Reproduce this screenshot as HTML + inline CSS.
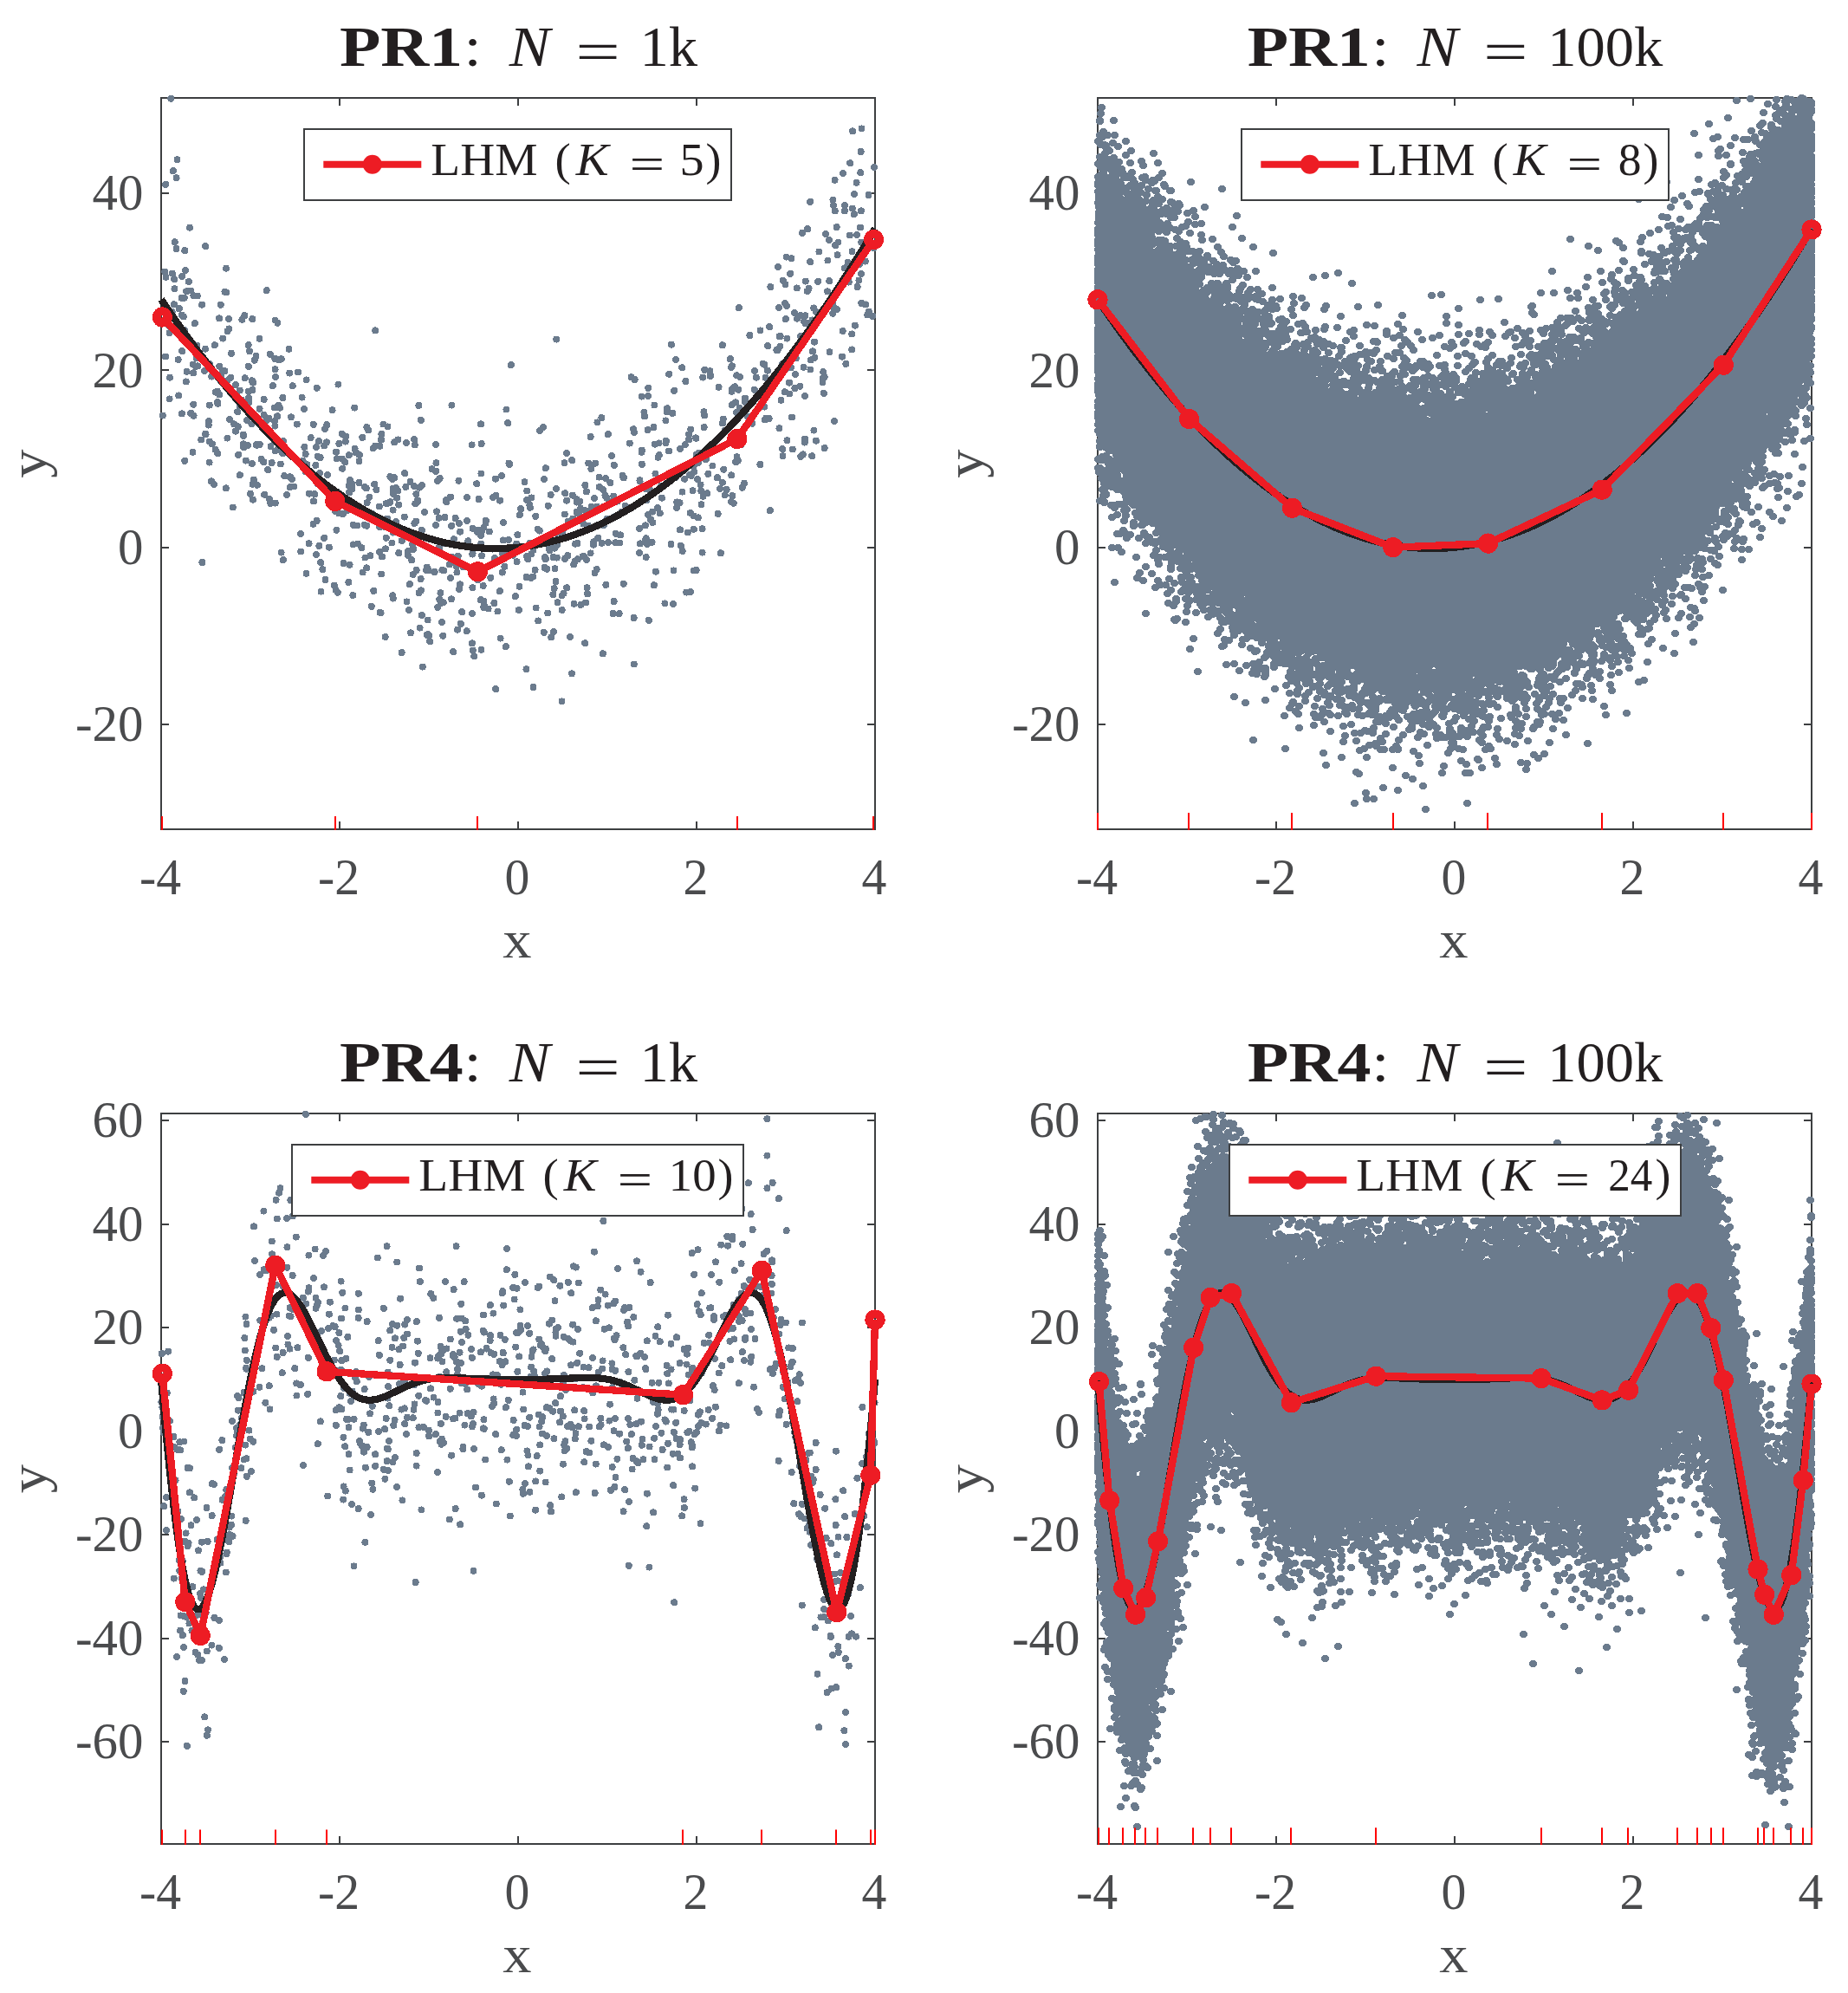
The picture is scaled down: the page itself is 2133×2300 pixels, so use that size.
<!DOCTYPE html>
<html lang="en">
<head>
<meta charset="utf-8">
<title>LHM fits: PR1 and PR4</title>
<style>
html,body{margin:0;padding:0;background:#fff}
svg{display:block}
text{font-family:"Liberation Serif","DejaVu Serif",serif}
</style>
</head>
<body>
<svg width="2133" height="2300" viewBox="0 0 2133 2300">
<rect width="2133" height="2300" fill="#fff"/>
<rect x="186.0" y="113.0" width="824.0" height="844.0" fill="none" stroke="#3d3f41" stroke-width="2"/>
<path d="M392.0 957.0v-9M392.0 113.0v9M598.0 957.0v-9M598.0 113.0v9M804.0 957.0v-9M804.0 113.0v9M186 223h9M1010 223h-9M186 427h9M1010 427h-9M186 632h9M1010 632h-9M186 836h9M1010 836h-9" fill="none" stroke="#3d3f41" stroke-width="2"/>
<path d="M291.9 576.7h0M597.4 617.2h0M681.6 638.4h0M209.6 343.7h0M307.9 484.9h0M950.8 453.9h0M244 555.4h0M292.9 553.6h0M967.4 279.6h0M698.4 571.7h0M490.1 590.9h0M607.4 772.3h0M732.2 499h0M412.9 627.5h0M299.7 512.8h0M835.3 541.7h0M738.4 554.3h0M608.2 642.1h0M859 557.8h0M638.4 686.2h0M994.3 279.5h0M354.5 536.2h0M642.3 628.4h0M584.5 472.5h0M477.1 633.8h0M673.5 604.5h0M379.9 631.7h0M847 512.6h0M900.7 388h0M292.1 441.6h0M570.9 643.9h0M414.4 557h0M254.5 434.5h0M924.3 526.8h0M540.3 624.3h0M307.7 335.2h0M740.9 519.6h0M352.6 544h0M928.8 510.6h0M364.9 640.1h0M213.3 289.1h0M351.4 515.9h0M470.9 636h0M572.4 571.7h0M932.7 372.7h0M760.6 511.4h0M465.6 620.3h0M199.9 197.2h0M317.7 580.6h0M1007.1 364.8h0M564.8 613.5h0M755.4 467.5h0M231 412.7h0M214.1 311.9h0M883 484.4h0M670.4 697.9h0M440.4 500.8h0M447.5 492.4h0M259.5 336.5h0M328.3 549.2h0M206.3 456.4h0M877.4 536h0M570.2 648.8h0M290.8 439.3h0M795.1 501.4h0M347.2 636.5h0M237 402.7h0M679.1 609.7h0M924.1 388.1h0M208.2 379.4h0M849.4 499.2h0M342.7 489.6h0M262.6 439.3h0M200.8 351.3h0M427.4 641.2h0M785.1 517.8h0M592.4 640.7h0M888.8 589.1h0M365 516.1h0M445.7 620.7h0M398.7 509.6h0M992.1 304.8h0M961.4 348h0M466.7 596.6h0M545.3 632.4h0M445 633.3h0M801.1 658.5h0M219 262.7h0M241.6 533.6h0M518.9 651.5h0M388 521.5h0M882.5 420.8h0M797.2 495.5h0M635.7 571h0M731.1 495.3h0M756.4 546.6h0M829.6 446.8h0M950.3 429.2h0M309.4 483.8h0M701.9 626h0M304.3 533.1h0M551.1 611.8h0M833.9 398.3h0M923.2 445.7h0M811.6 572.7h0M215.2 336.3h0M482.2 579h0M320.4 372.7h0M1009 193.1h0M304.7 478.9h0M387.3 590.3h0M480.3 601.5h0M236.2 427.8h0M903.2 518.2h0M710.4 595.6h0M317.6 520.4h0M596.6 648.2h0M250.8 464.2h0M689.4 487.4h0M376.9 510.4h0M217.8 325h0M281 512.4h0M643.5 695.2h0M710.9 615.9h0M453.6 588.6h0M716.2 617.4h0M476.1 628.4h0M293.7 415.7h0M445.7 581h0M511.7 695.3h0M938 405.4h0M281.3 516.3h0M257 428.8h0M648.7 704h0M979.8 325.6h0M933.6 332.7h0M763 560.8h0M241 486h0M850.5 527.3h0M749.1 563.9h0M304.6 460.9h0M569.1 573.9h0M226.6 413.1h0M846.7 580.7h0M778.2 450.8h0M849 464.4h0M812.6 493.1h0M406.2 558.3h0M836.7 571.3h0M391.3 592.4h0M299.6 471.7h0M507.7 552.1h0M596.2 627.6h0M421.5 643.5h0M685.2 625.4h0M682.5 584.7h0M383.6 473.2h0M699 551.9h0M480.4 570.2h0M791.4 440h0M425.3 496.4h0M844.2 424h0M528.1 726.6h0M641.9 563.9h0M740.8 535.9h0M613.1 666.8h0M398.3 533.3h0M993 262.5h0M265.1 484.1h0M453.7 614.6h0M638.5 643.1h0M209.6 363.5h0M313.6 534.1h0M844.6 451.7h0M831.9 638.3h0M710.9 615.8h0M929.1 506.5h0M808.6 559.4h0M432.2 558.7h0M717.4 590.9h0M466.2 619.1h0M803.9 524.8h0M503.1 513.1h0M312.3 580.8h0M908.2 353h0M754.9 675.3h0M799.6 566.3h0M647.1 610.6h0M831.1 563.9h0M555 617.9h0M652.2 569.3h0M237.6 501.3h0M643.4 628.7h0M857.2 503.1h0M767.4 696.4h0M847.8 499.9h0M594.8 688.2h0M912.2 315.9h0M275.2 524.8h0M907.6 296.6h0M491.9 658.1h0M261 309.7h0M696.3 565.3h0M560.8 600.7h0M539 574h0M888.1 377.2h0M299.5 390.8h0M694.4 482.1h0M526.9 653.4h0M621.3 716.4h0M597.5 629.9h0M296.5 513.8h0M607.9 576.9h0M896.4 403.9h0M327.1 509.1h0M195.5 384.2h0M241.7 467.6h0M564.9 652.8h0M988.9 271.1h0M222.5 521.7h0M1002.5 225h0M627.7 729.8h0M285 485.2h0M530.9 674.4h0M356.9 569.6h0M774.5 628.1h0M632.2 707.5h0M423.3 606.7h0M396.5 650.1h0M900.4 399.7h0M817.4 546.9h0M545.4 678.2h0M520.1 666.9h0M793.7 614.5h0M985.9 223.9h0M251.6 453.4h0M317.1 486.1h0M484.6 724.6h0M604.4 631.1h0M244.8 512.3h0M230.1 410.5h0M366.8 526.9h0M504 590.3h0M795.2 507.1h0M688.6 657.1h0M210.1 318.8h0M223.1 430.3h0M558.5 608.5h0M906.9 368.2h0M940 394.6h0M486.8 710h0M917.2 361.1h0M951.6 435.1h0M521 691.3h0M800.8 610.7h0M487 560.2h0M312.5 515.2h0M660 777.3h0M257.2 390.6h0M732.6 438.1h0M852.8 355.1h0M940.3 412.7h0M555.2 627.6h0M282.7 436.3h0M929.7 324.6h0M903.2 420.2h0M983.3 385.4h0M675.4 559.9h0M740.9 535.5h0M493.6 715.5h0M336.9 552.9h0M426.4 573.7h0M779.8 550.9h0M453.8 569.7h0M755.9 512.7h0M599.8 594.1h0M556 641.3h0M983.3 403.4h0M322.9 470.6h0M587.4 534.5h0M317.6 369.6h0M958.5 348.8h0M588.6 635.8h0M459.5 507.4h0M324.7 414.3h0M675.5 589.3h0M514.7 577.2h0M290.8 535h0M212.7 343.7h0M508.4 684.3h0M666.5 627h0M613.5 639.3h0M927.6 423.7h0M937.2 526.3h0M957.5 406.3h0M844.9 467.2h0M579.6 638.1h0M617.6 657.7h0M513.4 597h0M515.2 579.1h0M220.3 335.6h0M844.2 548.4h0M388.7 567.6h0M210.2 405.1h0M570.4 696h0M777.5 658.4h0M545.3 639.6h0M486 681.3h0M728.6 435.2h0M320.2 518.7h0M195.3 376.3h0M674.2 642.2h0M623.1 496.9h0M899.4 494.3h0M528.7 641.8h0M833.8 556.7h0M200.8 377.1h0M208.5 381.8h0M679.2 534.6h0M372.4 657.1h0M241.4 424.8h0M291.3 368.1h0M494.8 658.5h0M463.8 624h0M650.6 684.8h0M917.4 448.1h0M487.3 627.6h0M337.7 445.3h0M662.3 651.5h0M187.8 479.6h0M503.1 606.1h0M447.4 598.5h0M505.2 555h0M227.9 341.5h0M642.7 643.6h0M700.3 574.4h0M803.6 657.9h0M974.9 243.3h0M478.3 604h0M726.8 511.6h0M550.2 558.3h0M363.2 570.2h0M918.8 413.4h0M800.6 595.4h0M962.9 485.9h0M863 480.7h0M942 360h0M291.5 558.9h0M198.9 315.6h0M349.6 531.8h0M525.6 598h0M752.6 625.7h0M547.3 757.3h0M609 576.7h0M813.1 479.4h0M244.2 434.6h0M744.9 606.4h0M226.2 423h0M390.9 580.4h0M781.2 586h0M748.8 715.8h0M520 573.6h0M428.7 699.8h0M868.4 488.7h0M412.4 606.5h0M211.7 365.4h0M389.7 683.7h0M203.5 287.1h0M854 434.9h0M286.8 422.8h0M988.6 210.8h0M361.5 604.7h0M438.2 608.3h0M668.2 592.6h0M440 507.5h0M498.5 541.3h0M271.9 497.6h0M506.6 631.7h0M206.8 356.2h0M370.5 682.6h0M935.4 426.5h0M417.4 632.1h0M409.2 470.6h0M745.7 621.3h0M913.5 298.3h0M429.8 593.2h0M496.1 740.2h0M774.9 397.7h0M838.7 564.9h0M691.8 562h0M333.5 402.9h0M334.9 562.2h0M810.6 610.3h0M768.4 485.4h0M924.5 389.3h0M828.6 592.9h0M533.1 706.2h0M295.8 513.2h0M919.7 332.4h0M759.1 585.9h0M660.9 571.7h0M747.9 457h0M503.4 534.3h0M468.9 511h0M660.2 531.2h0M583.8 746.1h0M770.2 471.3h0M957.3 324.2h0M884.2 454.3h0M505.3 700.8h0M492.9 732.8h0M949.7 436.9h0M511.2 627.3h0M845.4 572.1h0M262.4 505.6h0M557.7 676h0M611.4 583h0M852.5 502.5h0M909.2 424.6h0M311.8 408.8h0M694.5 626.8h0M704.4 557.1h0M310.9 575.9h0M872.9 435.7h0M642.1 615.1h0M978.5 302.8h0M339.5 561.5h0M618.6 701.5h0M452.5 626.5h0M715.4 626.5h0M687.1 534.7h0M608.2 566.5h0M453.7 690.6h0M601.2 587.1h0M492.7 654.6h0M920 367.7h0M566.3 666.8h0M577.6 736.6h0M399.1 503.5h0M395.2 540.7h0M972 411.6h0M444.7 735h0M901.5 461.8h0M676.1 695.5h0M993.9 316.1h0M321.2 467.8h0M961.9 237h0M822.5 537.5h0M654 523h0M770.1 475.5h0M781.3 579.4h0M555.5 749.9h0M708.8 536.9h0M374.3 514.5h0M203.6 205.2h0M743.4 475.6h0M577 577.6h0M932.2 264.2h0M403.6 651.8h0M860 459.6h0M998.7 301.6h0M926 268.8h0M980.7 271.5h0M317.1 470.5h0M322 415.3h0M374.1 620.8h0M483.9 562.6h0M281.1 502.8h0M310.2 482.7h0M201.2 322.3h0M955 336.3h0M483.5 684.2h0M701.8 501.1h0M560.5 603.8h0M798.3 534.8h0M850.3 433.3h0M501.6 660h0M627.1 493.1h0M266.3 435.7h0M421.2 562.1h0M369.6 528.1h0M440.3 662.5h0M453.3 687.3h0M659.8 601.6h0M460.2 582.6h0M455.3 510.4h0M871 427.9h0M196 435.7h0M190.3 313.6h0M233.1 351.7h0M899.2 355h0M708.2 572.5h0M785.8 629.8h0M975.1 237.1h0M365.6 601h0M944.1 324.8h0M385.9 675.6h0M613.5 574.4h0M747.2 628h0M842.9 414.2h0M390.4 443.6h0M579.1 549.1h0M223.6 479.8h0M423.2 655.4h0M994.3 349.9h0M931.8 336h0M665.6 590.5h0M834.1 488.5h0M929.4 364.2h0M459.4 566.4h0M993.9 243.4h0M555.6 512.1h0M316.9 510.2h0M622.8 612.6h0M675.2 742.3h0M756.9 659.6h0M738.9 627.4h0M220.2 476.9h0M712.6 578.6h0M945.4 290.5h0M738.2 609.9h0M989.6 331h0M607.5 666h0M853.6 470.6h0M301.6 529.7h0M923.9 364.2h0M545.6 609.9h0M908.4 390.6h0M450.4 550.1h0M700.4 598.8h0M883.6 435.8h0M772.2 431.7h0M696.8 606.1h0M985.8 247.1h0M258.5 439.4h0M270 489.3h0M640.5 656.2h0M972.7 382h0M751.7 570.2h0M441.1 642.5h0M274.8 492.4h0M555.4 546.5h0M581.8 642.3h0M571.9 552.7h0M696.3 584.7h0M410.8 522.1h0M911.4 454.5h0M423.6 580.1h0M274.2 475.3h0M473.5 556h0M957 277.2h0M317.4 491.6h0M414.8 525h0M949.5 441.1h0M472.8 674.2h0M880.7 419.8h0M223.4 341.2h0M918.1 431.9h0M381.5 576.5h0M334.8 550.3h0M797.6 548.9h0M1001.3 363.5h0M976.4 419.9h0M805.9 534.2h0M939.4 496.6h0M999.3 351.4h0M641.5 671.1h0M305.2 570.7h0M885.9 427.6h0M512.2 658.5h0M443.6 607.9h0M598.8 704h0M214.7 440.4h0M201.4 333.3h0M403.8 554.1h0M677 646.1h0M803.5 505.9h0M974.7 309.4h0M860.1 463.8h0M961.5 230.5h0M710.3 626.3h0M790.7 513.3h0M670 586.8h0M253.1 455.3h0M237 500.7h0M812.4 475.3h0M352.7 523.9h0M836.8 496.9h0M568.4 633.6h0M191.7 355h0M648.7 687.2h0M551.1 614.1h0M246.9 558.8h0M401.1 581.2h0M438.7 706.9h0M470.8 640.9h0M768.4 511.4h0M323.8 535.5h0M551.3 669.1h0M686 575.1h0M965.8 357h0M280.7 501.5h0M251.4 465.8h0M344 429.5h0M367.8 509.2h0M320.1 480.3h0M248.6 518.8h0M358.7 505.2h0M370.1 649.2h0M581.1 602.9h0M719.7 673.7h0M485.8 484.9h0M324.6 637.6h0M264 367.9h0M402.8 525.3h0M326.8 646.2h0M582.4 653.9h0M903.8 323.7h0M776.4 476.9h0M353.5 661.9h0M215.5 428.8h0M241.7 509.6h0M545.1 708.1h0M485.6 668.1h0M748.3 447.8h0M255.1 434.3h0M395.8 593.3h0M751.1 599.4h0M654.1 577.6h0M611.8 585.7h0M929 457.1h0M279.4 368.8h0M347.1 616.1h0M652 644.8h0M651.8 593.5h0M993.6 175h0M991.4 323.5h0M669.9 599h0M811.3 435.6h0M760.7 525.2h0M295.5 410.6h0M682.3 541h0M437.9 584.5h0M481.8 577.3h0M314.8 445.2h0M192.9 362.3h0M889.4 331.1h0M776.9 696.9h0M805.8 597.4h0M423.3 493h0M529.9 604h0M331.1 570.9h0M682.2 587.6h0M877.5 381.4h0M827.8 551.2h0M955.5 300.5h0M400.6 589.4h0M763.9 574.7h0M290.4 489.4h0M627.9 553.1h0M276.8 548.3h0M631.2 656.7h0M632.7 583.7h0M471.9 704h0M474 730.3h0M772 520.5h0M582.4 637.1h0M521.9 642.9h0M278.9 461.6h0M418.6 660.5h0M884 454.5h0M986.9 375.6h0M493.5 656.2h0M903.5 526.2h0M905.9 452.3h0M365.7 447.7h0M411.6 586.4h0M759.5 527.9h0M438.2 636.9h0M973.2 200h0M486.8 611.8h0M787.7 636h0M768.8 508.7h0M362 578.4h0M899.6 388.3h0M456.9 602h0M276.7 450.6h0M227.3 398.6h0M558.3 700.9h0M707.6 708h0M409.6 517.7h0M879.7 464.9h0M406.4 564.3h0M884.3 482.6h0M213.3 531.8h0M402.4 671.9h0M317.4 414h0M554.9 692.2h0M475.1 646.3h0M511.3 733.8h0M887.7 483.1h0M663.6 647.7h0M684.9 628.7h0M507.4 634.7h0M851.8 531.6h0M599.5 676.7h0M800.7 538.1h0M939.3 355.4h0M690.3 620.8h0M544.6 513.4h0M403.2 568.2h0M937.5 369.4h0M816.3 569.3h0M844.8 422.3h0M368.4 629.9h0M545.8 750.5h0M914.1 481.5h0M388.7 529.3h0M856.7 562.7h0M629.8 540.3h0M366.3 557.8h0M495.4 733.4h0M248.8 452.6h0M740.6 457.6h0M785 611.4h0M209.9 477.4h0M434.4 565.2h0M819.5 428.2h0M351.1 472.1h0M628.5 655.1h0M850 476.1h0M655.7 601.7h0M286.7 398.2h0M935.2 232.9h0M801.3 544.5h0M651.5 534.3h0M460.3 638.1h0M665.8 579.6h0M508.6 696h0M283.8 531.6h0M286.6 451.6h0M223.3 466.7h0M326.4 459h0M388.4 611.7h0M709.5 596.3h0M664.1 627.7h0M672.6 642.1h0M863.3 465.6h0M264.4 379.4h0M506.5 597.8h0M251.3 523.3h0M531.1 613.6h0M250.9 451.5h0M240.7 490.6h0M271.9 444.1h0M507.3 691.8h0M814.8 530.2h0M418.3 504.9h0M797.2 683h0M378.2 548h0M422.7 563.4h0M574.5 705.5h0M247.8 398.3h0M555.9 612.7h0M666.9 645.3h0M865.4 387h0M232.3 507.5h0M845.1 449.2h0M655.4 641.1h0M662.5 696.8h0M228.1 422.4h0M911 441.6h0M414.5 532.4h0M636.3 735.5h0M629.8 645.3h0M935.9 415.4h0M681.6 504.1h0M1002.9 359.7h0M377.3 490.2h0M731.6 713h0M661.3 598.6h0M609.2 645.1h0M703.2 578.6h0M639.7 679.1h0M463.6 753.1h0M714.7 708.2h0M254.7 351.7h0M580.7 623.4h0M559.1 699.2h0M361.7 489.8h0M654.1 678.3h0M738 637.9h0M289 569.8h0M430.7 517.3h0M237.1 284.2h0M678.1 685.3h0M253.3 422.7h0M375 495.2h0M555 489.4h0M558.2 693.9h0M213.2 381h0M966.6 294.3h0M375.5 669.1h0M688.6 584.5h0M369.1 546h0M676.9 567.4h0M476.7 663h0M448.5 580.6h0M576.9 682.2h0M669.1 578.8h0M678.9 606.5h0M753.3 603h0M407.3 687h0M261.5 337.5h0M394.8 500.8h0M455.2 551.2h0M686.5 661.4h0M527.5 660.5h0M442.5 489.5h0M267 407.8h0M677.6 678.3h0M276.6 468h0M611.9 626.6h0M753.2 590.6h0M699.4 674.9h0M317.6 426.2h0M479.3 581.3h0M961.3 361.7h0M260.8 563.4h0M745.3 622.8h0M545.6 638.2h0M691.5 550.6h0M510.4 657.8h0M288 405.3h0M649.4 617.6h0M191 411.5h0M898 308.1h0M844.2 579.2h0M494 732.1h0M628.8 643.2h0M620.7 610.7h0M993.3 199.2h0M222 403.2h0M431.3 681.9h0M521.4 467.6h0M834.8 483.6h0M787.5 567.6h0M534.8 654.1h0M195.6 460.4h0M719.9 551.4h0M521.2 606.8h0M282.3 364.1h0M705.9 525.9h0M552.6 576h0M438.5 514.7h0M407.8 605.8h0M615.2 665.5h0M390.1 577.3h0M510.1 718.1h0M962.2 354.8h0M579.7 660.6h0M394.9 529.7h0M615.5 634.8h0M941.9 508.7h0M899.8 428.5h0M744.1 480.5h0M926.8 524.4h0M809.5 582.2h0M746.4 577.4h0M538.7 728.3h0M309.1 542.2h0M789.2 542.2h0M708.6 694h0M983.5 290.2h0M450.5 579.2h0M908.4 508.3h0M366.1 552.8h0M965.7 262.1h0M1006.5 285.5h0M224.9 373.2h0M453.5 563.7h0M1008.6 286.1h0M983.9 240.5h0M738.6 555.6h0M296.8 559.7h0M191.5 319.8h0M391.4 511.9h0M964.2 283.1h0M849.2 533.3h0M539.1 601.1h0M813.3 426.9h0M929.5 373.4h0M433.1 514.6h0M906.5 328.4h0M408.1 585.9h0M456.9 563h0M222.8 420.5h0M318 435.2h0M639.9 632.6h0M205.7 415h0M635.7 628.9h0M326.1 523.2h0M803 505.3h0M291.5 450.1h0M356.6 627.2h0M407.6 628.4h0M666.2 592.3h0M852.2 449.7h0M806.6 522.6h0M796.8 592h0M747.7 496.1h0M633.7 632.3h0M468.3 562h0M334.2 430.6h0M897.7 404.1h0M523.2 752.2h0M721.8 583.8h0M242.3 420.3h0M483.4 467.9h0M268.7 585.5h0M478.1 507.2h0M790.2 552.7h0M467.1 546.2h0M748.1 594h0M287.5 464.4h0M503.2 543.9h0M523.9 622.3h0M605.5 556.2h0M374.2 562.8h0M761.7 592.3h0M913 424.3h0M855.6 513.3h0M211.4 390.1h0M588.2 535.8h0M469.5 694.4h0M658 735.1h0M254.6 439.2h0M787.2 424.3h0M529.4 554.7h0M963.8 243.5h0M201.7 279.3h0M530.2 679.9h0M587 623h0M870.8 449.9h0M809.3 566.5h0M336 481.3h0M439.6 707.4h0M792.3 683.6h0M531.8 719.9h0M402.8 560.6h0M952.9 270h0M880.7 464.1h0M478.8 513.4h0M638.8 729.2h0M951.7 517.1h0M364.4 536.9h0M935.1 302.2h0M914.8 518.5h0M784.6 580.2h0M751.3 600.1h0M750.5 566.4h0M634.4 635h0M665.8 576.4h0M348.6 458.6h0M649.6 612.8h0M740.5 521.8h0M586.1 488.2h0M745.7 643h0M563.6 702.5h0M848.1 446.3h0M780 414.9h0M259.4 428.1h0M819.9 433.2h0M420.7 605.7h0M253.1 367.4h0M285.9 514.2h0M453 552.9h0M618.3 595.8h0M458.1 574.7h0M353.6 438.4h0M819.8 434h0M494 657.6h0M906.1 349.9h0M387.5 680.8h0M754.5 493h0M480.6 657.9h0M886.2 399.1h0M718.6 549h0M745.2 563.9h0M262.5 382.3h0M805.1 552.9h0M478 561h0M795.9 548h0M882.4 469.6h0M286.9 459.2h0M198.6 360.1h0M810.6 637.6h0M984.1 151.4h0M927.9 370.9h0M544.9 742.4h0M197.3 113.7h0M994.5 148.4h0M204.5 184.2h0M981.2 188.3h0M433.2 381.4h0M642.3 391.6h0M589.8 421.2h0M648.5 809.4h0M615.5 793.1h0M233.4 649h0M963.6 207.7h0M191.1 212.8h0M487.8 769.6h0M572.2 795.1h0M731.9 766.5h0M695.9 754.3h0" fill="none" stroke="#6b7b8d" stroke-width="8.0" stroke-linecap="round" shape-rendering="crispEdges"/>
<polyline points="186,345.6 188.1,348.7 190.1,351.7 192.2,354.7 194.2,357.7 196.3,360.7 198.4,363.7 200.4,366.7 202.5,369.6 204.5,372.5 206.6,375.4 208.7,378.3 210.7,381.2 212.8,384.1 214.8,386.9 216.9,389.7 219,392.6 221,395.3 223.1,398.1 225.1,400.9 227.2,403.6 229.3,406.4 231.3,409.1 233.4,411.8 235.4,414.5 237.5,417.1 239.6,419.8 241.6,422.4 243.7,425 245.7,427.6 247.8,430.2 249.9,432.8 251.9,435.3 254,437.8 256,440.4 258.1,442.9 260.2,445.4 262.2,447.8 264.3,450.3 266.3,452.7 268.4,455.1 270.5,457.5 272.5,459.9 274.6,462.3 276.6,464.6 278.7,467 280.8,469.3 282.8,471.6 284.9,473.9 286.9,476.2 289,478.4 291.1,480.7 293.1,482.9 295.2,485.1 297.2,487.3 299.3,489.5 301.4,491.6 303.4,493.8 305.5,495.9 307.5,498 309.6,500.1 311.7,502.2 313.7,504.2 315.8,506.3 317.8,508.3 319.9,510.3 322,512.3 324,514.3 326.1,516.2 328.1,518.2 330.2,520.1 332.3,522 334.3,523.9 336.4,525.8 338.4,527.7 340.5,529.5 342.6,531.3 344.6,533.1 346.7,534.9 348.7,536.7 350.8,538.5 352.9,540.2 354.9,542 357,543.7 359,545.4 361.1,547.1 363.2,548.7 365.2,550.4 367.3,552 369.3,553.6 371.4,555.2 373.5,556.8 375.5,558.4 377.6,560 379.6,561.5 381.7,563 383.8,564.5 385.8,566 387.9,567.5 389.9,568.9 392,570.4 394.1,571.8 396.1,573.2 398.2,574.6 400.2,576 402.3,577.3 404.4,578.7 406.4,580 408.5,581.3 410.5,582.6 412.6,583.9 414.7,585.1 416.7,586.4 418.8,587.6 420.8,588.8 422.9,590 425,591.2 427,592.3 429.1,593.5 431.1,594.6 433.2,595.7 435.3,596.8 437.3,597.9 439.4,598.9 441.4,600 443.5,601 445.6,602 447.6,603 449.7,604 451.7,605 453.8,605.9 455.9,606.9 457.9,607.8 460,608.7 462,609.6 464.1,610.4 466.2,611.3 468.2,612.1 470.3,612.9 472.3,613.7 474.4,614.5 476.5,615.3 478.5,616 480.6,616.8 482.6,617.5 484.7,618.2 486.8,618.9 488.8,619.5 490.9,620.2 492.9,620.8 495,621.5 497.1,622.1 499.1,622.6 501.2,623.2 503.2,623.8 505.3,624.3 507.4,624.8 509.4,625.3 511.5,625.8 513.5,626.3 515.6,626.8 517.7,627.2 519.7,627.6 521.8,628 523.8,628.4 525.9,628.8 528,629.2 530,629.5 532.1,629.8 534.1,630.1 536.2,630.4 538.3,630.7 540.3,631 542.4,631.2 544.4,631.5 546.5,631.7 548.6,631.9 550.6,632 552.7,632.2 554.7,632.4 556.8,632.5 558.9,632.6 560.9,632.7 563,632.8 565,632.8 567.1,632.9 569.2,632.9 571.2,632.9 573.3,632.9 575.3,632.9 577.4,632.9 579.5,632.8 581.5,632.8 583.6,632.7 585.6,632.6 587.7,632.5 589.8,632.4 591.8,632.2 593.9,632 595.9,631.9 598,631.7 600.1,631.5 602.1,631.2 604.2,631 606.2,630.7 608.3,630.4 610.4,630.1 612.4,629.8 614.5,629.5 616.5,629.2 618.6,628.8 620.7,628.4 622.7,628 624.8,627.6 626.8,627.2 628.9,626.8 631,626.3 633,625.8 635.1,625.3 637.1,624.8 639.2,624.3 641.3,623.8 643.3,623.2 645.4,622.6 647.4,622.1 649.5,621.5 651.6,620.8 653.6,620.2 655.7,619.5 657.7,618.9 659.8,618.2 661.9,617.5 663.9,616.8 666,616 668,615.3 670.1,614.5 672.2,613.7 674.2,612.9 676.3,612.1 678.3,611.3 680.4,610.4 682.5,609.6 684.5,608.7 686.6,607.8 688.6,606.9 690.7,605.9 692.8,605 694.8,604 696.9,603 698.9,602 701,601 703.1,600 705.1,598.9 707.2,597.9 709.2,596.8 711.3,595.7 713.4,594.6 715.4,593.5 717.5,592.3 719.5,591.2 721.6,590 723.7,588.8 725.7,587.6 727.8,586.4 729.8,585.1 731.9,583.9 734,582.6 736,581.3 738.1,580 740.1,578.7 742.2,577.3 744.3,576 746.3,574.6 748.4,573.2 750.4,571.8 752.5,570.4 754.6,568.9 756.6,567.5 758.7,566 760.7,564.5 762.8,563 764.9,561.5 766.9,560 769,558.4 771,556.8 773.1,555.2 775.2,553.6 777.2,552 779.3,550.4 781.3,548.7 783.4,547.1 785.5,545.4 787.5,543.7 789.6,542 791.6,540.2 793.7,538.5 795.8,536.7 797.8,534.9 799.9,533.1 801.9,531.3 804,529.5 806.1,527.7 808.1,525.8 810.2,523.9 812.2,522 814.3,520.1 816.4,518.2 818.4,516.2 820.5,514.3 822.5,512.3 824.6,510.3 826.7,508.3 828.7,506.3 830.8,504.2 832.8,502.2 834.9,500.1 837,498 839,495.9 841.1,493.8 843.1,491.6 845.2,489.5 847.3,487.3 849.3,485.1 851.4,482.9 853.4,480.7 855.5,478.4 857.6,476.2 859.6,473.9 861.7,471.6 863.7,469.3 865.8,467 867.9,464.6 869.9,462.3 872,459.9 874,457.5 876.1,455.1 878.2,452.7 880.2,450.3 882.3,447.8 884.3,445.4 886.4,442.9 888.5,440.4 890.5,437.8 892.6,435.3 894.6,432.8 896.7,430.2 898.8,427.6 900.8,425 902.9,422.4 904.9,419.8 907,417.1 909.1,414.5 911.1,411.8 913.2,409.1 915.2,406.4 917.3,403.6 919.4,400.9 921.4,398.1 923.5,395.3 925.5,392.6 927.6,389.7 929.7,386.9 931.7,384.1 933.8,381.2 935.8,378.3 937.9,375.4 940,372.5 942,369.6 944.1,366.7 946.1,363.7 948.2,360.7 950.3,357.7 952.3,354.7 954.4,351.7 956.4,348.7 958.5,345.6 960.6,342.5 962.6,339.4 964.7,336.3 966.7,333.2 968.8,330.1 970.9,326.9 972.9,323.7 975,320.6 977,317.4 979.1,314.1 981.2,310.9 983.2,307.6 985.3,304.4 987.3,301.1 989.4,297.8 991.5,294.5 993.5,291.1 995.6,287.8 997.6,284.4 999.7,281 1001.8,277.6 1003.8,274.2 1005.9,270.8 1007.9,267.3 1010,263.9" fill="none" stroke="#231f20" stroke-width="8.2" stroke-linejoin="round" shape-rendering="crispEdges"/>
<polyline points="187.3,366 386.9,578.5 551.4,659.8 850.9,506.5 1008.5,276.5" fill="none" stroke="#ed1c24" stroke-width="8.3" stroke-linejoin="round" shape-rendering="crispEdges"/>
<g fill="none" stroke="#ed1c24" stroke-width="9.8" shape-rendering="crispEdges"><circle cx="187.3" cy="366" r="6.7"/><circle cx="386.9" cy="578.5" r="6.7"/><circle cx="551.4" cy="659.8" r="6.7"/><circle cx="850.9" cy="506.5" r="6.7"/><circle cx="1008.5" cy="276.5" r="6.7"/></g>
<path d="M187 958.0v-16.0M387 958.0v-16.0M551 958.0v-16.0M851 958.0v-16.0M1008 958.0v-16.0" fill="none" stroke="#ff0000" stroke-width="2"/>
<text transform="translate(185.00,1032.20) scale(0.965,1)" font-size="59.8" text-anchor="middle" fill="#4a4b4d">-4</text>
<text transform="translate(391.00,1032.20) scale(0.965,1)" font-size="59.8" text-anchor="middle" fill="#4a4b4d">-2</text>
<text transform="translate(597.00,1032.20) scale(0.965,1)" font-size="59.8" text-anchor="middle" fill="#4a4b4d">0</text>
<text transform="translate(803.00,1032.20) scale(0.965,1)" font-size="59.8" text-anchor="middle" fill="#4a4b4d">2</text>
<text transform="translate(1009.00,1032.20) scale(0.965,1)" font-size="59.8" text-anchor="middle" fill="#4a4b4d">4</text>
<text transform="translate(165.50,242.40) scale(0.985,1)" font-size="59.8" text-anchor="end" fill="#4a4b4d">40</text>
<text transform="translate(165.50,446.74) scale(0.985,1)" font-size="59.8" text-anchor="end" fill="#4a4b4d">20</text>
<text transform="translate(165.50,651.07) scale(0.985,1)" font-size="59.8" text-anchor="end" fill="#4a4b4d">0</text>
<text transform="translate(165.50,855.40) scale(0.985,1)" font-size="59.8" text-anchor="end" fill="#4a4b4d">-20</text>
<text transform="translate(597.00,1105.00) scale(1.1,1)" font-size="60.5" text-anchor="middle" fill="#4a4b4d">x</text>
<text transform="translate(52.7,535.0) rotate(-90) scale(1.10,1)" font-size="60.5" text-anchor="middle" fill="#4a4b4d">y</text>
<text transform="translate(391.94,76.30) scale(1.1934,1)" font-size="65" font-weight="bold" fill="#231f20">PR1</text>
<text transform="translate(535.46,76.30) scale(1.1237,1)" font-size="65" fill="#231f20">:</text>
<text transform="translate(587.75,76.30) scale(1.0897,1)" font-size="65" font-style="italic" fill="#231f20">N</text>
<text transform="translate(664.32,82.30) scale(1.4094,1)" font-size="65" fill="#231f20">=</text>
<text transform="translate(738.43,76.30) scale(1.0256,1)" font-size="65" fill="#231f20">1k</text>
<rect x="351.0" y="149.0" width="493.0" height="82" fill="#fff" stroke="#3d3f41" stroke-width="2"/>
<path d="M373.3 189.7h113" fill="none" stroke="#ed1c24" stroke-width="8"/>
<circle cx="429.8" cy="189.7" r="11" fill="#ed1c24"/>
<text transform="translate(497.34,202.20) scale(1.0659,1)" font-size="52" fill="#231f20">LHM</text>
<text transform="translate(640.53,202.20) scale(1.0558,1)" font-size="52" fill="#231f20">(</text>
<text transform="translate(664.77,202.20) scale(1.0897,1)" font-size="52" font-style="italic" fill="#231f20">K</text>
<text transform="translate(726.39,207.20) scale(1.3896,1)" font-size="52" fill="#231f20">=</text>
<text transform="translate(784.62,202.20) scale(1.0817,1)" font-size="52" fill="#231f20">5</text>
<text transform="translate(814.48,202.20) scale(1.0355,1)" font-size="52" fill="#231f20">)</text>
<rect x="1267.0" y="113.0" width="824.0" height="844.0" fill="none" stroke="#3d3f41" stroke-width="2"/>
<path d="M1473.0 957.0v-9M1473.0 113.0v9M1679.0 957.0v-9M1679.0 113.0v9M1885.0 957.0v-9M1885.0 113.0v9M1267 223h9M2091 223h-9M1267 427h9M2091 427h-9M1267 632h9M2091 632h-9M1267 836h9M2091 836h-9" fill="none" stroke="#3d3f41" stroke-width="2"/>
<path d="M2077 109.5h5M2018 110.5h5m37 0h5m11 0h8M2017 111.5h7m24 0h5m6 0h11m5 0h10M2002 112.5h5m9 0h9m22 0h7m4 0h13m3 0h12M2001 113.5h7m8 0h9m21 0h9m3 0h33M2000 114.5h9m7 0h9m21 0h9m2 0h36M2000 115.5h9m7 0h9m21 0h9m1 0h38M2000 116.5h9m8 0h7m14 0h5m3 0h9m1 0h39M2000 117.5h9m9 0h5m14 0h7m3 0h7m2 0h39M2001 118.5h7m28 0h9m3 0h5m3 0h39M2002 119.5h5m29 0h9m2 0h5m5 0h9m1 0h28M1269 120.5h5m762 0h9m1 0h7m4 0h9m2 0h27M1268 121.5h7m761 0h18m3 0h9m2 0h27M1267 122.5h9m761 0h7m1 0h9m2 0h39M1267 123.5h9m762 0h5m2 0h49M1267 124.5h9m769 0h50M1267 125.5h9m770 0h49M1268 126.5h7m758 0h5m9 0h48M1268 127.5h6m758 0h7m11 0h45M1267 128.5h7m757 0h9m9 0h13m2 0h31M1266 129.5h9m756 0h9m7 0h16m1 0h31M1266 130.5h9m756 0h9m6 0h49M1266 131.5h9m756 0h9m5 0h27m2 0h20M1266 132.5h9m717 0h5m35 0h7m6 0h27m2 0h19M1267 133.5h7m717 0h7m35 0h5m7 0h48M1268 134.5h5m717 0h9m46 0h10m1 0h36M1267 135.5h5m11 0h5m702 0h9m47 0h9m2 0h35M1266 136.5h7m9 0h7m701 0h9m47 0h46M1265 137.5h9m7 0h9m700 0h9m47 0h46M1265 138.5h9m7 0h9m701 0h7m34 0h5m9 0h47M1265 139.5h9m7 0h9m680 0h5m17 0h5m34 0h7m9 0h47M1265 140.5h9m7 0h9m679 0h7m54 0h9m3 0h5m1 0h47M1265 141.5h9m8 0h7m679 0h9m52 0h10m2 0h7m3 0h44M1266 142.5h7m10 0h5m680 0h9m51 0h11m1 0h9m3 0h43M1267 143.5h5m696 0h9m50 0h12m1 0h9m4 0h42M1968 144.5h9m50 0h11m2 0h9m7 0h39M1969 145.5h7m51 0h10m3 0h10m6 0h39M1970 146.5h5m52 0h9m4 0h15m1 0h39M2019 147.5h5m4 0h7m5 0h55M1271 148.5h5m742 0h7m4 0h5m6 0h55M1270 149.5h7m740 0h9m5 0h5m5 0h54M1269 150.5h9m675 0h5m59 0h9m4 0h10m1 0h54M1269 151.5h9m674 0h7m58 0h9m3 0h12m1 0h52M1267 152.5h14m3 0h5m662 0h9m57 0h9m3 0h64M1266 153.5h16m1 0h7m661 0h9m58 0h7m4 0h65M1265 154.5h26m660 0h9m20 0h5m34 0h9m1 0h66M1265 155.5h26m660 0h9m19 0h7m14 0h5m17 0h7m1 0h65M1265 156.5h26m661 0h7m16 0h12m12 0h7m15 0h9m1 0h64M1265 157.5h26m662 0h5m16 0h13m11 0h9m3 0h10m1 0h9m5 0h60M1266 158.5h16m1 0h7m683 0h14m11 0h9m2 0h21m5 0h60M1265 159.5h16m3 0h5m8 0h5m671 0h14m11 0h9m1 0h22m5 0h60M1264 160.5h12m20 0h7m670 0h13m12 0h9m1 0h22m4 0h61M1263 161.5h12m7 0h5m8 0h9m669 0h12m14 0h7m2 0h23m2 0h62M1263 162.5h10m8 0h7m7 0h9m670 0h7m19 0h5m3 0h23m1 0h63M1263 163.5h14m3 0h9m6 0h9m671 0h5m29 0h12m1 0h73M1263 164.5h16m1 0h9m6 0h9m691 0h5m10 0h10m2 0h73M1264 165.5h29m3 0h7m691 0h7m22 0h72M1265 166.5h29m3 0h5m691 0h9m22 0h71M1266 167.5h29m698 0h9m25 0h68M1266 168.5h15m1 0h13m688 0h5m5 0h9m25 0h68M1267 169.5h15m4 0h9m687 0h7m4 0h9m26 0h67M1268 170.5h15m3 0h9m8 0h5m673 0h9m4 0h7m28 0h66M1272 171.5h12m3 0h7m8 0h7m671 0h10m5 0h5m31 0h64M1273 172.5h12m3 0h5m8 0h9m669 0h11m19 0h5m13 0h68M1273 173.5h12m16 0h9m19 0h5m645 0h11m18 0h7m9 0h71M1272 174.5h13m16 0h9m18 0h7m644 0h10m18 0h9m2 0h77M1271 175.5h14m12 0h13m17 0h9m622 0h5m16 0h9m2 0h5m12 0h9m1 0h77M1271 176.5h13m12 0h13m18 0h9m621 0h7m16 0h7m2 0h7m11 0h86M1267 177.5h16m12 0h13m19 0h9m620 0h9m15 0h7m1 0h9m10 0h87M1266 178.5h14m3 0h5m7 0h9m23 0h9m620 0h9m14 0h18m11 0h7m1 0h79M1265 179.5h14m3 0h7m6 0h9m24 0h7m621 0h9m14 0h18m12 0h5m1 0h80M1265 180.5h25m5 0h9m25 0h5m622 0h9m14 0h18m18 0h80M1265 181.5h25m6 0h7m654 0h7m15 0h9m1 0h7m19 0h12m1 0h67M1265 182.5h25m7 0h5m13 0h5m638 0h5m17 0h7m3 0h5m15 0h18m2 0h65M1266 183.5h28m20 0h7m660 0h5m23 0h20m1 0h65M1267 184.5h28m7 0h5m6 0h9m12 0h5m669 0h87M1265 185.5h31m5 0h7m5 0h9m11 0h7m655 0h5m8 0h87M1264 186.5h32m4 0h9m4 0h9m10 0h9m544 0h5m104 0h7m7 0h22m1 0h64M1263 187.5h33m4 0h9m4 0h9m10 0h9m543 0h7m102 0h9m6 0h23m1 0h63M1263 188.5h33m4 0h9m5 0h9m9 0h9m542 0h9m101 0h9m7 0h86M1263 189.5h32m5 0h9m6 0h9m8 0h9m542 0h9m101 0h9m8 0h85M1263 190.5h31m7 0h7m7 0h9m9 0h7m543 0h9m101 0h9m8 0h85M1264 191.5h33m5 0h5m8 0h9m10 0h5m544 0h9m101 0h9m8 0h85M1265 192.5h33m17 0h9m560 0h7m103 0h7m10 0h84M1266 193.5h33m17 0h7m562 0h5m105 0h5m12 0h83M1266 194.5h33m18 0h5m665 0h5m19 0h84M1267 195.5h32m5 0h5m677 0h7m17 0h85M1268 196.5h31m4 0h7m29 0h5m641 0h9m16 0h85M1269 197.5h31m2 0h9m27 0h7m640 0h9m14 0h87M1268 198.5h10m1 0h21m2 0h9m26 0h9m639 0h10m12 0h88M1267 199.5h11m2 0h31m26 0h9m639 0h11m7 0h92M1265 200.5h13m2 0h31m8 0h5m13 0h9m640 0h11m5 0h93M1264 201.5h46m6 0h9m10 0h11m641 0h10m4 0h94M1263 202.5h46m6 0h11m8 0h11m641 0h11m4 0h94M1263 203.5h47m4 0h12m7 0h11m614 0h5m22 0h12m4 0h94M1263 204.5h29m1 0h18m3 0h12m2 0h14m615 0h7m21 0h11m5 0h19m3 0h72M1263 205.5h29m1 0h19m2 0h12m1 0h15m614 0h9m20 0h10m7 0h18m2 0h73M1264 206.5h48m2 0h28m30 0h5m544 0h5m30 0h9m20 0h9m9 0h16m3 0h73M1264 207.5h48m3 0h26m30 0h7m542 0h7m29 0h9m12 0h5m4 0h7m8 0h17m4 0h73M1264 208.5h49m3 0h24m30 0h9m540 0h9m28 0h9m11 0h7m4 0h5m8 0h15m6 0h74M1263 209.5h34m7 0h10m4 0h19m4 0h5m24 0h9m540 0h9m29 0h7m9 0h11m15 0h16m5 0h74M1263 210.5h35m4 0h12m1 0h22m3 0h7m23 0h9m540 0h9m30 0h5m9 0h12m1 0h5m9 0h16m5 0h74M1263 211.5h35m3 0h35m3 0h9m22 0h9m540 0h9m43 0h20m8 0h96M1263 212.5h35m2 0h22m3 0h10m4 0h9m23 0h7m542 0h7m44 0h21m7 0h96M1263 213.5h59m4 0h7m6 0h10m23 0h5m544 0h5m45 0h21m8 0h7m1 0h87M1263 214.5h59m1 0h9m7 0h10m59 0h5m558 0h24m4 0h7m5 0h84M1263 215.5h66m11 0h9m58 0h7m558 0h35m4 0h83M1264 216.5h66m1 0h6m3 0h14m52 0h9m558 0h5m1 0h29m3 0h84M1265 217.5h55m1 0h17m3 0h14m51 0h9m544 0h5m11 0h34m3 0h83M1264 218.5h55m2 0h18m3 0h14m50 0h9m539 0h11m9 0h13m1 0h21m2 0h84M1263 219.5h41m1 0h15m1 0h18m7 0h10m50 0h9m538 0h13m3 0h18m1 0h21m1 0h85M1263 220.5h58m1 0h17m7 0h10m51 0h7m538 0h14m2 0h19m2 0h106M1263 221.5h65m1 0h10m7 0h10m52 0h5m539 0h14m1 0h41m1 0h86M1263 222.5h64m3 0h8m9 0h8m584 0h5m8 0h14m1 0h25m4 0h11m2 0h86M1264 223.5h64m3 0h8m9 0h6m564 0h5m15 0h7m7 0h13m2 0h26m3 0h9m2 0h88M1264 224.5h64m5 0h7m577 0h7m13 0h9m7 0h11m3 0h26m3 0h9m1 0h89M1264 225.5h32m1 0h31m4 0h9m575 0h9m12 0h9m8 0h5m8 0h9m1 0h16m2 0h99M1264 226.5h33m1 0h19m2 0h9m4 0h12m545 0h5m22 0h9m12 0h9m22 0h9m1 0h117M1264 227.5h54m2 0h7m2 0h16m543 0h7m21 0h9m5 0h5m2 0h9m23 0h126M1264 228.5h55m1 0h6m2 0h18m541 0h9m20 0h9m4 0h7m2 0h7m25 0h125M1264 229.5h62m1 0h19m3 0h5m533 0h9m21 0h7m4 0h9m2 0h5m26 0h125M1264 230.5h82m2 0h8m531 0h9m22 0h5m5 0h9m33 0h124M1264 231.5h82m1 0h10m1 0h5m524 0h9m32 0h9m8 0h5m20 0h125M1263 232.5h82m2 0h17m524 0h7m33 0h9m7 0h7m20 0h124M1263 233.5h81m3 0h18m524 0h5m35 0h7m7 0h9m20 0h123M1263 234.5h79m5 0h18m565 0h5m8 0h9m15 0h128M1263 235.5h62m1 0h16m6 0h18m22 0h5m533 0h5m12 0h10m13 0h129M1264 236.5h59m3 0h16m2 0h22m21 0h7m531 0h7m11 0h11m11 0h130M1264 237.5h59m2 0h16m2 0h7m1 0h15m20 0h9m529 0h9m11 0h10m11 0h129M1264 238.5h87m1 0h14m20 0h9m529 0h9m12 0h9m10 0h130M1264 239.5h72m3 0h26m10 0h5m6 0h9m529 0h9m12 0h9m9 0h47m2 0h83M1264 240.5h72m2 0h26m10 0h7m5 0h9m529 0h9m13 0h7m9 0h48m2 0h83M1265 241.5h98m10 0h9m5 0h7m531 0h7m15 0h5m10 0h133M1265 242.5h99m4 0h14m6 0h5m533 0h5m31 0h15m1 0h117M1264 243.5h100m3 0h15m580 0h15m2 0h116M1264 244.5h100m2 0h16m581 0h14m2 0h116M1264 245.5h100m2 0h15m44 0h5m532 0h14m3 0h116M1264 246.5h99m3 0h16m42 0h7m485 0h5m41 0h133M1264 247.5h98m4 0h9m1 0h7m40 0h9m483 0h12m34 0h134M1264 248.5h95m8 0h7m1 0h9m39 0h9m482 0h14m32 0h135M1264 249.5h96m8 0h5m2 0h9m39 0h9m482 0h15m8 0h5m17 0h136M1264 250.5h79m1 0h16m15 0h9m39 0h9m482 0h15m7 0h7m15 0h137M1264 251.5h75m8 0h13m15 0h9m40 0h7m483 0h15m6 0h9m14 0h137M1264 252.5h75m8 0h13m9 0h5m2 0h7m42 0h5m485 0h14m6 0h9m14 0h136M1264 253.5h77m7 0h11m9 0h7m2 0h5m534 0h12m7 0h9m14 0h137M1264 254.5h78m3 0h13m9 0h9m8 0h5m533 0h5m8 0h9m11 0h11m2 0h5m4 0h118M1263 255.5h80m1 0h7m16 0h9m1 0h5m1 0h7m546 0h7m11 0h11m19 0h111M1263 256.5h89m15 0h24m536 0h5m5 0h5m11 0h12m3 0h10m6 0h111M1263 257.5h89m14 0h25m532 0h10m19 0h13m2 0h12m6 0h110M1263 258.5h89m10 0h29m29 0h5m497 0h12m12 0h19m1 0h18m1 0h109M1264 259.5h89m8 0h13m1 0h16m28 0h7m495 0h13m11 0h20m1 0h128M1265 260.5h89m6 0h13m2 0h15m28 0h9m494 0h13m1 0h5m4 0h151M1264 261.5h95m1 0h13m3 0h7m1 0h5m29 0h9m485 0h5m4 0h20m2 0h152M1263 262.5h110m4 0h5m36 0h9m484 0h7m3 0h174M1263 263.5h109m46 0h9m483 0h9m3 0h10m1 0h162M1263 264.5h108m48 0h7m484 0h9m4 0h5m1 0h166M1263 265.5h104m4 0h5m44 0h5m477 0h5m3 0h9m9 0h167M1263 266.5h102m5 0h7m524 0h7m2 0h9m8 0h168M1263 267.5h88m2 0h12m4 0h9m6 0h5m511 0h9m2 0h7m9 0h13m2 0h153M1263 268.5h88m3 0h11m4 0h9m5 0h7m510 0h9m3 0h5m10 0h9m7 0h5m1 0h9m3 0h134M1263 269.5h70m1 0h7m1 0h9m6 0h7m5 0h9m4 0h9m509 0h9m18 0h9m13 0h9m3 0h134M1263 270.5h70m2 0h5m3 0h7m8 0h5m6 0h9m4 0h9m502 0h5m2 0h9m19 0h11m5 0h13m4 0h134M1263 271.5h70m11 0h5m7 0h5m9 0h7m5 0h9m40 0h5m456 0h7m2 0h7m21 0h11m1 0h15m6 0h133M1263 272.5h71m21 0h7m9 0h5m6 0h9m6 0h5m28 0h7m373 0h5m76 0h9m2 0h5m21 0h28m7 0h131M1264 273.5h70m1 0h9m10 0h9m20 0h7m6 0h7m26 0h9m371 0h7m75 0h9m28 0h28m8 0h130M1264 274.5h83m7 0h9m21 0h7m4 0h9m25 0h9m370 0h9m46 0h5m23 0h9m28 0h28m8 0h130M1263 275.5h85m6 0h11m18 0h9m3 0h9m25 0h9m370 0h9m45 0h7m22 0h9m28 0h29m8 0h130M1263 276.5h86m5 0h12m17 0h9m3 0h9m25 0h9m370 0h9m44 0h10m19 0h9m30 0h29m8 0h129M1263 277.5h86m6 0h16m12 0h9m3 0h9m26 0h7m371 0h9m44 0h11m17 0h9m32 0h28m11 0h126M1263 278.5h86m7 0h16m11 0h9m4 0h7m28 0h5m373 0h7m45 0h12m16 0h9m33 0h27m12 0h125M1263 279.5h86m9 0h15m11 0h7m6 0h5m408 0h5m46 0h12m16 0h9m33 0h27m12 0h125M1263 280.5h90m2 0h18m12 0h5m441 0h5m26 0h11m16 0h9m30 0h17m2 0h12m4 0h5m2 0h125M1263 281.5h110m30 0h5m36 0h5m381 0h7m26 0h10m17 0h7m30 0h17m3 0h13m2 0h7m1 0h125M1263 282.5h110m29 0h7m34 0h7m379 0h9m27 0h11m15 0h5m19 0h5m6 0h18m4 0h147M1263 283.5h111m27 0h9m32 0h9m378 0h9m28 0h11m37 0h7m5 0h18m5 0h146M1263 284.5h71m1 0h39m27 0h9m32 0h9m378 0h9m31 0h9m35 0h9m4 0h9m1 0h7m7 0h145M1264 285.5h69m1 0h40m27 0h9m32 0h9m378 0h9m4 0h5m22 0h9m35 0h9m4 0h16m6 0h147M1263 286.5h68m2 0h46m3 0h5m14 0h9m32 0h9m379 0h7m4 0h7m21 0h9m14 0h5m16 0h9m1 0h20m4 0h148M1263 287.5h91m1 0h33m14 0h10m31 0h7m381 0h5m4 0h9m20 0h9m13 0h7m15 0h31m2 0h149M1263 288.5h91m4 0h31m14 0h10m31 0h5m18 0h5m368 0h9m21 0h7m13 0h9m15 0h30m2 0h149M1263 289.5h91m3 0h32m16 0h9m52 0h7m367 0h9m22 0h5m14 0h9m2 0h5m9 0h29m2 0h149M1264 290.5h125m16 0h9m51 0h9m366 0h9m41 0h9m1 0h11m5 0h28m2 0h10m1 0h138M1264 291.5h125m2 0h5m9 0h9m51 0h9m367 0h7m42 0h22m4 0h27m4 0h8m3 0h137M1264 292.5h124m2 0h7m8 0h10m50 0h9m368 0h5m43 0h52m6 0h5m7 0h134M1264 293.5h123m2 0h9m8 0h10m49 0h9m416 0h38m2 0h10m6 0h5m8 0h136M1263 294.5h106m7 0h11m2 0h9m9 0h10m49 0h7m418 0h7m1 0h26m6 0h9m5 0h7m6 0h137M1263 295.5h106m6 0h13m1 0h9m10 0h9m50 0h5m420 0h5m3 0h24m8 0h7m5 0h9m5 0h137M1263 296.5h108m2 0h25m10 0h9m1 0h5m478 0h19m10 0h8m6 0h9m4 0h138M1263 297.5h140m5 0h21m442 0h5m28 0h16m9 0h9m6 0h9m3 0h139M1263 298.5h141m5 0h21m440 0h7m26 0h16m2 0h5m2 0h11m3 0h11m2 0h140M1263 299.5h142m5 0h5m1 0h15m438 0h9m24 0h25m1 0h11m2 0h12m2 0h140M1263 300.5h142m11 0h15m438 0h10m23 0h37m1 0h155M1263 301.5h131m2 0h11m9 0h15m438 0h10m17 0h5m1 0h193M1263 302.5h131m2 0h12m1 0h5m3 0h14m438 0h10m16 0h33m1 0h166M1263 303.5h108m2 0h21m3 0h18m3 0h12m440 0h9m15 0h34m2 0h165M1263 304.5h153m3 0h10m442 0h7m16 0h33m3 0h165M1263 305.5h136m1 0h16m4 0h7m445 0h5m17 0h9m1 0h22m1 0h168M1263 306.5h153m5 0h10m463 0h9m5 0h15m3 0h12m1 0h156M1264 307.5h116m2 0h34m9 0h7m451 0h5m7 0h7m6 0h15m2 0h13m1 0h156M1264 308.5h114m3 0h36m1 0h5m1 0h9m433 0h5m11 0h7m7 0h5m7 0h15m2 0h13m1 0h156M1263 309.5h115m2 0h58m9 0h5m337 0h5m51 0h5m15 0h7m9 0h9m17 0h17m1 0h13m2 0h155M1263 310.5h176m7 0h7m335 0h7m49 0h7m13 0h9m8 0h9m16 0h31m2 0h156M1263 311.5h177m5 0h9m88 0h5m240 0h9m47 0h9m12 0h9m8 0h9m16 0h31m1 0h157M1263 312.5h177m5 0h9m87 0h7m239 0h9m47 0h9m12 0h9m8 0h9m16 0h20m1 0h168M1263 313.5h177m5 0h9m86 0h9m238 0h9m47 0h9m6 0h5m1 0h9m9 0h7m16 0h21m1 0h168M1263 314.5h177m5 0h9m73 0h5m8 0h9m238 0h9m47 0h9m5 0h7m1 0h7m11 0h6m16 0h21m1 0h168M1263 315.5h176m7 0h7m73 0h7m7 0h9m239 0h7m49 0h7m5 0h9m1 0h5m12 0h7m15 0h20m3 0h167M1263 316.5h149m2 0h28m5 0h5m61 0h5m7 0h9m6 0h9m240 0h5m36 0h5m10 0h5m6 0h9m17 0h14m9 0h19m4 0h167M1263 317.5h128m1 0h20m2 0h20m2 0h7m69 0h7m6 0h9m7 0h7m281 0h7m20 0h9m12 0h20m9 0h9m13 0h167M1263 318.5h128m7 0h13m4 0h19m1 0h9m67 0h9m5 0h9m8 0h5m281 0h9m19 0h9m11 0h22m9 0h5m1 0h5m11 0h166M1263 319.5h128m8 0h5m1 0h5m6 0h18m1 0h9m67 0h9m5 0h9m294 0h9m19 0h8m11 0h23m14 0h7m9 0h166M1263 320.5h128m28 0h14m2 0h9m67 0h9m6 0h7m295 0h9m18 0h9m11 0h23m13 0h9m7 0h168M1263 321.5h128m27 0h14m3 0h9m67 0h9m7 0h5m296 0h9m18 0h9m11 0h24m12 0h9m7 0h168M1263 322.5h127m28 0h9m9 0h7m69 0h7m310 0h7m11 0h5m3 0h11m9 0h9m5 0h10m8 0h14m6 0h168M1263 323.5h126m7 0h5m1 0h6m5 0h14m10 0h5m71 0h5m40 0h5m267 0h5m11 0h7m2 0h12m8 0h9m4 0h11m7 0h20m1 0h168M1263 324.5h125m7 0h14m3 0h15m130 0h7m281 0h9m2 0h13m6 0h9m4 0h11m6 0h22m1 0h167M1263 325.5h125m6 0h16m1 0h15m6 0h5m119 0h9m280 0h9m3 0h13m5 0h9m2 0h12m7 0h23m1 0h166M1263 326.5h126m5 0h16m1 0h14m6 0h7m118 0h9m280 0h9m5 0h12m5 0h7m2 0h16m4 0h190M1263 327.5h126m5 0h26m10 0h9m117 0h9m263 0h5m12 0h9m5 0h12m6 0h5m2 0h18m3 0h190M1264 328.5h125m2 0h30m9 0h9m27 0h5m85 0h9m262 0h7m12 0h7m7 0h11m13 0h19m3 0h7m1 0h181M1263 329.5h126m1 0h31m8 0h10m26 0h7m85 0h7m262 0h9m12 0h5m9 0h10m13 0h19m3 0h7m1 0h181M1263 330.5h125m1 0h32m7 0h11m2 0h5m3 0h5m10 0h9m85 0h5m263 0h9m26 0h9m14 0h19m2 0h190M1263 331.5h158m6 0h11m2 0h7m1 0h7m9 0h9m334 0h5m14 0h9m25 0h9m1 0h5m10 0h210M1263 332.5h121m2 0h35m6 0h10m2 0h17m8 0h9m333 0h7m13 0h9m25 0h16m9 0h210M1263 333.5h121m1 0h36m6 0h9m3 0h17m8 0h9m332 0h9m13 0h7m17 0h5m4 0h17m4 0h214M1263 334.5h158m5 0h10m2 0h18m9 0h7m304 0h5m10 0h5m9 0h9m4 0h5m5 0h5m17 0h7m3 0h18m2 0h214M1263 335.5h157m6 0h9m2 0h22m7 0h5m304 0h7m8 0h7m8 0h9m3 0h7m25 0h9m1 0h236M1263 336.5h158m5 0h9m1 0h11m1 0h12m201 0h5m108 0h9m6 0h9m7 0h9m2 0h9m23 0h10m1 0h236M1263 337.5h159m4 0h9m1 0h10m3 0h12m189 0h5m5 0h7m107 0h9m6 0h9m8 0h7m3 0h9m22 0h11m1 0h9m1 0h226M1263 338.5h160m1 0h10m2 0h9m2 0h14m29 0h5m154 0h7m3 0h9m106 0h9m6 0h9m9 0h5m4 0h9m22 0h11m1 0h236M1263 339.5h134m1 0h63m28 0h7m152 0h9m2 0h9m106 0h9m6 0h9m18 0h9m22 0h10m3 0h234M1263 340.5h133m2 0h63m27 0h9m3 0h5m143 0h9m2 0h9m107 0h7m8 0h7m13 0h5m2 0h7m23 0h9m4 0h20m1 0h26m1 0h15m1 0h170M1263 341.5h132m3 0h62m15 0h5m8 0h9m2 0h7m142 0h9m2 0h9m59 0h5m44 0h5m10 0h5m13 0h7m2 0h7m23 0h7m5 0h63m1 0h171M1264 342.5h131m2 0h62m7 0h5m3 0h7m7 0h9m1 0h9m141 0h9m3 0h7m39 0h5m15 0h7m75 0h18m10 0h5m8 0h7m4 0h235M1264 343.5h132m1 0h59m9 0h7m1 0h9m6 0h9m1 0h9m142 0h7m5 0h5m39 0h7m13 0h9m74 0h18m9 0h7m8 0h7m4 0h234M1264 344.5h196m4 0h18m7 0h7m2 0h9m143 0h5m49 0h9m12 0h9m74 0h18m8 0h9m6 0h9m4 0h233M1264 345.5h197m3 0h18m8 0h5m3 0h9m197 0h9m12 0h9m74 0h18m8 0h9m6 0h9m4 0h233M1264 346.5h198m2 0h18m9 0h5m3 0h7m198 0h9m12 0h9m75 0h7m2 0h7m9 0h9m6 0h9m4 0h233M1263 347.5h181m2 0h16m2 0h9m1 0h7m9 0h7m3 0h5m199 0h9m13 0h7m77 0h5m4 0h5m10 0h9m6 0h9m4 0h25m1 0h207M1263 348.5h159m3 0h18m4 0h25m3 0h5m9 0h9m7 0h5m78 0h5m112 0h7m15 0h5m103 0h7m8 0h7m1 0h29m1 0h207M1263 349.5h157m8 0h13m9 0h25m14 0h9m6 0h7m17 0h5m54 0h7m112 0h5m55 0h5m65 0h11m4 0h5m1 0h237M1263 350.5h150m1 0h7m2 0h5m1 0h12m13 0h22m13 0h9m5 0h9m15 0h7m31 0h5m16 0h9m170 0h7m66 0h10m8 0h12m1 0h226M1263 351.5h149m3 0h14m1 0h11m14 0h22m12 0h9m5 0h9m14 0h9m29 0h7m15 0h9m169 0h9m58 0h5m1 0h12m6 0h13m1 0h226M1263 352.5h149m2 0h16m2 0h9m18 0h18m13 0h7m5 0h10m14 0h9m28 0h9m14 0h9m86 0h5m77 0h10m57 0h19m5 0h14m2 0h225M1263 353.5h167m1 0h10m2 0h5m11 0h18m11 0h8m5 0h11m14 0h9m28 0h9m14 0h9m85 0h7m76 0h10m56 0h20m5 0h14m3 0h224M1263 354.5h177m2 0h7m9 0h20m9 0h7m7 0h10m14 0h10m28 0h9m15 0h7m85 0h9m75 0h10m56 0h20m5 0h13m8 0h220M1263 355.5h187m7 0h21m8 0h9m6 0h9m14 0h10m29 0h9m16 0h5m86 0h9m75 0h9m44 0h5m8 0h19m6 0h12m7 0h222M1263 356.5h192m1 0h22m8 0h9m6 0h9m14 0h9m31 0h7m108 0h9m76 0h7m44 0h7m7 0h18m8 0h10m7 0h18m1 0h204M1263 357.5h215m8 0h9m7 0h7m15 0h9m32 0h5m109 0h9m77 0h6m43 0h9m7 0h15m11 0h9m6 0h18m2 0h204M1263 358.5h214m9 0h9m8 0h5m16 0h9m147 0h7m78 0h7m42 0h9m7 0h17m10 0h7m7 0h18m1 0h205M1263 359.5h213m11 0h7m31 0h7m149 0h5m78 0h9m41 0h9m7 0h18m10 0h5m5 0h227M1263 360.5h201m2 0h5m17 0h7m31 0h5m85 0h5m143 0h10m40 0h9m7 0h19m7 0h5m6 0h228M1263 361.5h204m22 0h7m49 0h5m65 0h7m45 0h5m92 0h11m40 0h7m8 0h19m6 0h7m4 0h228M1263 362.5h205m20 0h9m47 0h7m63 0h9m43 0h7m91 0h11m41 0h5m9 0h19m5 0h240M1263 363.5h172m1 0h19m1 0h13m19 0h9m46 0h9m62 0h9m42 0h9m91 0h10m24 0h5m2 0h10m3 0h5m7 0h18m5 0h240M1263 364.5h206m8 0h5m6 0h9m46 0h9m62 0h9m42 0h9m92 0h9m23 0h19m1 0h7m7 0h19m3 0h240M1263 365.5h206m5 0h9m5 0h9m46 0h9m62 0h9m42 0h9m93 0h7m23 0h29m5 0h21m2 0h241M1263 366.5h206m4 0h11m5 0h7m47 0h9m63 0h7m43 0h9m94 0h5m24 0h31m2 0h23m2 0h240M1263 367.5h206m3 0h15m3 0h5m49 0h7m65 0h5m45 0h7m124 0h32m1 0h25m1 0h239M1263 368.5h206m3 0h16m57 0h5m117 0h5m62 0h5m56 0h64m2 0h234M1263 369.5h207m2 0h17m12 0h5m161 0h5m61 0h7m54 0h301M1263 370.5h208m1 0h17m7 0h11m104 0h5m50 0h7m59 0h9m52 0h11m2 0h289M1263 371.5h209m1 0h16m6 0h13m67 0h5m30 0h7m48 0h9m7 0h5m46 0h9m52 0h9m3 0h15m1 0h273M1263 372.5h170m1 0h19m1 0h18m2 0h15m5 0h14m66 0h7m3 0h5m20 0h9m47 0h9m6 0h7m45 0h9m52 0h9m2 0h16m2 0h7m2 0h262M1263 373.5h170m1 0h19m1 0h18m4 0h12m6 0h15m18 0h5m41 0h9m1 0h7m19 0h9m47 0h9m5 0h9m44 0h9m52 0h9m1 0h16m4 0h5m4 0h5m1 0h255M1264 374.5h169m1 0h19m1 0h18m3 0h12m7 0h16m16 0h7m8 0h5m27 0h18m18 0h9m47 0h9m5 0h9m45 0h7m49 0h29m10 0h5m4 0h257M1264 375.5h189m1 0h17m3 0h12m8 0h17m14 0h9m6 0h7m26 0h18m18 0h9m48 0h7m6 0h9m46 0h5m10 0h5m28 0h5m1 0h25m7 0h5m2 0h7m2 0h259M1264 376.5h188m3 0h15m4 0h12m1 0h5m3 0h16m14 0h9m5 0h9m25 0h18m19 0h12m45 0h5m7 0h9m60 0h7m26 0h31m7 0h38m1 0h237M1263 377.5h188m4 0h14m5 0h19m3 0h5m1 0h9m5 0h5m4 0h9m5 0h9m12 0h5m9 0h7m1 0h9m20 0h12m57 0h7m18 0h5m37 0h9m20 0h35m7 0h38m3 0h236M1263 378.5h201m9 0h21m8 0h9m4 0h7m2 0h10m5 0h9m11 0h7m9 0h5m3 0h7m8 0h5m12 0h9m57 0h5m18 0h7m36 0h9m7 0h5m7 0h35m8 0h36m5 0h236M1263 379.5h202m7 0h22m9 0h8m3 0h9m1 0h9m6 0h9m8 0h11m17 0h5m8 0h7m11 0h9m10 0h5m64 0h9m5 0h5m19 0h5m1 0h9m6 0h7m5 0h35m9 0h37m3 0h237M1263 380.5h202m7 0h22m5 0h13m2 0h9m1 0h9m7 0h7m8 0h12m29 0h9m10 0h9m9 0h7m63 0h9m4 0h7m16 0h21m1 0h9m4 0h32m12 0h38m1 0h238M1263 381.5h231m4 0h15m1 0h9m1 0h9m8 0h5m8 0h13m29 0h9m10 0h9m8 0h9m52 0h5m5 0h9m3 0h9m14 0h32m4 0h14m1 0h17m13 0h275M1263 382.5h230m4 0h16m1 0h9m2 0h7m22 0h13m29 0h9m11 0h7m9 0h9m40 0h5m6 0h7m4 0h9m3 0h9m13 0h11m1 0h21m4 0h13m2 0h17m14 0h274M1263 383.5h229m5 0h16m2 0h7m4 0h5m23 0h12m30 0h9m8 0h9m10 0h9m18 0h5m16 0h7m4 0h9m4 0h7m4 0h10m12 0h11m5 0h17m5 0h11m2 0h18m16 0h271M1263 384.5h225m9 0h16m3 0h5m33 0h11m31 0h9m7 0h7m13 0h9m17 0h7m14 0h9m3 0h9m3 0h9m3 0h11m9 0h13m5 0h16m7 0h10m1 0h20m16 0h270M1263 385.5h225m9 0h15m3 0h5m35 0h11m30 0h9m6 0h9m13 0h7m17 0h9m13 0h9m3 0h9m3 0h9m4 0h11m7 0h13m6 0h15m9 0h9m1 0h20m2 0h10m5 0h269M1263 386.5h225m10 0h23m35 0h11m29 0h9m1 0h14m14 0h5m12 0h5m1 0h9m13 0h9m3 0h9m3 0h9m5 0h10m6 0h18m3 0h11m12 0h9m1 0h20m1 0h12m2 0h10m2 0h258M1263 387.5h226m10 0h6m5 0h12m36 0h9m29 0h24m30 0h16m13 0h9m4 0h7m4 0h9m6 0h9m6 0h11m1 0h7m3 0h10m13 0h7m2 0h44m4 0h258M1263 388.5h226m20 0h16m33 0h9m30 0h27m15 0h5m5 0h17m14 0h7m6 0h5m6 0h7m7 0h9m6 0h9m2 0h9m3 0h9m14 0h5m4 0h18m1 0h22m7 0h258M1263 389.5h171m1 0h23m2 0h29m20 0h17m25 0h5m2 0h9m31 0h5m1 0h21m13 0h7m4 0h16m16 0h5m19 0h5m9 0h7m7 0h9m2 0h9m3 0h13m19 0h11m1 0h5m2 0h22m9 0h257M1263 390.5h171m2 0h22m3 0h29m19 0h21m20 0h7m2 0h7m17 0h8m13 0h22m11 0h9m3 0h9m1 0h5m25 0h5m26 0h5m9 0h7m3 0h9m4 0h13m17 0h16m2 0h24m9 0h257M1263 391.5h195m4 0h28m17 0h24m18 0h9m2 0h5m17 0h10m12 0h9m4 0h10m10 0h9m3 0h9m15 0h5m10 0h7m20 0h5m15 0h5m4 0h9m3 0h15m15 0h43m2 0h5m3 0h256M1263 392.5h227m3 0h5m8 0h26m17 0h9m23 0h12m12 0h7m5 0h11m9 0h9m4 0h7m15 0h7m8 0h9m18 0h7m24 0h7m3 0h16m9 0h49m1 0h265M1263 393.5h227m2 0h7m3 0h34m13 0h9m23 0h13m12 0h5m6 0h12m8 0h9m5 0h5m15 0h9m6 0h10m6 0h5m6 0h9m24 0h5m4 0h16m8 0h315M1263 394.5h226m2 0h9m1 0h36m12 0h9m23 0h13m24 0h11m9 0h7m26 0h9m5 0h11m5 0h7m3 0h11m32 0h17m7 0h316M1263 395.5h225m3 0h23m1 0h26m9 0h7m10 0h5m9 0h13m21 0h16m8 0h5m27 0h9m5 0h11m4 0h9m1 0h12m31 0h17m8 0h317M1263 396.5h221m6 0h24m2 0h26m9 0h5m10 0h7m9 0h12m20 0h18m33 0h5m1 0h10m4 0h10m5 0h22m25 0h22m4 0h23m1 0h298M1263 397.5h220m7 0h23m3 0h27m2 0h6m14 0h9m9 0h10m20 0h20m31 0h7m1 0h10m3 0h9m6 0h21m25 0h23m3 0h23m2 0h20m5 0h273M1263 398.5h216m11 0h24m2 0h27m1 0h8m13 0h9m13 0h5m21 0h20m30 0h19m4 0h7m7 0h20m25 0h25m1 0h45m7 0h272M1263 399.5h202m2 0h12m9 0h26m3 0h36m12 0h9m39 0h9m2 0h9m30 0h19m5 0h5m9 0h18m26 0h25m1 0h50m2 0h271M1263 400.5h202m2 0h12m8 0h27m1 0h38m12 0h9m12 0h5m22 0h9m2 0h10m29 0h19m20 0h17m26 0h15m1 0h9m1 0h51m1 0h12m1 0h257M1263 401.5h202m1 0h13m7 0h15m1 0h19m2 0h9m3 0h7m1 0h10m13 0h7m12 0h7m22 0h7m4 0h10m28 0h18m24 0h14m26 0h14m2 0h9m1 0h323M1263 402.5h201m1 0h13m5 0h39m1 0h9m4 0h5m2 0h10m14 0h5m2 0h5m5 0h9m22 0h5m6 0h10m28 0h16m26 0h13m27 0h7m9 0h7m3 0h323M1263 403.5h214m5 0h18m1 0h22m1 0h12m8 0h8m21 0h20m15 0h10m9 0h9m29 0h13m29 0h11m29 0h5m11 0h5m5 0h51m1 0h270M1263 404.5h200m1 0h11m1 0h23m2 0h9m1 0h13m1 0h12m7 0h9m19 0h21m14 0h12m8 0h9m34 0h7m12 0h5m18 0h5m59 0h319M1263 405.5h199m1 0h37m1 0h9m1 0h14m4 0h9m6 0h9m14 0h26m13 0h14m7 0h9m35 0h5m12 0h7m58 0h5m7 0h5m5 0h320M1263 406.5h246m2 0h14m4 0h9m6 0h9m13 0h26m14 0h14m8 0h7m21 0h5m26 0h9m24 0h5m27 0h7m5 0h30m1 0h299M1263 407.5h247m1 0h14m4 0h9m5 0h10m8 0h30m8 0h5m2 0h14m9 0h5m21 0h7m18 0h5m2 0h14m18 0h7m25 0h9m3 0h32m1 0h297M1264 408.5h261m4 0h9m4 0h10m6 0h32m8 0h7m1 0h14m34 0h9m16 0h7m1 0h15m16 0h9m24 0h9m2 0h34m1 0h297M1263 409.5h261m6 0h7m4 0h10m5 0h34m7 0h9m1 0h16m31 0h9m15 0h25m15 0h9m15 0h5m4 0h9m1 0h35m1 0h298M1263 410.5h260m4 0h9m5 0h9m5 0h34m8 0h27m30 0h9m15 0h9m1 0h15m12 0h12m14 0h7m3 0h9m1 0h35m1 0h298M1263 411.5h270m8 0h9m4 0h27m2 0h5m9 0h15m4 0h9m29 0h9m15 0h9m2 0h14m11 0h13m13 0h9m3 0h7m2 0h35m1 0h298M1263 412.5h276m2 0h9m4 0h28m15 0h16m3 0h10m29 0h7m16 0h9m7 0h9m10 0h13m14 0h9m4 0h5m3 0h60m1 0h273M1263 413.5h286m1 0h19m5 0h11m6 0h5m2 0h15m3 0h11m10 0h8m11 0h5m18 0h7m9 0h7m11 0h12m3 0h8m4 0h9m13 0h43m1 0h15m1 0h272M1263 414.5h285m1 0h19m6 0h12m4 0h7m2 0h14m3 0h12m8 0h10m34 0h5m11 0h9m8 0h9m5 0h10m3 0h9m14 0h42m1 0h15m1 0h271M1263 415.5h282m3 0h20m6 0h13m2 0h9m6 0h9m4 0h11m7 0h12m51 0h8m6 0h10m4 0h12m3 0h7m10 0h5m1 0h20m5 0h303M1263 416.5h282m3 0h19m7 0h13m2 0h9m7 0h7m6 0h10m7 0h16m46 0h10m4 0h10m5 0h12m2 0h7m10 0h7m1 0h21m3 0h301M1263 417.5h284m1 0h19m8 0h12m2 0h9m8 0h5m6 0h11m7 0h17m13 0h5m27 0h10m4 0h9m5 0h13m1 0h9m5 0h12m1 0h21m3 0h299M1263 418.5h307m6 0h11m2 0h9m19 0h10m5 0h21m6 0h12m9 0h5m11 0h11m4 0h9m4 0h24m4 0h13m1 0h22m3 0h301M1263 419.5h308m4 0h11m4 0h7m19 0h13m2 0h22m5 0h14m7 0h7m9 0h12m4 0h9m3 0h25m3 0h14m1 0h22m5 0h300M1263 420.5h309m2 0h11m4 0h7m19 0h39m3 0h15m6 0h9m8 0h11m6 0h8m3 0h25m3 0h14m1 0h22m4 0h302M1263 421.5h309m1 0h9m6 0h9m17 0h41m2 0h15m6 0h9m6 0h12m8 0h8m2 0h24m3 0h14m2 0h23m2 0h303M1263 422.5h262m1 0h46m1 0h9m6 0h9m17 0h41m2 0h15m6 0h9m5 0h12m9 0h9m1 0h23m4 0h13m4 0h23m1 0h303M1263 423.5h309m1 0h9m2 0h13m17 0h41m2 0h14m7 0h9m4 0h12m10 0h31m6 0h13m2 0h25m1 0h303M1263 424.5h308m2 0h9m1 0h15m16 0h41m3 0h14m7 0h7m5 0h11m11 0h31m6 0h13m1 0h11m1 0h14m1 0h302M1263 425.5h280m1 0h26m2 0h27m8 0h5m3 0h39m5 0h13m8 0h5m4 0h11m13 0h14m3 0h14m7 0h21m4 0h316M1263 426.5h280m1 0h5m1 0h20m2 0h9m1 0h18m6 0h7m3 0h22m1 0h14m10 0h9m16 0h12m1 0h5m7 0h14m1 0h5m2 0h9m8 0h10m1 0h9m5 0h316M1263 427.5h279m1 0h7m1 0h19m2 0h9m1 0h18m5 0h9m1 0h22m3 0h12m11 0h9m15 0h12m1 0h7m2 0h34m1 0h5m6 0h6m2 0h9m4 0h317M1263 428.5h278m1 0h9m1 0h29m1 0h18m4 0h10m1 0h9m2 0h10m8 0h7m13 0h9m2 0h5m7 0h11m1 0h43m1 0h7m4 0h7m1 0h13m1 0h318M1263 429.5h277m2 0h9m2 0h28m2 0h17m3 0h11m1 0h10m1 0h9m10 0h5m13 0h10m1 0h7m6 0h9m3 0h39m4 0h9m2 0h341M1263 430.5h288m3 0h26m4 0h5m2 0h35m1 0h7m12 0h5m11 0h20m5 0h9m3 0h39m3 0h10m2 0h341M1264 431.5h287m4 0h24m13 0h34m2 0h5m12 0h7m9 0h21m6 0h7m4 0h39m3 0h10m2 0h341M1264 432.5h286m6 0h26m15 0h29m15 0h15m4 0h23m6 0h5m2 0h43m2 0h10m2 0h340M1264 433.5h285m10 0h24m14 0h14m1 0h14m14 0h17m2 0h25m11 0h11m2 0h32m1 0h9m3 0h339M1264 434.5h255m2 0h24m14 0h25m9 0h18m1 0h13m4 0h9m1 0h19m1 0h26m9 0h12m2 0h59m1 0h322M1263 435.5h282m13 0h31m3 0h19m1 0h12m4 0h57m9 0h12m2 0h59m1 0h323M1263 436.5h282m3 0h6m4 0h32m1 0h19m3 0h7m7 0h58m8 0h51m3 0h20m1 0h324M1263 437.5h292m3 0h61m8 0h58m8 0h51m3 0h19m3 0h323M1263 438.5h357m7 0h22m1 0h35m8 0h52m2 0h345M1264 439.5h356m7 0h34m2 0h22m8 0h52m2 0h346M1264 440.5h356m8 0h57m7 0h53m3 0h346M1263 441.5h271m1 0h85m5 0h60m6 0h54m4 0h345M1263 442.5h270m1 0h87m3 0h60m1 0h5m1 0h53m6 0h331m1 0h12M1263 443.5h309m4 0h9m1 0h36m1 0h60m1 0h59m6 0h331m2 0h12M1263 444.5h308m5 0h9m2 0h26m1 0h24m1 0h100m4 0h350M1263 445.5h308m5 0h8m5 0h21m2 0h26m1 0h101m2 0h350M1263 446.5h271m1 0h37m3 0h9m4 0h50m1 0h450M1263 447.5h270m1 0h39m2 0h9m4 0h49m2 0h34m2 0h20m1 0h393M1263 448.5h287m6 0h17m2 0h9m4 0h48m1 0h12m1 0h12m3 0h424M1263 449.5h288m6 0h27m1 0h64m1 0h12m4 0h423M1263 450.5h289m4 0h27m1 0h65m1 0h15m4 0h419M1263 451.5h385m3 0h15m3 0h9m1 0h92m1 0h315M1263 452.5h361m2 0h25m1 0h15m2 0h9m1 0h92m2 0h313M1263 453.5h361m3 0h40m2 0h9m1 0h92m2 0h314M1264 454.5h359m6 0h142m1 0h316M1264 455.5h360m1 0h463M1264 456.5h303m1 0h521M1264 457.5h303m1 0h113m6 0h403M1265 458.5h416m7 0h387m1 0h14M1265 459.5h416m9 0h385m1 0h14M1264 460.5h416m4 0h406M1263 461.5h416m4 0h406M1263 462.5h825M1263 463.5h824M1263 464.5h377m2 0h445M1264 465.5h375m5 0h443M1263 466.5h375m6 0h443M1263 467.5h376m2 0h445m1 0h5M1263 468.5h810m2 0h10m1 0h7M1263 469.5h811m1 0h9m1 0h9M1263 470.5h812m1 0h7m2 0h9M1263 471.5h813m1 0h5m3 0h9M1264 472.5h813m8 0h9M1264 473.5h813m9 0h7M1263 474.5h814m10 0h5M1263 475.5h452m2 0h360M1263 476.5h813M1263 477.5h776m1 0h36M1263 478.5h776m1 0h37M1263 479.5h814m5 0h5M1263 480.5h384m2 0h428m4 0h7M1263 481.5h386m2 0h426m3 0h9M1263 482.5h804m2 0h7m4 0h9M1263 483.5h803m4 0h5m5 0h9M1264 484.5h801m15 0h9M1264 485.5h802m15 0h7M1264 486.5h803m15 0h6M1264 487.5h804m14 0h7M1263 488.5h805m13 0h9M1263 489.5h805m13 0h9M1263 490.5h805m13 0h9M1263 491.5h804m14 0h9M1264 492.5h802m3 0h5m8 0h7M1265 493.5h794m3 0h5m1 0h7m8 0h5M1264 494.5h796m1 0h15M1263 495.5h813M1263 496.5h813M1263 497.5h813M1263 498.5h813M1264 499.5h812M1265 500.5h811M1265 501.5h810M1265 502.5h809m13 0h5M1266 503.5h805m15 0h7M1267 504.5h791m5 0h8m14 0h9M1267 505.5h791m7 0h7m8 0h14M1266 506.5h797m1 0h9m6 0h15M1265 507.5h808m5 0h16M1265 508.5h808m5 0h15M1265 509.5h808m5 0h14M1265 510.5h807m6 0h9M1266 511.5h788m2 0h9m1 0h5m8 0h7M1266 512.5h789m2 0h7m16 0h5M1265 513.5h791m2 0h5M1265 514.5h791M1265 515.5h791M1265 516.5h791M1265 517.5h775m1 0h14M1266 518.5h773m2 0h13M1267 519.5h5m1 0h766m2 0h14M1275 520.5h764m3 0h14m13 0h5M1276 521.5h763m4 0h14m11 0h7M1274 522.5h764m7 0h12m10 0h9M1270 523.5h767m8 0h12m10 0h9M1269 524.5h12m3 0h754m7 0h12m10 0h9M1267 525.5h14m3 0h755m7 0h10m11 0h9M1265 526.5h18m1 0h755m8 0h8m13 0h7M1264 527.5h20m1 0h754m30 0h5M1263 528.5h776M1263 529.5h775M1263 530.5h774M1263 531.5h775M1264 532.5h774M1265 533.5h757m1 0h15M1267 534.5h755m1 0h15M1275 535.5h747m2 0h13m41 0h5M1265 536.5h7m3 0h746m4 0h11m41 0h7M1264 537.5h9m3 0h745m5 0h9m41 0h9M1263 538.5h11m2 0h745m5 0h13m37 0h9M1263 539.5h759m3 0h15m36 0h9M1263 540.5h760m2 0h16m35 0h9M1263 541.5h760m2 0h16m36 0h7M1264 542.5h747m1 0h29m37 0h5M1264 543.5h777m4 0h5M1264 544.5h776m4 0h7M1264 545.5h29m1 0h745m1 0h12m10 0h5M1264 546.5h30m1 0h723m3 0h36m4 0h7M1265 547.5h29m2 0h723m2 0h37m2 0h9M1266 548.5h28m2 0h724m2 0h15m1 0h21m1 0h9M1268 549.5h26m2 0h725m2 0h14m1 0h21m1 0h9M1267 550.5h27m2 0h763m1 0h9M1267 551.5h771m1 0h7m4 0h9m2 0h7M1267 552.5h771m2 0h5m6 0h7m4 0h5M1267 553.5h771m8 0h5m1 0h5M1268 554.5h769m3 0h14m23 0h5M1269 555.5h730m1 0h30m1 0h5m3 0h16m21 0h7M1270 556.5h729m2 0h29m8 0h18m19 0h9M1270 557.5h760m4 0h22m19 0h9M1270 558.5h760m3 0h23m19 0h9M1270 559.5h759m3 0h24m19 0h9M1271 560.5h757m3 0h26m19 0h7M1270 561.5h754m6 0h15m3 0h10m19 0h5M1269 562.5h744m2 0h9m6 0h11m6 0h11M1268 563.5h745m3 0h7m7 0h10m7 0h11m3 0h5M1268 564.5h746m3 0h5m8 0h9m8 0h11m2 0h7M1268 565.5h11m2 0h733m17 0h7m9 0h10m2 0h9M1268 566.5h11m6 0h729m18 0h5m11 0h8m3 0h9M1269 567.5h11m6 0h728m35 0h5m5 0h9m6 0h5M1270 568.5h11m6 0h727m45 0h9m5 0h7M1270 569.5h11m12 0h726m41 0h7m4 0h10M1269 570.5h12m13 0h726m30 0h5m6 0h5m4 0h11M1269 571.5h12m14 0h726m28 0h7m13 0h12M1269 572.5h12m14 0h726m27 0h9m12 0h12M1269 573.5h11m15 0h726m27 0h9m12 0h11M1267 574.5h12m16 0h726m27 0h9m12 0h10M1266 575.5h11m19 0h724m28 0h9m13 0h7M1265 576.5h13m18 0h723m30 0h7m15 0h5M1265 577.5h14m17 0h723m31 0h5M1265 578.5h14m9 0h732M1265 579.5h14m1 0h725m1 0h15M1266 580.5h736m5 0h14M1267 581.5h735m5 0h14m6 0h5M1271 582.5h730m6 0h14m5 0h7m27 0h5M1272 583.5h5m1 0h24m1 0h701m3 0h13m5 0h9m25 0h7M1278 584.5h25m1 0h701m2 0h13m5 0h9m24 0h9M1279 585.5h25m1 0h680m6 0h15m1 0h13m5 0h9m24 0h9M1280 586.5h11m3 0h11m1 0h679m3 0h18m2 0h12m5 0h9m24 0h9M1282 587.5h9m2 0h12m6 0h673m3 0h19m3 0h15m2 0h7m7 0h5m13 0h9M1283 588.5h7m3 0h12m3 0h676m2 0h20m4 0h15m2 0h5m7 0h7m13 0h7M1284 589.5h5m4 0h12m2 0h677m2 0h20m7 0h13m12 0h9m13 0h5M1287 590.5h5m1 0h11m2 0h678m2 0h21m10 0h9m12 0h9M1286 591.5h7m1 0h9m3 0h678m2 0h22m9 0h9m12 0h9M1285 592.5h9m1 0h8m3 0h678m2 0h10m1 0h11m9 0h9m12 0h11M1281 593.5h13m1 0h9m2 0h678m2 0h11m1 0h10m10 0h7m14 0h11M1280 594.5h14m1 0h9m3 0h677m2 0h12m1 0h9m11 0h5m16 0h11M1279 595.5h15m1 0h9m4 0h691m1 0h7m35 0h9M1279 596.5h14m2 0h9m4 0h691m2 0h5m36 0h9M1279 597.5h13m3 0h8m5 0h691m6 0h5m32 0h9m3 0h5M1279 598.5h9m6 0h8m7 0h690m5 0h7m32 0h7m3 0h7M1280 599.5h7m6 0h9m4 0h692m5 0h9m13 0h5m14 0h5m3 0h9M1281 600.5h5m7 0h9m3 0h7m1 0h684m6 0h10m11 0h7m21 0h9M1293 601.5h9m2 0h9m2 0h682m6 0h10m8 0h11m20 0h9M1293 602.5h9m2 0h9m2 0h683m5 0h10m7 0h12m20 0h9M1294 603.5h7m3 0h9m1 0h665m2 0h18m3 0h11m6 0h13m21 0h7M1295 604.5h5m4 0h695m3 0h10m7 0h13m22 0h5M1304 605.5h671m2 0h22m3 0h9m8 0h12M1304 606.5h21m2 0h658m4 0h10m3 0h9m8 0h11m1 0h5M1304 607.5h19m5 0h657m6 0h7m4 0h9m9 0h7m3 0h7M1294 608.5h5m5 0h9m1 0h8m11 0h652m7 0h5m3 0h10m11 0h5m3 0h9M1293 609.5h7m5 0h7m3 0h6m12 0h652m14 0h10m20 0h9M1292 610.5h9m5 0h5m22 0h651m14 0h9m22 0h9M1292 611.5h9m17 0h5m9 0h651m6 0h5m4 0h9m22 0h9M1287 612.5h15m15 0h7m7 0h647m10 0h19m23 0h7M1286 613.5h21m9 0h9m5 0h648m9 0h20m24 0h5M1285 614.5h23m8 0h9m5 0h648m9 0h19M1285 615.5h24m7 0h10m4 0h648m8 0h19M1285 616.5h24m7 0h13m1 0h648m7 0h19m25 0h5M1285 617.5h24m3 0h18m1 0h637m2 0h12m2 0h23m21 0h7M1286 618.5h23m2 0h20m1 0h5m1 0h630m3 0h12m1 0h24m2 0h5m12 0h9M1287 619.5h8m1 0h12m2 0h21m6 0h632m6 0h41m11 0h9M1296 620.5h11m3 0h21m5 0h638m1 0h23m2 0h17m10 0h9M1296 621.5h9m5 0h9m1 0h664m1 0h12m3 0h17m10 0h9M1296 622.5h9m5 0h9m2 0h663m1 0h11m3 0h18m11 0h7M1297 623.5h7m7 0h7m2 0h674m4 0h19m12 0h5M1298 624.5h5m9 0h5m2 0h675m4 0h18M1318 625.5h667m1 0h7m5 0h18M1318 626.5h657m1 0h9m2 0h5m6 0h18M1318 627.5h656m3 0h9m13 0h7m2 0h7M1281 628.5h5m2 0h5m25 0h654m6 0h9m13 0h5m4 0h5M1280 629.5h14m25 0h7m1 0h10m1 0h634m7 0h9m11 0h5M1279 630.5h16m25 0h5m5 0h6m2 0h633m8 0h9m10 0h7m3 0h5m3 0h5M1279 631.5h16m37 0h5m1 0h650m9 0h9m1 0h7m1 0h7M1279 632.5h16m36 0h657m9 0h26M1279 633.5h18m33 0h25m2 0h630m10 0h26M1280 634.5h18m32 0h9m1 0h15m1 0h630m11 0h26M1281 635.5h5m2 0h11m31 0h9m5 0h639m15 0h7m1 0h17M1290 636.5h9m31 0h9m6 0h616m4 0h18m16 0h5m3 0h7m1 0h7M1290 637.5h9m30 0h9m9 0h614m10 0h12m25 0h5m3 0h5M1290 638.5h9m29 0h9m9 0h19m1 0h594m12 0h15M1291 639.5h7m11 0h5m13 0h14m1 0h23m1 0h593m17 0h12M1292 640.5h5m11 0h7m12 0h616m2 0h9m3 0h5m18 0h9M1307 641.5h9m11 0h628m1 0h11m5 0h5m3 0h9M1307 642.5h9m11 0h641m3 0h7m2 0h9m19 0h5M1307 643.5h9m12 0h641m1 0h9m1 0h9m18 0h7M1307 644.5h9m13 0h588m1 0h51m1 0h9m2 0h7m18 0h9M1308 645.5h7m17 0h585m1 0h51m1 0h9m3 0h5m19 0h9M1309 646.5h5m18 0h9m1 0h627m1 0h12m24 0h9M1332 647.5h9m7 0h622m1 0h12m23 0h9M1333 648.5h8m7 0h27m1 0h578m2 0h14m2 0h13m22 0h7M1333 649.5h9m6 0h605m2 0h15m5 0h11m22 0h5M1320 650.5h5m8 0h9m6 0h604m2 0h16m5 0h12M1319 651.5h7m7 0h9m6 0h8m1 0h582m1 0h10m4 0h15m6 0h12M1318 652.5h9m6 0h9m5 0h9m4 0h591m3 0h14m8 0h11M1318 653.5h9m7 0h7m6 0h9m3 0h593m2 0h13m10 0h10M1318 654.5h9m8 0h5m7 0h9m2 0h562m2 0h30m2 0h14m11 0h7M1318 655.5h9m20 0h9m2 0h594m1 0h16m11 0h5M1319 656.5h7m21 0h9m2 0h594m1 0h16M1313 657.5h5m2 0h5m22 0h9m2 0h593m2 0h16M1312 658.5h7m8 0h5m15 0h9m3 0h591m3 0h16M1311 659.5h9m6 0h7m15 0h7m5 0h590m4 0h14M1311 660.5h9m5 0h9m15 0h5m10 0h13m2 0h571m4 0h6m2 0h5m3 0h5M1311 661.5h9m5 0h9m31 0h9m6 0h569m4 0h7m9 0h7M1311 662.5h9m5 0h9m27 0h16m2 0h563m1 0h5m4 0h9m2 0h14M1310 663.5h9m6 0h9m26 0h18m1 0h563m10 0h9m1 0h15M1309 664.5h9m8 0h7m14 0h5m7 0h583m10 0h25M1308 665.5h9m10 0h5m14 0h7m6 0h550m1 0h31m11 0h25M1308 666.5h14m12 0h5m6 0h9m5 0h20m1 0h560m13 0h7m1 0h15M1308 667.5h15m10 0h7m5 0h9m5 0h20m2 0h554m19 0h5m2 0h14M1284 668.5h5m19 0h16m8 0h9m4 0h9m5 0h19m5 0h552m27 0h7M1283 669.5h7m19 0h15m8 0h9m4 0h13m2 0h8m1 0h10m4 0h552m28 0h5M1282 670.5h9m19 0h14m8 0h9m5 0h13m1 0h20m3 0h553m22 0h5M1282 671.5h9m24 0h9m8 0h10m1 0h37m3 0h525m1 0h28m20 0h7M1282 672.5h9m25 0h7m10 0h16m2 0h29m4 0h523m2 0h29m18 0h9M1282 673.5h9m26 0h5m12 0h16m1 0h557m2 0h28m18 0h14M1283 674.5h7m41 0h19m1 0h9m1 0h548m2 0h27m4 0h10m4 0h15M1284 675.5h5m41 0h20m2 0h7m3 0h547m2 0h27m3 0h14m1 0h16M1329 676.5h21m3 0h5m6 0h545m2 0h26m3 0h16m1 0h15M1329 677.5h25m9 0h546m3 0h24m4 0h17m1 0h14m14 0h5M1329 678.5h13m1 0h12m7 0h546m2 0h25m5 0h17m1 0h14m13 0h7M1329 679.5h9m9 0h9m5 0h574m5 0h17m1 0h13m13 0h9M1330 680.5h7m10 0h9m4 0h565m1 0h9m6 0h16m2 0h11m14 0h9M1331 681.5h5m9 0h11m3 0h39m1 0h525m3 0h7m8 0h14m4 0h9m15 0h9M1344 682.5h12m3 0h565m4 0h5m5 0h5m7 0h5m5 0h9m15 0h9M1343 683.5h12m4 0h565m13 0h7m16 0h9m16 0h7M1343 684.5h11m5 0h565m4 0h5m3 0h9m15 0h9m17 0h5M1343 685.5h9m8 0h16m1 0h15m4 0h491m1 0h37m2 0h7m1 0h10m16 0h7M1343 686.5h9m9 0h5m2 0h7m2 0h548m1 0h19m17 0h5M1344 687.5h7m4 0h5m6 0h8m4 0h547m1 0h22M1345 688.5h5m4 0h7m4 0h9m4 0h58m1 0h488m1 0h23M1353 689.5h9m2 0h12m1 0h518m1 0h20m1 0h7m2 0h9m1 0h14m14 0h5M1353 690.5h9m2 0h553m1 0h7m2 0h7m3 0h13m13 0h7M1353 691.5h9m2 0h535m1 0h26m2 0h5m8 0h9m12 0h9M1346 692.5h5m2 0h9m2 0h562m15 0h9m12 0h9M1345 693.5h7m1 0h9m3 0h561m1 0h5m10 0h7m13 0h9M1344 694.5h18m4 0h542m1 0h24m10 0h5m14 0h9M1344 695.5h18m6 0h9m1 0h531m1 0h24m29 0h7M1344 696.5h17m6 0h9m5 0h529m4 0h10m1 0h9m30 0h5M1344 697.5h16m6 0h9m6 0h529m4 0h9m2 0h9m15 0h5M1345 698.5h14m7 0h9m6 0h529m4 0h9m2 0h9m14 0h10M1346 699.5h13m7 0h9m7 0h11m3 0h7m1 0h509m1 0h9m3 0h7m14 0h12M1350 700.5h9m7 0h9m8 0h9m2 0h10m4 0h506m1 0h10m2 0h5m15 0h13M1351 701.5h7m9 0h7m9 0h532m1 0h10m21 0h13M1352 702.5h5m10 0h6m11 0h39m2 0h490m3 0h9m20 0h13M1366 703.5h7m5 0h5m2 0h38m3 0h489m3 0h9m21 0h13M1320 704.5h5m40 0h9m3 0h7m1 0h38m3 0h489m2 0h10m11 0h5m6 0h12M1319 705.5h7m39 0h9m2 0h48m2 0h488m2 0h11m10 0h7m8 0h9M1318 706.5h9m38 0h9m2 0h9m1 0h528m2 0h10m10 0h9m7 0h9M1318 707.5h9m38 0h9m2 0h9m2 0h5m2 0h521m1 0h9m11 0h9m8 0h7M1318 708.5h9m39 0h7m3 0h9m7 0h18m1 0h461m1 0h52m11 0h9m3 0h5m1 0h5M1318 709.5h9m40 0h5m5 0h7m7 0h20m1 0h457m5 0h31m2 0h9m1 0h7m11 0h10m2 0h7m5 0h5M1319 710.5h7m30 0h5m17 0h5m7 0h22m1 0h454m6 0h31m3 0h9m2 0h8m8 0h10m2 0h9m3 0h7M1320 711.5h5m28 0h9m28 0h23m1 0h453m5 0h31m4 0h9m4 0h7m6 0h10m3 0h9m2 0h9M1352 712.5h11m27 0h12m2 0h463m4 0h30m5 0h9m4 0h9m5 0h9m4 0h9m2 0h9M1351 713.5h12m27 0h9m5 0h463m4 0h30m4 0h9m5 0h9m5 0h9m4 0h9m2 0h9M1351 714.5h12m3 0h5m20 0h7m6 0h462m5 0h30m4 0h9m5 0h9m5 0h9m5 0h7m3 0h9M1351 715.5h12m2 0h7m20 0h5m8 0h460m6 0h30m1 0h12m5 0h9m6 0h7m7 0h5m5 0h7M1351 716.5h11m2 0h9m33 0h464m2 0h8m2 0h32m6 0h7m8 0h5m13 0h5m1 0h5M1352 717.5h9m3 0h9m33 0h42m1 0h422m2 0h6m3 0h31m8 0h5m26 0h7M1353 718.5h7m4 0h9m33 0h43m1 0h422m11 0h16m1 0h12m39 0h9M1354 719.5h5m5 0h9m33 0h466m12 0h10m6 0h9m42 0h9M1365 720.5h7m35 0h465m13 0h9m6 0h9m40 0h11M1366 721.5h5m37 0h8m3 0h453m14 0h10m5 0h7m40 0h12M1406 722.5h5m7 0h454m15 0h10m2 0h8m40 0h12M1405 723.5h7m6 0h428m1 0h26m16 0h19m39 0h11M1404 724.5h9m5 0h423m6 0h27m15 0h19m39 0h9M1404 725.5h9m5 0h423m6 0h27m15 0h19m39 0h9M1404 726.5h9m6 0h422m1 0h5m1 0h26m15 0h19m40 0h7M1403 727.5h10m6 0h455m16 0h17m24 0h5m13 0h5M1402 728.5h10m7 0h454m16 0h17m24 0h7M1401 729.5h10m8 0h453m16 0h16m25 0h9M1401 730.5h9m10 0h13m1 0h442m11 0h13m29 0h9M1401 731.5h9m10 0h12m3 0h414m1 0h27m10 0h13m29 0h9M1401 732.5h9m10 0h9m7 0h414m1 0h27m9 0h13m29 0h9M1375 733.5h5m22 0h7m11 0h9m7 0h442m9 0h13m30 0h7M1374 734.5h7m22 0h5m3 0h5m4 0h9m3 0h446m10 0h11m5 0h5m22 0h5M1373 735.5h9m28 0h18m3 0h409m1 0h37m11 0h9m5 0h7M1373 736.5h9m27 0h18m3 0h409m3 0h35m25 0h9M1373 737.5h9m27 0h14m7 0h409m3 0h36m24 0h9m41 0h5M1373 738.5h9m27 0h14m7 0h13m4 0h28m2 0h362m3 0h37m23 0h9m40 0h7M1374 739.5h7m28 0h14m7 0h12m6 0h27m2 0h361m4 0h21m1 0h15m21 0h11m39 0h9M1375 740.5h5m30 0h13m8 0h10m11 0h9m1 0h378m2 0h22m1 0h15m19 0h11m40 0h9M1410 741.5h12m8 0h7m15 0h9m1 0h347m1 0h31m2 0h21m3 0h14m17 0h11m41 0h9M1408 742.5h13m8 0h9m14 0h357m2 0h31m2 0h9m1 0h28m16 0h9m43 0h9M1407 743.5h10m12 0h9m14 0h357m2 0h32m2 0h37m16 0h9m44 0h7M1406 744.5h11m12 0h9m3 0h5m7 0h356m2 0h33m1 0h39m14 0h9m10 0h5m30 0h5M1371 745.5h5m30 0h11m12 0h9m2 0h7m7 0h5m1 0h348m4 0h73m14 0h7m10 0h7M1370 746.5h7m29 0h11m13 0h7m2 0h9m12 0h426m14 0h5m10 0h9M1369 747.5h9m28 0h10m15 0h5m3 0h14m7 0h355m1 0h29m1 0h40m29 0h9M1369 748.5h9m29 0h8m24 0h15m7 0h355m1 0h28m2 0h39m29 0h9M1369 749.5h9m30 0h5m26 0h16m5 0h356m1 0h27m6 0h36m29 0h9M1369 750.5h9m62 0h15m4 0h19m1 0h364m8 0h35m30 0h7m7 0h5M1370 751.5h7m64 0h14m3 0h385m6 0h5m2 0h31m30 0h5m7 0h7M1371 752.5h5m68 0h11m3 0h371m1 0h14m4 0h7m2 0h12m2 0h17m40 0h9M1444 753.5h10m4 0h370m3 0h13m3 0h9m2 0h10m4 0h16m40 0h9M1445 754.5h8m5 0h47m1 0h320m6 0h12m3 0h9m4 0h9m2 0h7m1 0h9m40 0h9M1446 755.5h5m6 0h46m2 0h12m3 0h307m6 0h11m3 0h41m40 0h9M1456 756.5h46m2 0h10m2 0h311m6 0h11m3 0h32m1 0h7m42 0h7M1455 757.5h40m1 0h17m2 0h312m6 0h11m3 0h32m2 0h5m44 0h5M1455 758.5h57m2 0h313m7 0h9m4 0h35M1455 759.5h10m1 0h46m2 0h286m2 0h24m7 0h10m3 0h37M1451 760.5h13m3 0h332m3 0h23m8 0h11m1 0h25m2 0h12m15 0h5M1450 761.5h13m5 0h330m4 0h18m2 0h5m5 0h31m1 0h7m4 0h9m14 0h7M1422 762.5h5m17 0h18m6 0h329m3 0h20m1 0h9m1 0h41m3 0h9m13 0h9M1413 763.5h5m3 0h7m15 0h15m9 0h56m6 0h268m2 0h54m1 0h18m3 0h9m13 0h9M1412 764.5h7m1 0h9m7 0h5m1 0h16m8 0h58m1 0h272m1 0h55m2 0h7m1 0h9m4 0h7m14 0h9M1411 765.5h18m6 0h23m8 0h331m1 0h46m1 0h7m4 0h16m5 0h5m15 0h9M1411 766.5h18m5 0h23m9 0h331m1 0h45m3 0h5m6 0h14m27 0h7M1411 767.5h18m5 0h29m3 0h331m1 0h45m13 0h14m8 0h5m16 0h5M1411 768.5h9m1 0h7m6 0h30m2 0h331m1 0h15m1 0h28m14 0h9m12 0h7M1412 769.5h7m3 0h5m7 0h9m1 0h21m1 0h9m5 0h36m1 0h279m2 0h15m2 0h16m3 0h8m14 0h9m11 0h9M1413 770.5h5m10 0h5m2 0h7m2 0h21m1 0h9m12 0h29m2 0h136m2 0h140m1 0h16m2 0h15m4 0h9m13 0h9m11 0h9M1380 771.5h5m42 0h7m2 0h5m2 0h22m1 0h9m12 0h29m2 0h135m4 0h125m1 0h12m1 0h17m2 0h9m10 0h9m1 0h5m8 0h7m12 0h9M1379 772.5h7m40 0h9m8 0h22m2 0h7m12 0h30m2 0h41m4 0h194m2 0h23m1 0h11m1 0h17m3 0h9m10 0h16m8 0h5m3 0h5m5 0h9M1378 773.5h9m39 0h9m8 0h22m3 0h5m12 0h9m1 0h21m2 0h41m5 0h187m11 0h20m2 0h7m3 0h17m3 0h10m8 0h19m14 0h7m5 0h7M1378 774.5h9m39 0h9m7 0h23m20 0h56m1 0h17m4 0h189m11 0h9m1 0h11m1 0h5m3 0h14m6 0h10m8 0h20m13 0h9m5 0h5M1378 775.5h9m39 0h9m6 0h24m20 0h56m1 0h18m2 0h190m2 0h5m5 0h7m3 0h11m8 0h13m7 0h9m8 0h21m6 0h5m2 0h9M1378 776.5h9m40 0h7m7 0h14m1 0h9m20 0h56m1 0h210m1 0h8m14 0h11m6 0h11m10 0h9m8 0h21m5 0h7m1 0h9M1379 777.5h7m42 0h5m8 0h14m1 0h9m20 0h150m1 0h126m13 0h11m1 0h15m11 0h9m7 0h21m5 0h18M1380 778.5h5m56 0h14m1 0h9m19 0h279m11 0h27m12 0h9m6 0h21m6 0h9m1 0h7M1442 779.5h23m18 0h280m10 0h27m5 0h5m4 0h7m7 0h21m6 0h9m2 0h5M1443 780.5h11m1 0h10m18 0h280m10 0h26m5 0h7m4 0h5m8 0h22m5 0h9M1448 781.5h5m2 0h9m19 0h217m2 0h61m9 0h27m4 0h9m15 0h10m1 0h13m5 0h7m32 0h5M1455 782.5h9m19 0h217m1 0h63m8 0h26m5 0h9m15 0h9m3 0h12m6 0h5m32 0h7M1456 783.5h7m21 0h31m3 0h11m1 0h235m7 0h40m15 0h9m6 0h9m38 0h13M1457 784.5h5m23 0h31m2 0h10m3 0h21m1 0h213m6 0h40m15 0h9m6 0h9m37 0h14M1486 785.5h30m3 0h8m6 0h20m4 0h210m5 0h39m6 0h8m3 0h7m8 0h7m37 0h15M1486 786.5h15m1 0h14m4 0h7m5 0h21m4 0h210m4 0h17m2 0h20m6 0h12m1 0h5m10 0h5m7 0h5m26 0h15M1482 787.5h19m2 0h13m3 0h9m3 0h22m4 0h210m4 0h16m4 0h14m10 0h14m5 0h5m16 0h7m25 0h14M1481 788.5h20m2 0h25m2 0h23m5 0h13m3 0h193m4 0h15m1 0h5m4 0h9m10 0h15m3 0h7m14 0h9m24 0h13M1480 789.5h21m2 0h25m1 0h23m7 0h11m4 0h151m2 0h40m3 0h23m4 0h7m11 0h15m2 0h9m13 0h9m25 0h7M1480 790.5h9m4 0h9m1 0h48m7 0h9m6 0h160m1 0h34m2 0h24m4 0h5m12 0h15m2 0h9m13 0h9m26 0h5M1469 791.5h5m6 0h9m5 0h9m1 0h23m1 0h23m2 0h14m6 0h156m6 0h34m1 0h24m22 0h15m1 0h9m13 0h9M1468 792.5h7m5 0h9m6 0h9m1 0h5m1 0h15m2 0h39m5 0h142m1 0h17m2 0h35m1 0h24m23 0h14m1 0h9m14 0h7M1467 793.5h9m5 0h7m7 0h9m7 0h16m1 0h9m2 0h28m4 0h142m3 0h53m2 0h23m22 0h5m1 0h9m2 0h7m16 0h7M1467 794.5h9m6 0h5m7 0h10m7 0h17m1 0h7m2 0h29m4 0h198m3 0h21m22 0h16m3 0h7m16 0h7M1467 795.5h9m17 0h11m4 0h27m2 0h30m4 0h188m2 0h7m7 0h17m22 0h16m3 0h9m14 0h9M1467 796.5h9m10 0h5m2 0h10m4 0h11m1 0h13m5 0h30m3 0h188m4 0h5m9 0h13m25 0h9m1 0h5m4 0h9m14 0h9M1468 797.5h7m10 0h7m1 0h9m4 0h9m4 0h14m4 0h30m2 0h69m1 0h123m7 0h5m2 0h13m1 0h5m19 0h9m10 0h9m14 0h9M1469 798.5h5m10 0h18m4 0h9m4 0h14m4 0h29m2 0h21m2 0h46m2 0h52m1 0h71m5 0h7m2 0h19m16 0h11m10 0h9m14 0h9M1484 799.5h18m2 0h11m4 0h48m1 0h20m3 0h46m2 0h14m1 0h110m3 0h9m2 0h19m14 0h11m12 0h7m16 0h7M1422 800.5h5m57 0h18m1 0h12m5 0h67m5 0h62m1 0h21m3 0h85m3 0h9m2 0h19m13 0h11m14 0h5m18 0h5M1421 801.5h7m56 0h30m7 0h19m1 0h11m1 0h35m5 0h83m4 0h85m2 0h20m1 0h9m13 0h9M1420 802.5h9m56 0h7m1 0h20m5 0h5m1 0h16m2 0h8m3 0h36m1 0h5m4 0h77m3 0h43m1 0h10m2 0h31m1 0h30m1 0h9m3 0h9m5 0h5M1420 803.5h9m57 0h5m3 0h7m1 0h9m6 0h31m5 0h26m1 0h16m1 0h45m3 0h66m3 0h19m2 0h32m1 0h28m1 0h11m2 0h9m4 0h7m6 0h5M1420 804.5h9m29 0h5m32 0h5m2 0h9m5 0h35m2 0h23m4 0h63m3 0h65m3 0h19m2 0h32m2 0h26m1 0h13m2 0h7m4 0h9m4 0h7M1420 805.5h9m28 0h7m39 0h7m6 0h9m1 0h26m2 0h21m5 0h64m3 0h54m2 0h7m4 0h9m1 0h9m2 0h32m5 0h21m3 0h13m3 0h5m5 0h9m3 0h9M1421 806.5h7m28 0h9m25 0h5m8 0h7m6 0h9m5 0h23m2 0h20m6 0h64m1 0h63m5 0h9m2 0h7m3 0h32m5 0h21m3 0h13m13 0h9m3 0h9M1422 807.5h5m8 0h5m16 0h9m24 0h7m6 0h9m5 0h9m5 0h23m7 0h147m8 0h7m4 0h5m4 0h31m6 0h9m3 0h9m3 0h13m13 0h9m3 0h9M1434 808.5h7m15 0h9m23 0h9m5 0h9m6 0h7m5 0h8m1 0h15m8 0h152m1 0h12m10 0h16m1 0h13m5 0h10m3 0h8m5 0h11m15 0h7m4 0h9M1433 809.5h9m14 0h9m23 0h9m5 0h9m7 0h5m5 0h9m2 0h14m11 0h108m2 0h53m10 0h14m4 0h10m5 0h11m2 0h9m5 0h10m17 0h5m6 0h7M1433 810.5h9m15 0h7m23 0h10m5 0h9m17 0h9m3 0h12m6 0h5m2 0h106m2 0h55m13 0h9m5 0h9m5 0h11m3 0h9m5 0h9m30 0h5M1433 811.5h9m16 0h5m24 0h15m1 0h7m5 0h5m8 0h10m5 0h10m4 0h7m2 0h30m2 0h72m2 0h56m14 0h7m6 0h9m5 0h10m4 0h9m5 0h9m43 0h5M1433 812.5h9m45 0h16m1 0h5m5 0h7m7 0h11m3 0h23m1 0h29m11 0h46m1 0h17m1 0h60m12 0h9m3 0h9m5 0h9m4 0h10m5 0h9m42 0h7M1434 813.5h7m45 0h18m9 0h9m7 0h10m3 0h23m2 0h26m13 0h21m1 0h23m1 0h17m2 0h61m14 0h7m3 0h7m6 0h9m3 0h10m7 0h7m2 0h5m35 0h9M1435 814.5h5m45 0h19m9 0h9m2 0h5m1 0h9m3 0h23m1 0h7m2 0h17m15 0h19m2 0h22m2 0h81m12 0h9m3 0h7m6 0h7m3 0h10m9 0h5m2 0h7m34 0h9M1484 815.5h10m1 0h9m9 0h9m1 0h16m3 0h30m4 0h16m12 0h22m3 0h21m2 0h55m1 0h25m12 0h9m4 0h7m6 0h7m2 0h9m16 0h9m33 0h9M1484 816.5h9m2 0h9m9 0h25m5 0h30m4 0h15m11 0h23m3 0h9m3 0h9m2 0h55m2 0h7m1 0h5m2 0h9m12 0h9m3 0h9m4 0h9m1 0h9m16 0h9m33 0h9M1484 817.5h19m11 0h7m1 0h9m1 0h5m7 0h29m5 0h14m10 0h24m4 0h7m5 0h8m3 0h63m8 0h9m12 0h9m3 0h9m4 0h19m16 0h9m34 0h7M1484 818.5h18m13 0h5m2 0h9m17 0h25m6 0h13m10 0h23m6 0h5m2 0h13m2 0h64m8 0h7m13 0h9m3 0h9m4 0h18m17 0h9m35 0h5M1485 819.5h15m22 0h14m13 0h24m5 0h14m9 0h23m10 0h17m1 0h65m9 0h5m14 0h9m3 0h9m4 0h17m10 0h5m4 0h7m62 0h5M1486 820.5h15m13 0h5m4 0h14m11 0h24m5 0h15m8 0h24m5 0h45m1 0h42m28 0h10m3 0h7m6 0h14m4 0h5m2 0h7m4 0h5m62 0h7M1491 821.5h11m11 0h7m3 0h15m10 0h10m1 0h5m1 0h6m5 0h16m8 0h24m4 0h33m1 0h11m3 0h41m24 0h15m3 0h5m8 0h14m2 0h16m47 0h5m17 0h9M1480 822.5h5m6 0h12m9 0h9m1 0h17m3 0h5m1 0h11m5 0h27m6 0h17m1 0h8m4 0h34m1 0h9m10 0h35m24 0h17m17 0h30m46 0h7m16 0h9M1479 823.5h7m6 0h11m9 0h28m1 0h18m4 0h32m1 0h18m3 0h43m1 0h10m11 0h33m2 0h5m17 0h18m2 0h5m11 0h29m45 0h9m15 0h9M1478 824.5h9m6 0h10m9 0h47m4 0h52m6 0h38m1 0h11m7 0h5m2 0h10m1 0h27m16 0h18m1 0h7m10 0h29m45 0h9m15 0h9M1478 825.5h9m7 0h9m9 0h37m1 0h9m4 0h53m4 0h38m2 0h10m7 0h7m1 0h9m2 0h28m6 0h5m4 0h27m9 0h28m46 0h9m16 0h7M1478 826.5h9m8 0h7m11 0h17m1 0h18m2 0h7m5 0h53m4 0h37m3 0h10m6 0h48m5 0h7m3 0h17m1 0h9m9 0h11m2 0h14m47 0h9m17 0h5M1478 827.5h9m9 0h5m13 0h15m3 0h7m1 0h9m3 0h5m7 0h53m3 0h36m4 0h10m6 0h48m4 0h9m3 0h9m1 0h5m2 0h9m10 0h9m4 0h10m3 0h5m43 0h7M1479 828.5h7m28 0h14m5 0h5m3 0h7m17 0h11m5 0h37m2 0h35m6 0h9m6 0h9m1 0h18m3 0h17m4 0h9m3 0h12m5 0h9m11 0h5m9 0h9m1 0h7m43 0h5M1480 829.5h5m29 0h17m11 0h5m23 0h5m11 0h33m2 0h33m8 0h7m6 0h10m2 0h18m3 0h15m5 0h9m3 0h13m5 0h7m7 0h8m11 0h18M1515 830.5h17m53 0h22m2 0h10m3 0h32m9 0h5m6 0h10m7 0h15m4 0h13m5 0h9m4 0h13m5 0h5m7 0h10m10 0h18M1516 831.5h17m51 0h22m4 0h9m5 0h31m15 0h13m8 0h15m7 0h10m6 0h7m6 0h17m11 0h12m9 0h18M1524 832.5h9m24 0h5m22 0h19m7 0h9m5 0h21m1 0h11m12 0h14m9 0h14m8 0h9m7 0h5m10 0h15m10 0h12m10 0h7m1 0h9M1514 833.5h5m5 0h9m23 0h7m21 0h20m7 0h7m7 0h33m10 0h15m10 0h13m8 0h9m22 0h16m9 0h12m11 0h5m3 0h7M1513 834.5h7m4 0h9m15 0h5m2 0h9m20 0h20m8 0h5m9 0h33m9 0h14m14 0h9m10 0h7m24 0h15m9 0h12m20 0h5M1512 835.5h9m4 0h7m15 0h7m1 0h9m21 0h19m2 0h5m15 0h33m9 0h13m14 0h9m6 0h11m26 0h14m7 0h13M1497 836.5h5m10 0h9m5 0h5m15 0h18m19 0h11m1 0h9m1 0h7m13 0h9m4 0h23m7 0h9m7 0h5m5 0h9m6 0h12m26 0h14m6 0h14M1496 837.5h7m9 0h9m25 0h18m18 0h7m7 0h7m1 0h9m12 0h9m4 0h24m7 0h7m7 0h7m4 0h9m5 0h14m4 0h5m15 0h14m6 0h15m9 0h5M1495 838.5h9m8 0h9m25 0h9m1 0h7m18 0h9m7 0h5m2 0h9m11 0h10m5 0h24m7 0h7m5 0h9m3 0h9m5 0h14m3 0h7m13 0h14m7 0h14m9 0h7M1495 839.5h9m9 0h7m26 0h9m2 0h5m11 0h5m3 0h9m14 0h9m10 0h11m6 0h23m6 0h9m4 0h21m4 0h15m2 0h9m12 0h15m5 0h14m9 0h9M1495 840.5h9m10 0h5m14 0h5m9 0h7m18 0h18m14 0h9m9 0h12m11 0h18m6 0h9m4 0h20m5 0h15m2 0h9m12 0h15m5 0h10m13 0h9M1495 841.5h9m28 0h7m9 0h5m18 0h19m15 0h7m10 0h12m3 0h5m4 0h7m1 0h9m6 0h9m4 0h21m3 0h15m3 0h9m12 0h15m5 0h9m14 0h9M1496 842.5h7m28 0h9m21 0h5m2 0h21m17 0h5m11 0h12m2 0h7m4 0h5m3 0h7m7 0h10m3 0h22m1 0h15m4 0h9m13 0h14m5 0h9m14 0h9M1497 843.5h5m29 0h9m20 0h29m8 0h5m20 0h11m2 0h11m9 0h6m8 0h11m2 0h33m10 0h7m14 0h13m7 0h7m16 0h7M1531 844.5h9m19 0h30m7 0h7m14 0h5m1 0h9m3 0h12m7 0h11m4 0h12m1 0h32m11 0h6m14 0h7m1 0h5m9 0h5m18 0h5m10 0h5M1531 845.5h9m10 0h5m4 0h30m6 0h9m12 0h7m1 0h5m6 0h13m5 0h13m3 0h12m1 0h32m10 0h7m13 0h12m48 0h7M1532 846.5h7m10 0h7m3 0h30m6 0h9m11 0h9m11 0h13m5 0h14m2 0h46m8 0h9m12 0h13m46 0h9M1533 847.5h5m10 0h9m2 0h16m1 0h13m6 0h9m11 0h9m10 0h14m5 0h51m1 0h11m7 0h9m12 0h14m45 0h9M1548 848.5h9m3 0h14m7 0h7m3 0h13m11 0h9m9 0h15m5 0h50m3 0h10m7 0h9m12 0h14m45 0h9M1548 849.5h9m4 0h5m2 0h5m9 0h5m3 0h13m12 0h9m8 0h15m7 0h44m9 0h9m7 0h10m12 0h13m45 0h9M1444 850.5h5m99 0h9m32 0h13m10 0h11m9 0h14m8 0h44m7 0h11m8 0h10m12 0h12m46 0h7M1443 851.5h7m99 0h7m7 0h5m21 0h9m13 0h11m10 0h9m13 0h44m6 0h11m10 0h10m2 0h5m8 0h7m4 0h5m39 0h5M1442 852.5h9m97 0h7m7 0h7m20 0h9m12 0h9m13 0h9m13 0h34m2 0h7m6 0h11m12 0h9m1 0h7m8 0h5m4 0h7M1442 853.5h9m96 0h7m7 0h9m19 0h10m11 0h9m14 0h7m14 0h33m4 0h5m7 0h10m13 0h18m15 0h9m18 0h5M1442 854.5h9m95 0h9m6 0h9m15 0h15m10 0h9m15 0h5m16 0h16m1 0h9m22 0h11m12 0h18m15 0h9m17 0h7m38 0h5M1442 855.5h9m95 0h9m6 0h9m14 0h16m10 0h9m37 0h5m10 0h11m21 0h12m12 0h7m1 0h9m2 0h5m8 0h9m16 0h9m36 0h7M1443 856.5h7m96 0h9m6 0h9m8 0h22m11 0h7m27 0h5m21 0h11m22 0h11m13 0h5m2 0h9m1 0h7m7 0h9m16 0h9m35 0h9M1444 857.5h5m97 0h9m7 0h7m8 0h23m9 0h8m27 0h7m20 0h11m23 0h10m1 0h5m15 0h7m1 0h9m7 0h7m17 0h9m35 0h9M1547 858.5h7m9 0h5m8 0h23m9 0h7m28 0h9m19 0h11m24 0h16m15 0h5m2 0h9m8 0h5m18 0h9m35 0h9M1548 859.5h5m23 0h22m9 0h9m27 0h9m20 0h10m25 0h16m21 0h9m32 0h7m36 0h9M1481 860.5h5m86 0h21m14 0h9m27 0h9m20 0h14m22 0h5m1 0h9m21 0h9m33 0h5m38 0h7M1480 861.5h7m84 0h29m5 0h12m26 0h9m19 0h20m21 0h12m21 0h7m78 0h5M1479 862.5h9m79 0h34m3 0h14m26 0h7m19 0h22m19 0h14m21 0h5M1479 863.5h9m78 0h17m2 0h17m1 0h15m11 0h5m11 0h5m20 0h23m17 0h15M1479 864.5h9m77 0h14m7 0h16m1 0h15m10 0h7m35 0h23m17 0h15M1479 865.5h9m37 0h5m35 0h14m10 0h13m1 0h15m9 0h9m33 0h24m17 0h15M1480 866.5h7m37 0h7m34 0h13m11 0h13m1 0h15m9 0h9m32 0h10m2 0h13m17 0h14m56 0h5M1481 867.5h5m37 0h9m33 0h12m13 0h11m3 0h13m10 0h9m31 0h10m4 0h11m19 0h12m45 0h5m6 0h7M1523 868.5h9m34 0h7m18 0h9m5 0h5m1 0h5m11 0h13m27 0h9m10 0h5m21 0h5m50 0h7m4 0h9M1523 869.5h9m35 0h5m56 0h13m26 0h9m90 0h9m3 0h9M1523 870.5h9m14 0h5m24 0h5m49 0h13m25 0h9m90 0h9m3 0h9M1524 871.5h7m14 0h7m22 0h7m52 0h9m26 0h7m48 0h5m38 0h21M1525 872.5h5m14 0h9m20 0h9m51 0h9m27 0h5m29 0h5m14 0h7m37 0h20M1544 873.5h9m20 0h9m51 0h9m60 0h7m12 0h9m37 0h18M1544 874.5h9m20 0h9m52 0h7m43 0h5m12 0h9m11 0h9m38 0h12M1544 875.5h9m20 0h9m53 0h5m43 0h7m11 0h10m10 0h9m41 0h9M1545 876.5h7m22 0h7m101 0h9m10 0h10m10 0h9m23 0h5m13 0h9M1546 877.5h5m24 0h5m56 0h5m41 0h9m10 0h10m11 0h7m23 0h7m1 0h5m7 0h7M1635 878.5h7m40 0h13m7 0h9m12 0h7m21 0h15m7 0h5M1528 879.5h5m101 0h9m39 0h14m7 0h7m14 0h7m20 0h16M1527 880.5h7m100 0h9m21 0h5m14 0h14m7 0h5m14 0h9m19 0h16M1526 881.5h9m99 0h9m20 0h7m14 0h13m26 0h9m19 0h16M1526 882.5h9m70 0h5m24 0h9m19 0h9m17 0h9m11 0h5m10 0h9m20 0h15M1526 883.5h9m69 0h7m24 0h7m20 0h9m17 0h9m10 0h7m9 0h9m21 0h5m1 0h7M1526 884.5h9m68 0h9m24 0h5m21 0h9m18 0h7m10 0h9m9 0h7m28 0h6M1527 885.5h7m69 0h9m50 0h9m19 0h5m11 0h9m10 0h5m28 0h7M1528 886.5h5m70 0h9m51 0h7m36 0h9m42 0h9M1563 887.5h5m35 0h9m52 0h5m37 0h9m42 0h9M1562 888.5h7m35 0h7m51 0h5m22 0h10m8 0h7m43 0h9M1561 889.5h10m34 0h5m51 0h7m20 0h12m8 0h5m44 0h9M1561 890.5h11m88 0h9m18 0h14m57 0h7M1561 891.5h12m47 0h5m35 0h9m18 0h14m58 0h5M1561 892.5h12m46 0h7m34 0h9m18 0h14M1562 893.5h11m45 0h9m33 0h9m18 0h14M1563 894.5h10m45 0h9m34 0h7m20 0h12M1565 895.5h7m46 0h9m1 0h5m29 0h5m22 0h10M1566 896.5h5m47 0h16M1619 897.5h16M1620 898.5h5m1 0h9M1626 899.5h9M1626 900.5h9M1627 901.5h7M1628 902.5h5M1640 903.5h5M1639 904.5h7M1594 905.5h5m39 0h9M1593 906.5h7m38 0h9M1592 907.5h9m37 0h9M1592 908.5h9m10 0h5m22 0h9M1592 909.5h9m9 0h7m22 0h7M1592 910.5h9m8 0h9m22 0h5M1574 911.5h5m14 0h7m9 0h9M1573 912.5h7m14 0h5m10 0h9M1572 913.5h9m28 0h9M1572 914.5h9m29 0h7M1572 915.5h9m30 0h5M1572 916.5h9M1573 917.5h7M1574 918.5h6m3 0h5M1574 919.5h7m1 0h7M1573 920.5h17M1573 921.5h17M1573 922.5h17M1561 923.5h5m7 0h17m101 0h5M1560 924.5h7m7 0h7m1 0h7m101 0h7M1559 925.5h9m7 0h5m3 0h5m101 0h9M1559 926.5h9m121 0h9M1559 927.5h9m121 0h9M1559 928.5h9m121 0h9M1560 929.5h7m123 0h7M1561 930.5h5m77 0h5m43 0h5M1642 931.5h7M1641 932.5h9M1641 933.5h9M1641 934.5h9M1641 935.5h9M1642 936.5h7M1643 937.5h5" fill="none" stroke="#6b7b8d" stroke-width="1" shape-rendering="crispEdges"/>
<polyline points="1267,345.6 1269.1,348.7 1271.1,351.7 1273.2,354.7 1275.2,357.7 1277.3,360.7 1279.4,363.7 1281.4,366.7 1283.5,369.6 1285.5,372.5 1287.6,375.4 1289.7,378.3 1291.7,381.2 1293.8,384.1 1295.8,386.9 1297.9,389.7 1300,392.6 1302,395.3 1304.1,398.1 1306.1,400.9 1308.2,403.6 1310.3,406.4 1312.3,409.1 1314.4,411.8 1316.4,414.5 1318.5,417.1 1320.6,419.8 1322.6,422.4 1324.7,425 1326.7,427.6 1328.8,430.2 1330.9,432.8 1332.9,435.3 1335,437.8 1337,440.4 1339.1,442.9 1341.2,445.4 1343.2,447.8 1345.3,450.3 1347.3,452.7 1349.4,455.1 1351.5,457.5 1353.5,459.9 1355.6,462.3 1357.6,464.6 1359.7,467 1361.8,469.3 1363.8,471.6 1365.9,473.9 1367.9,476.2 1370,478.4 1372.1,480.7 1374.1,482.9 1376.2,485.1 1378.2,487.3 1380.3,489.5 1382.4,491.6 1384.4,493.8 1386.5,495.9 1388.5,498 1390.6,500.1 1392.7,502.2 1394.7,504.2 1396.8,506.3 1398.8,508.3 1400.9,510.3 1403,512.3 1405,514.3 1407.1,516.2 1409.1,518.2 1411.2,520.1 1413.3,522 1415.3,523.9 1417.4,525.8 1419.4,527.7 1421.5,529.5 1423.6,531.3 1425.6,533.1 1427.7,534.9 1429.7,536.7 1431.8,538.5 1433.9,540.2 1435.9,542 1438,543.7 1440,545.4 1442.1,547.1 1444.2,548.7 1446.2,550.4 1448.3,552 1450.3,553.6 1452.4,555.2 1454.5,556.8 1456.5,558.4 1458.6,560 1460.6,561.5 1462.7,563 1464.8,564.5 1466.8,566 1468.9,567.5 1470.9,568.9 1473,570.4 1475.1,571.8 1477.1,573.2 1479.2,574.6 1481.2,576 1483.3,577.3 1485.4,578.7 1487.4,580 1489.5,581.3 1491.5,582.6 1493.6,583.9 1495.7,585.1 1497.7,586.4 1499.8,587.6 1501.8,588.8 1503.9,590 1506,591.2 1508,592.3 1510.1,593.5 1512.1,594.6 1514.2,595.7 1516.3,596.8 1518.3,597.9 1520.4,598.9 1522.4,600 1524.5,601 1526.6,602 1528.6,603 1530.7,604 1532.7,605 1534.8,605.9 1536.9,606.9 1538.9,607.8 1541,608.7 1543,609.6 1545.1,610.4 1547.2,611.3 1549.2,612.1 1551.3,612.9 1553.3,613.7 1555.4,614.5 1557.5,615.3 1559.5,616 1561.6,616.8 1563.6,617.5 1565.7,618.2 1567.8,618.9 1569.8,619.5 1571.9,620.2 1573.9,620.8 1576,621.5 1578.1,622.1 1580.1,622.6 1582.2,623.2 1584.2,623.8 1586.3,624.3 1588.4,624.8 1590.4,625.3 1592.5,625.8 1594.5,626.3 1596.6,626.8 1598.7,627.2 1600.7,627.6 1602.8,628 1604.8,628.4 1606.9,628.8 1609,629.2 1611,629.5 1613.1,629.8 1615.1,630.1 1617.2,630.4 1619.3,630.7 1621.3,631 1623.4,631.2 1625.4,631.5 1627.5,631.7 1629.6,631.9 1631.6,632 1633.7,632.2 1635.7,632.4 1637.8,632.5 1639.9,632.6 1641.9,632.7 1644,632.8 1646,632.8 1648.1,632.9 1650.2,632.9 1652.2,632.9 1654.3,632.9 1656.3,632.9 1658.4,632.9 1660.5,632.8 1662.5,632.8 1664.6,632.7 1666.6,632.6 1668.7,632.5 1670.8,632.4 1672.8,632.2 1674.9,632 1676.9,631.9 1679,631.7 1681.1,631.5 1683.1,631.2 1685.2,631 1687.2,630.7 1689.3,630.4 1691.4,630.1 1693.4,629.8 1695.5,629.5 1697.5,629.2 1699.6,628.8 1701.7,628.4 1703.7,628 1705.8,627.6 1707.8,627.2 1709.9,626.8 1712,626.3 1714,625.8 1716.1,625.3 1718.1,624.8 1720.2,624.3 1722.3,623.8 1724.3,623.2 1726.4,622.6 1728.4,622.1 1730.5,621.5 1732.6,620.8 1734.6,620.2 1736.7,619.5 1738.7,618.9 1740.8,618.2 1742.9,617.5 1744.9,616.8 1747,616 1749,615.3 1751.1,614.5 1753.2,613.7 1755.2,612.9 1757.3,612.1 1759.3,611.3 1761.4,610.4 1763.5,609.6 1765.5,608.7 1767.6,607.8 1769.6,606.9 1771.7,605.9 1773.8,605 1775.8,604 1777.9,603 1779.9,602 1782,601 1784.1,600 1786.1,598.9 1788.2,597.9 1790.2,596.8 1792.3,595.7 1794.4,594.6 1796.4,593.5 1798.5,592.3 1800.5,591.2 1802.6,590 1804.7,588.8 1806.7,587.6 1808.8,586.4 1810.8,585.1 1812.9,583.9 1815,582.6 1817,581.3 1819.1,580 1821.1,578.7 1823.2,577.3 1825.3,576 1827.3,574.6 1829.4,573.2 1831.4,571.8 1833.5,570.4 1835.6,568.9 1837.6,567.5 1839.7,566 1841.7,564.5 1843.8,563 1845.9,561.5 1847.9,560 1850,558.4 1852,556.8 1854.1,555.2 1856.2,553.6 1858.2,552 1860.3,550.4 1862.3,548.7 1864.4,547.1 1866.5,545.4 1868.5,543.7 1870.6,542 1872.6,540.2 1874.7,538.5 1876.8,536.7 1878.8,534.9 1880.9,533.1 1882.9,531.3 1885,529.5 1887.1,527.7 1889.1,525.8 1891.2,523.9 1893.2,522 1895.3,520.1 1897.4,518.2 1899.4,516.2 1901.5,514.3 1903.5,512.3 1905.6,510.3 1907.7,508.3 1909.7,506.3 1911.8,504.2 1913.8,502.2 1915.9,500.1 1918,498 1920,495.9 1922.1,493.8 1924.1,491.6 1926.2,489.5 1928.3,487.3 1930.3,485.1 1932.4,482.9 1934.4,480.7 1936.5,478.4 1938.6,476.2 1940.6,473.9 1942.7,471.6 1944.7,469.3 1946.8,467 1948.9,464.6 1950.9,462.3 1953,459.9 1955,457.5 1957.1,455.1 1959.2,452.7 1961.2,450.3 1963.3,447.8 1965.3,445.4 1967.4,442.9 1969.5,440.4 1971.5,437.8 1973.6,435.3 1975.6,432.8 1977.7,430.2 1979.8,427.6 1981.8,425 1983.9,422.4 1985.9,419.8 1988,417.1 1990.1,414.5 1992.1,411.8 1994.2,409.1 1996.2,406.4 1998.3,403.6 2000.4,400.9 2002.4,398.1 2004.5,395.3 2006.5,392.6 2008.6,389.7 2010.7,386.9 2012.7,384.1 2014.8,381.2 2016.8,378.3 2018.9,375.4 2021,372.5 2023,369.6 2025.1,366.7 2027.1,363.7 2029.2,360.7 2031.3,357.7 2033.3,354.7 2035.4,351.7 2037.4,348.7 2039.5,345.6 2041.6,342.5 2043.6,339.4 2045.7,336.3 2047.7,333.2 2049.8,330.1 2051.9,326.9 2053.9,323.7 2056,320.6 2058,317.4 2060.1,314.1 2062.2,310.9 2064.2,307.6 2066.3,304.4 2068.3,301.1 2070.4,297.8 2072.5,294.5 2074.5,291.1 2076.6,287.8 2078.6,284.4 2080.7,281 2082.8,277.6 2084.8,274.2 2086.9,270.8 2088.9,267.3 2091,263.9" fill="none" stroke="#231f20" stroke-width="8.2" stroke-linejoin="round" shape-rendering="crispEdges"/>
<polyline points="1267,345.8 1372.6,483.5 1491.5,586.2 1607.9,631.7 1717.6,627.1 1849.2,565.1 1989.3,421.2 2091,264.9" fill="none" stroke="#ed1c24" stroke-width="8.3" stroke-linejoin="round" shape-rendering="crispEdges"/>
<g fill="none" stroke="#ed1c24" stroke-width="9.8" shape-rendering="crispEdges"><circle cx="1267" cy="345.8" r="6.7"/><circle cx="1372.6" cy="483.5" r="6.7"/><circle cx="1491.5" cy="586.2" r="6.7"/><circle cx="1607.9" cy="631.7" r="6.7"/><circle cx="1717.6" cy="627.1" r="6.7"/><circle cx="1849.2" cy="565.1" r="6.7"/><circle cx="1989.3" cy="421.2" r="6.7"/><circle cx="2091" cy="264.9" r="6.7"/></g>
<path d="M1267 958.0v-20.0M1372 958.0v-20.0M1491 958.0v-20.0M1608 958.0v-20.0M1717 958.0v-20.0M1849 958.0v-20.0M1989 958.0v-20.0M2091 958.0v-20.0" fill="none" stroke="#ff0000" stroke-width="2"/>
<text transform="translate(1266.00,1032.20) scale(0.965,1)" font-size="59.8" text-anchor="middle" fill="#4a4b4d">-4</text>
<text transform="translate(1472.00,1032.20) scale(0.965,1)" font-size="59.8" text-anchor="middle" fill="#4a4b4d">-2</text>
<text transform="translate(1678.00,1032.20) scale(0.965,1)" font-size="59.8" text-anchor="middle" fill="#4a4b4d">0</text>
<text transform="translate(1884.00,1032.20) scale(0.965,1)" font-size="59.8" text-anchor="middle" fill="#4a4b4d">2</text>
<text transform="translate(2090.00,1032.20) scale(0.965,1)" font-size="59.8" text-anchor="middle" fill="#4a4b4d">4</text>
<text transform="translate(1246.50,242.40) scale(0.985,1)" font-size="59.8" text-anchor="end" fill="#4a4b4d">40</text>
<text transform="translate(1246.50,446.74) scale(0.985,1)" font-size="59.8" text-anchor="end" fill="#4a4b4d">20</text>
<text transform="translate(1246.50,651.07) scale(0.985,1)" font-size="59.8" text-anchor="end" fill="#4a4b4d">0</text>
<text transform="translate(1246.50,855.40) scale(0.985,1)" font-size="59.8" text-anchor="end" fill="#4a4b4d">-20</text>
<text transform="translate(1678.00,1105.00) scale(1.1,1)" font-size="60.5" text-anchor="middle" fill="#4a4b4d">x</text>
<text transform="translate(1133.7,535.0) rotate(-90) scale(1.10,1)" font-size="60.5" text-anchor="middle" fill="#4a4b4d">y</text>
<text transform="translate(1439.74,76.30) scale(1.1934,1)" font-size="65" font-weight="bold" fill="#231f20">PR1</text>
<text transform="translate(1583.26,76.30) scale(1.1237,1)" font-size="65" fill="#231f20">:</text>
<text transform="translate(1635.55,76.30) scale(1.0897,1)" font-size="65" font-style="italic" fill="#231f20">N</text>
<text transform="translate(1712.12,82.30) scale(1.4094,1)" font-size="65" fill="#231f20">=</text>
<text transform="translate(1786.25,76.30) scale(1.0235,1)" font-size="65" fill="#231f20">100k</text>
<rect x="1433.0" y="149.0" width="493.0" height="82" fill="#fff" stroke="#3d3f41" stroke-width="2"/>
<path d="M1455.3 189.7h113" fill="none" stroke="#ed1c24" stroke-width="8"/>
<circle cx="1511.8" cy="189.7" r="11" fill="#ed1c24"/>
<text transform="translate(1579.34,202.20) scale(1.0659,1)" font-size="52" fill="#231f20">LHM</text>
<text transform="translate(1722.53,202.20) scale(1.0558,1)" font-size="52" fill="#231f20">(</text>
<text transform="translate(1746.77,202.20) scale(1.0897,1)" font-size="52" font-style="italic" fill="#231f20">K</text>
<text transform="translate(1808.39,207.20) scale(1.3896,1)" font-size="52" fill="#231f20">=</text>
<text transform="translate(1867.86,202.20) scale(1.0302,1)" font-size="52" fill="#231f20">8</text>
<text transform="translate(1896.48,202.20) scale(1.0355,1)" font-size="52" fill="#231f20">)</text>
<rect x="186.0" y="1285.0" width="824.0" height="843.0" fill="none" stroke="#3d3f41" stroke-width="2"/>
<path d="M392.0 2128.0v-9M392.0 1285.0v9M598.0 2128.0v-9M598.0 1285.0v9M804.0 2128.0v-9M804.0 1285.0v9M186 1293h9M1010 1293h-9M186 1413h9M1010 1413h-9M186 1532h9M1010 1532h-9M186 1652h9M1010 1652h-9M186 1771h9M1010 1771h-9M186 1891h9M1010 1891h-9M186 2010h9M1010 2010h-9" fill="none" stroke="#3d3f41" stroke-width="2"/>
<path d="M898.6 1685.9h0M890.8 1481.8h0M854.3 1396.6h0M401.4 1542.9h0M249.6 1802.1h0M965.9 1794.4h0M691.8 1646.4h0M188.2 1636h0M936.2 1783.1h0M997.5 1716.4h0M421.9 1693.6h0M856.5 1394.9h0M253.9 1796.9h0M547.1 1672h0M859.8 1511.1h0M522.8 1563.1h0M612.6 1588.7h0M282.4 1544.1h0M856.7 1524.1h0M596.2 1649.7h0M390.6 1552.6h0M826 1456.3h0M992.9 1832.2h0M629.6 1710.5h0M793.4 1653.2h0M1004 1664.1h0M210.8 1887.1h0M679.6 1578.3h0M983.1 1885.4h0M282.7 1558.5h0M369.8 1640.4h0M639.4 1660.3h0M781.2 1608.7h0M641.5 1541.7h0M637.3 1523.5h0M228.5 1909.6h0M795.1 1602.5h0M450.3 1569.7h0M246.9 1713.1h0M975.8 1914.2h0M729.6 1695.5h0M561.6 1556.6h0M789.7 1628h0M579.8 1492.3h0M288.8 1592.2h0M684.2 1567h0M801.5 1655.2h0M799.2 1578.7h0M640.5 1501.2h0M951.1 1846.1h0M965.3 1947.2h0M906.9 1526.5h0M492.2 1616.7h0M406.6 1605.5h0M622.6 1646.4h0M725.2 1530.4h0M318.3 1555.5h0M647 1628.6h0M547.7 1592h0M187.4 1624.1h0M531.1 1759.3h0M515.5 1556.4h0M979.8 1922.6h0M230.9 1839.1h0M951.1 1857.2h0M934.5 1757.3h0M680.2 1646.5h0M340.3 1579.1h0M838 1517.5h0M319.1 1483.1h0M450.2 1535.4h0M735.1 1565.4h0M536.4 1644.6h0M565.8 1506.1h0M435.8 1451.5h0M216.7 1784.1h0M483.3 1610.7h0M867.1 1565.8h0M870.1 1487.6h0M252.8 1901.8h0M641.7 1533.9h0M477.5 1626.9h0M514.7 1634.9h0M1000 1681h0M852.8 1596.3h0M603.8 1723.7h0M604.2 1626.5h0M941.6 1696h0M495.1 1657.3h0M830.3 1479.7h0M787.2 1749.4h0M793.6 1611.6h0M561.5 1555.6h0M750.7 1480.1h0M875.9 1630.1h0M429.7 1622.7h0M814.8 1643.6h0M583.2 1571.3h0M626.3 1635.2h0M569 1586.4h0M494.9 1650.6h0M805.9 1632.7h0M508.9 1562.7h0M335.4 1385.1h0M835.1 1519.4h0M515.3 1583.3h0M663.2 1627.4h0M995.4 1623.9h0M719.6 1744.2h0M618.1 1742.7h0M419.9 1675.6h0M770.2 1585.3h0M977.4 1774h0M769.6 1575.8h0M820.4 1509.3h0M448.2 1600.2h0M444.2 1649.1h0M480.7 1677h0M580.5 1560.8h0M922.1 1747.3h0M570.3 1562.8h0M331.4 1439.3h0M625.3 1640.1h0M400 1637.8h0M710 1637.2h0M465.1 1553.5h0M970.1 1846.9h0M546 1643.2h0M666.1 1572.8h0M667.7 1480.5h0M527 1571.6h0M991.8 1760.6h0M221.4 1881.6h0M798.8 1670.4h0M403.8 1608h0M236.1 1848.1h0M333.9 1518.5h0M804.7 1505.2h0M934.8 1768h0M824.9 1567.9h0M420.7 1603.2h0M595.2 1554.6h0M283.6 1754.9h0M531.8 1573.1h0M398.5 1509.5h0M212.1 1901h0M425.9 1589h0M951 1865.9h0M623.3 1667.4h0M411.7 1594.3h0M279.9 1649.6h0M925.8 1852.6h0M261.4 1793.1h0M217.6 1780.6h0M278.4 1694.2h0M806.2 1645.8h0M955.7 1870.5h0M264.8 1762.6h0M711.6 1541.2h0M723.3 1663.5h0M619.7 1680.2h0M189.2 1597.9h0M756.5 1541.7h0M540.4 1540.7h0M953.7 1774.9h0M1007.6 1668.8h0M710.5 1704.8h0M281.6 1684.4h0M447.5 1613.6h0M704.9 1719.8h0M903.9 1600.8h0M533.1 1548.9h0M483.4 1647.3h0M685.9 1444.7h0M890.6 1472h0M346.8 1598.1h0M676.6 1675.1h0M693.6 1644.4h0M577.5 1540.8h0M482.7 1561.8h0M967.4 1900.1h0M858.7 1484.1h0M314.1 1447.4h0M186.7 1562.3h0M398.7 1720.6h0M534.4 1672.1h0M319.6 1565.9h0M464.4 1731.4h0M746.8 1547.4h0M795.2 1651.8h0M860.3 1543.9h0M856.9 1560.2h0M452 1587.3h0M625 1551.2h0M794 1555.6h0M690.5 1500.3h0M663.8 1660.5h0M855.3 1379.8h0M964.9 1674.7h0M925.7 1735.8h0M408.6 1637.7h0M284.8 1569.9h0M423.7 1525.1h0M846 1532.8h0M446.6 1671.5h0M798.6 1446.1h0M674.1 1628.2h0M1004.3 1657.9h0M284 1578.8h0M868.6 1419h0M224.2 1728.4h0M713 1464.2h0M629.3 1559.2h0M387.7 1627.2h0M402.5 1678.2h0M504.9 1699h0M584.8 1465.3h0M316 1534.8h0M549 1716.5h0M258.9 1915h0M597.4 1582.9h0M630.8 1624.2h0M505.3 1567.6h0M592.3 1656.1h0M654.9 1646.1h0M615.6 1557.4h0M334.7 1509.1h0M367.1 1503.1h0M405 1617h0M1009.6 1618.6h0M599.3 1565.4h0M768.8 1640.6h0M353.1 1504.7h0M614.7 1559.1h0M546.6 1629.7h0M352.8 1526.2h0M366.8 1537.8h0M384.3 1530h0M794.6 1586.6h0M799.1 1580.7h0M900.7 1528.9h0M463.4 1626.6h0M613.5 1565.9h0M784.6 1667h0M648.3 1727.4h0M895 1510.9h0M203.9 1911.9h0M759.7 1626.6h0M294 1455h0M611.2 1538.9h0M509.4 1666.7h0M558.7 1537.6h0M818.6 1549.6h0M260.7 1814.5h0M226.4 1864.6h0M958.8 1889h0M586.7 1615.8h0M524.7 1566.2h0M311.5 1626.4h0M600.5 1529.8h0M735 1455.3h0M923 1692.1h0M507.9 1663.2h0M292.5 1605.9h0M809.7 1492.3h0M437.1 1652h0M774.6 1580.4h0M846.1 1342.7h0M979.6 1888.7h0M326.8 1484.8h0M402.5 1647.2h0M505.6 1618h0M860.3 1485.4h0M545 1646.3h0M544.1 1557.1h0M877.1 1484.6h0M284.5 1528h0M275.6 1613.2h0M261.3 1719.2h0M606.2 1480h0M359.6 1543.9h0M481.9 1547.7h0M592.6 1638.9h0M622.2 1484.6h0M508.8 1643h0M299.9 1471h0M859.9 1546.1h0M899.5 1539.5h0M651.3 1667.5h0M423.6 1669.9h0M1009.5 1664.6h0M284.4 1579.8h0M912.4 1577.1h0M702.9 1532.4h0M399.4 1567.8h0M673 1601.1h0M641.4 1537.3h0M194.1 1559.7h0M569.6 1614.4h0M824.7 1604h0M709.6 1546.1h0M293 1415.4h0M360.3 1531.2h0M758.8 1631.7h0M208.5 1864.4h0M755.2 1659.7h0M626 1654.5h0M502.8 1655.2h0M532.3 1504.8h0M580.3 1490.2h0M268.1 1693.8h0M950.1 1807.1h0M532.9 1521.5h0M732.4 1592.8h0M271.7 1670.5h0M910.3 1555.4h0M759.9 1608.5h0M395.3 1491.8h0M930.5 1685.1h0M909.5 1595.2h0M566.7 1561.3h0M415.6 1665.6h0M866.3 1515.5h0M189.7 1617.5h0M970.1 1815.1h0M979.5 1839.5h0M253.1 1870h0M963 1816.5h0M419.8 1644.5h0M855.6 1458.2h0M898.4 1559.9h0M332.8 1492.2h0M467.9 1596.5h0M974.4 1997.2h0M832.2 1436.6h0M764.6 1672.9h0M379.1 1533.1h0M789.5 1557.1h0M218.4 1873.5h0M403.6 1696.5h0M391.4 1538.1h0M233.1 1916h0M572.3 1587.9h0M213.5 1779.1h0M997.3 1749.4h0M587.8 1709.7h0M822.8 1599.1h0M622.3 1545.5h0M287.5 1650.6h0M558.1 1517.5h0M192.2 1766h0M433.1 1678.3h0M709.4 1716h0M334.5 1556.6h0M941.6 1665h0M709 1544.4h0M207 1800.4h0M539.7 1631.1h0M924.2 1596h0M397 1602.2h0M284.5 1683.3h0M413.8 1492.7h0M585.4 1684.6h0M510.5 1571.4h0M386.6 1531h0M569.4 1515.6h0M585.2 1441h0M761.7 1548.3h0M1008 1662h0M708.4 1504.1h0M250.6 1776.8h0M310.7 1599.3h0M433.2 1691.8h0M961.1 1909.9h0M238.8 2002.7h0M722.2 1563.2h0M519.7 1545.5h0M388.2 1547.1h0M715.1 1654.6h0M809.8 1584.4h0M821 1471h0M364.5 1509.9h0M344.5 1512.1h0M343.4 1555.2h0M369.4 1551.6h0M363.6 1441.5h0M616.8 1588.2h0M446.6 1438.3h0M696.4 1409h0M986.6 1747.1h0M838.4 1645.4h0M260 1772.5h0M964.6 1760h0M505.4 1630.5h0M331.9 1542.1h0M387.8 1582.1h0M231.9 1843.8h0M418.7 1648.6h0M572.7 1735.5h0M273.1 1656.6h0M982.5 1792.1h0M537.6 1534h0M629.2 1585h0M447.6 1583.5h0M931.5 1763.6h0M891.4 1456h0M583.6 1592.6h0M186.8 1562h0M728.8 1655.1h0M462.1 1498.6h0M300.3 1523.7h0M568.2 1622.8h0M786.7 1606.1h0M730.5 1683.1h0M266.9 1759.6h0M938.7 1707.3h0M582.7 1545.8h0M933.3 1676.9h0M531.8 1536.7h0M933.5 1760.9h0M880.7 1494.6h0M216.6 1694h0M917.1 1653.1h0M746.9 1723.6h0M664.9 1591.2h0M188.2 1648h0M706.7 1601.2h0M715.4 1594.8h0M899 1633.4h0M509.8 1559.8h0M237.7 1861.2h0M792.9 1562.7h0M488.8 1646.8h0M456.2 1682h0M740 1640.6h0M219 1722.4h0M211.7 1951.8h0M989.4 1705.8h0M903.5 1582.1h0M845.3 1430.3h0M583.9 1624.2h0M506.2 1564.8h0M337.6 1471.9h0M212.5 1663.5h0M841 1533.7h0M395.6 1582.8h0M803.8 1653h0M234.9 1834.4h0M387.8 1644.8h0M539.3 1603.4h0M496.5 1567.2h0M356.5 1486.2h0M825.9 1623.6h0M244.4 1898.6h0M689.8 1507.5h0M649.7 1634.4h0M616.1 1582.4h0M335.6 1519.3h0M721.2 1719.2h0M777.5 1626.6h0M653.1 1604h0M664.7 1462.6h0M635.3 1737.2h0M543.7 1634.4h0M661.5 1548.6h0M611.2 1635.7h0M421.4 1779.8h0M883.8 1466.8h0M467.6 1592.3h0M268.6 1772.8h0M702 1670.2h0M891.8 1585h0M278.8 1636.2h0M209.7 1821.5h0M449.2 1663h0M409.9 1589.8h0M313.9 1432.5h0M415 1662.9h0M535.7 1479.2h0M369 1552h0M623.9 1552.2h0M522.6 1564h0M511.3 1558.3h0M277.1 1643.9h0M808.5 1758.2h0M696.9 1667.4h0M644.1 1531.9h0M442.8 1695.8h0M1008.1 1612h0M789.6 1730.2h0M871.5 1545.1h0M646.4 1483.8h0M695.3 1579.5h0M755.5 1684.2h0M418 1668.8h0M396.3 1730.6h0M818.2 1540.7h0M445.7 1636.9h0M209 1753.2h0M566.2 1541.1h0M895.7 1573.7h0M534.5 1670.1h0M650 1689.7h0M928.7 1752.5h0M310.5 1520.8h0M337.9 1403.4h0M200.8 1821.6h0M479 1572.6h0M292.3 1663.7h0M658.4 1643.8h0M460.4 1557.2h0M260.1 1726.9h0M785.3 1661.3h0M809.4 1642.1h0M934.7 1676.6h0M478.5 1620.4h0M634.3 1625.1h0M712.4 1683.7h0M907.7 1420.2h0M964.4 1730.2h0M461.6 1575h0M364.2 1383.9h0M413.6 1585.4h0M402 1638h0M824.2 1522.9h0M698.6 1493.6h0M284.7 1703.8h0M701.8 1506.6h0M731.3 1520h0M592.2 1485.9h0M792.6 1574.6h0M244.7 1749.1h0M754.1 1745.4h0M233.1 1863.4h0M890.9 1454.4h0M626.1 1554.2h0M879.8 1484.8h0M306.4 1618.8h0M350.8 1528.7h0M874.2 1626.2h0M259.8 1777h0M450.8 1586.7h0M829.9 1584.5h0M890.5 1492.5h0M301.3 1541.2h0M239.6 1778.9h0M704 1620.7h0M366.8 1666.3h0M429.3 1711.5h0M230 1915.9h0M477.8 1598.5h0M855.8 1492.6h0M660.9 1647.2h0M210.6 1801.4h0M247.4 1866.9h0M920.3 1617.3h0M706.7 1693h0M331 1406.1h0M695.6 1570.4h0M842.4 1547.7h0M866.4 1571.7h0M719.4 1555.2h0M302.4 1579.2h0M885.9 1463.9h0M739.6 1467.8h0M865.3 1476.8h0M576.7 1571h0M901.5 1522.8h0M847.3 1545.4h0M458.3 1456.5h0M312.7 1518.6h0M697.5 1533.9h0M355.7 1490.6h0M470 1635.8h0M373.2 1448.9h0M508.5 1553.9h0M476.7 1636.3h0M763.4 1653.7h0M686.6 1723h0M326.6 1561h0M724.1 1525.7h0M806.8 1513.3h0M558.7 1648.8h0M214.6 1769.4h0M840.1 1437.7h0M780.9 1543.3h0M238.5 1740h0M413.6 1741.1h0M812.6 1549.9h0M708.5 1651.3h0M304.7 1465h0M467.2 1643.1h0M222.4 1831.1h0M921.2 1591.6h0M831.4 1644.6h0M390.7 1626.2h0M530.6 1630.6h0M799.5 1589.3h0M623.3 1697.6h0M268.1 1640.1h0M830.2 1389.6h0M775.3 1626.6h0M202.6 1708.3h0M892.8 1520.5h0M578.7 1673.3h0M667.1 1533.9h0M745.5 1580.4h0M917.7 1593.2h0M596.6 1486.7h0M393.4 1580.9h0M519.7 1602.7h0M905.6 1614.4h0M706.5 1580.4h0M636 1744.5h0M639.1 1477.2h0M588.8 1749.5h0M954.7 1953.1h0M968.4 1849.2h0M467.2 1528.6h0M189.8 1591.3h0M318.6 1384.7h0M394.5 1626.2h0M525.5 1636.6h0M743.9 1565.8h0M734.9 1686.3h0M579.7 1575.2h0M948.1 1775.7h0M273.5 1654.3h0M525.6 1741.1h0M852.7 1518.7h0M746.3 1761.3h0M634 1527.6h0M757 1646.2h0M191.9 1583.6h0M771 1517.7h0M609.9 1692.4h0M885.1 1443.8h0M331.4 1462.7h0M514.1 1478.9h0M987.9 1888.6h0M444.4 1706.7h0M749.6 1669.5h0M943.5 1931.8h0M631.3 1582.4h0M608.9 1645.9h0M613.1 1577.6h0M394.3 1570.1h0M609 1529.9h0M777.2 1714.1h0M595.9 1538h0M452.5 1554.8h0M512.1 1665.1h0M261.9 1791.5h0M189.2 1738.2h0M952.2 1740.7h0M497.3 1493.1h0M782.4 1677.7h0M735.5 1613.9h0M410.8 1583.1h0M437.9 1563.8h0M720.4 1604.8h0M594.4 1470.9h0M724.8 1671.1h0M661.1 1528.7h0M573.9 1586.9h0M706.4 1573.4h0M558 1648.4h0M236.2 1981.4h0M621.7 1632.5h0M967 1824.3h0M797.7 1664.3h0M405.9 1735.9h0M603.5 1606.6h0M270.1 1700.5h0M742.5 1684.3h0M497 1602.4h0M669.2 1561.7h0M987 1786.4h0M687.9 1524.3h0M845.5 1427h0M189.6 1637.4h0M447.7 1672.5h0M664.8 1722.3h0M341.7 1427.6h0M637.2 1568.2h0M467.5 1528.2h0M572.2 1655.1h0M255.9 1770h0M776.8 1677.7h0M398.2 1669.3h0M458.1 1716h0M319.5 1516.6h0M392.2 1559.1h0M306.9 1466.4h0M1002.9 1654.3h0M853 1525h0M805.6 1442.3h0M256.4 1662.1h0M394 1521.5h0M943.2 1784h0M922.7 1586.3h0M332.4 1551.5h0M674.3 1687.3h0M739.3 1561.9h0M528.2 1580.1h0M458.4 1529.7h0M396.4 1658.7h0M771.7 1596.4h0M453.5 1687.4h0M780.1 1641.8h0M205.4 1744.3h0M626.4 1599.1h0M913.7 1699h0M289.9 1697.9h0M188.7 1653.3h0M785 1682.4h0M342.5 1610.5h0M650.8 1587h0M191.9 1727.9h0M593.6 1499.5h0M526.6 1438.3h0M200.5 1658.1h0M427 1631.3h0M560.2 1684.5h0M611.4 1721.8h0M449.3 1622.3h0M726.1 1733.1h0M803.2 1584.5h0M273.9 1611h0M938.2 1710.9h0M480.8 1525.1h0M684.2 1607.5h0M943.1 1799.3h0M752.5 1595.8h0M537.1 1596.9h0M808.7 1517.3h0M455.6 1638.8h0M209.4 1807h0M741.5 1660.8h0M507 1520.8h0M886.5 1507.9h0M210.7 1801.5h0M777.8 1652.9h0M555.9 1725.6h0M215.2 1866.3h0M518.7 1753.5h0M852 1510.1h0M916.3 1735.1h0M710.1 1501.6h0M771 1665.8h0M915.1 1642.3h0M958.6 1887.6h0M609.4 1679.4h0M213.5 1940.1h0M725.4 1583.2h0M225.5 1906.9h0M240 1996.3h0M600.4 1511.4h0M687.7 1689.6h0M264.2 1779.3h0M718.7 1602h0M796.5 1616.3h0M946.6 1724.9h0M555.9 1599.7h0M981.9 1865.1h0M355.5 1533.9h0M655.9 1479.8h0M379.9 1516.6h0M486.4 1742.4h0M393.3 1611.1h0M1000.7 1762.3h0M968.2 1858.7h0M657.7 1546.8h0M249 1812.3h0M364.5 1497.9h0M323.5 1371.2h0M427.9 1748h0M552 1597.1h0M507.6 1588.7h0M554.9 1560.4h0M846.9 1505.6h0M537.1 1524.4h0M614.3 1595.4h0M580.9 1561.5h0M396.6 1715.4h0M673.5 1577.6h0M325.7 1584.3h0M274.9 1627.6h0M662 1461.3h0M759.1 1620.1h0M273.2 1647.7h0M597.9 1537.8h0M283.4 1519.6h0M466.3 1543.9h0M726.4 1508.9h0M734.5 1643.3h0M532.5 1596.1h0M870 1600.7h0M891.6 1364.9h0M355.2 1608.8h0M959.3 1781.2h0M385.8 1569.5h0M939.9 1766.7h0M680.4 1676.5h0M962.8 1857.2h0M461.1 1596.8h0M878.5 1468.5h0M466.8 1625.4h0M760.4 1595.8h0M799.1 1668.8h0M866.7 1401.2h0M703.4 1639.6h0M544.8 1566.9h0M186.4 1618h0M780.6 1660.2h0M659 1575.3h0M277.2 1663.7h0M759.3 1531.3h0M500.3 1498h0M727.3 1644h0M558.4 1638.3h0M843.2 1569.3h0M784.7 1573.1h0M914.8 1556.2h0M913.5 1572.7h0M186.6 1605.9h0M690.7 1583.6h0M995.1 1688.9h0M204.5 1672.9h0M812.2 1576.8h0M413.6 1520.9h0M646.7 1611.4h0M252 1777.1h0M721.2 1509.1h0M888.8 1580.1h0M802.2 1717.6h0M770.3 1693.5h0M918.3 1658.5h0M652.4 1663.3h0M366.4 1549.2h0M620.8 1486h0M860.9 1516.1h0M442.8 1509.8h0M527.1 1521.8h0M858.9 1570h0M232.9 1779.6h0M229 1789.3h0M469.9 1523.1h0M885.1 1492.2h0M281.5 1607h0M638.2 1628.7h0M740.8 1667.7h0M228.9 1857h0M881.5 1447.3h0M833.3 1576.1h0M207.4 1664.2h0M570.2 1619.5h0M530.6 1560.8h0M799.1 1692.4h0M208.2 1673.4h0M470 1539.5h0M226.9 1753.9h0M608.4 1674.4h0M244.9 1712.2h0M847.7 1466.3h0M454.3 1644.9h0M187.8 1634.5h0M430.4 1718.7h0M626.5 1596.5h0M356.4 1448.6h0M299.5 1600.9h0M823.8 1519.1h0M654.4 1671.6h0M212.2 1865.3h0M754.2 1617.8h0M253.2 1672.9h0M839.3 1426.9h0M866.9 1534h0M413.9 1511.5h0M193.3 1586.7h0M629.9 1556.7h0M647.1 1610.9h0M452.9 1528.1h0M508.4 1591.1h0M207.3 1812.7h0M967.5 1773.6h0M265.3 1771.1h0M557.7 1535.8h0M393.6 1478.6h0M693.4 1636.9h0M370.9 1535.9h0M231.5 1812.5h0M603.4 1718.8h0M391.5 1624.3h0M724.9 1637.1h0M425.4 1652.9h0M924.4 1750h0M659.2 1492.3h0M596.2 1657h0M578.3 1597.7h0M655.8 1544.7h0M634.7 1473.5h0M618.3 1709.4h0M342.3 1596.4h0M822.2 1636.8h0M500.5 1612.6h0M380.9 1502.7h0M687.9 1599.4h0M710.1 1581.8h0M484.8 1479h0M767.4 1638.4h0M349.9 1497.7h0M218.9 1694.4h0M362.1 1475.1h0M808 1629.3h0M283.4 1667.6h0M720.1 1512.1h0M651.8 1674.1h0M664.5 1654.3h0M455.9 1544.4h0M523.6 1488.1h0M863.8 1365.3h0M510 1660.8h0M233.3 1813.8h0M565.7 1547h0M238.8 1905.5h0M308.3 1518.1h0M376.1 1444h0M601.2 1534.9h0M631.1 1656.9h0M521.1 1679.7h0M220.5 1760.3h0M288.9 1599.4h0M667.9 1646.3h0M192.8 1607.6h0M819.2 1509.5h0M674.6 1637.4h0M641.1 1619.2h0M925.9 1526.5h0M288.9 1660.6h0M683.8 1509.1h0M523.1 1637.3h0M817.7 1627h0M682.4 1662.8h0M650.3 1594.8h0M527.9 1586.5h0M914.7 1571.7h0M646.1 1641.4h0M365.7 1506.9h0M267.4 1749.6h0M967.7 1906.8h0M936.2 1703.6h0M734.3 1564.9h0M830.1 1651.5h0M979.2 1820h0M789.8 1740h0M446.6 1686.1h0M801.2 1470.9h0M693.2 1488.6h0M355.1 1531.8h0M650.8 1542.8h0M975.2 1750.2h0M973.2 1720.3h0M484.1 1463.5h0M947.4 1866.4h0M378 1569.1h0M471.2 1589.1h0M350 1691.1h0M469.1 1655h0M963.8 1825.3h0M337.4 1510.7h0M355.8 1566.9h0M448.1 1697.1h0M893.7 1578.7h0M427.6 1617.4h0M490.9 1616h0M581.2 1506.6h0M857.3 1435.7h0M480.6 1691.6h0M781.2 1543.4h0M852.8 1499.4h0M195.8 1639.7h0M907.6 1643.7h0M436.7 1547.2h0M605.5 1645.1h0M201.4 1670.3h0M940.1 1779.1h0M254.5 1803.6h0M959.6 1948.6h0M606 1712h0M774.5 1550.8h0M736.4 1688.1h0M208.1 1881.7h0M745.2 1579.2h0M365.6 1540.8h0M256.5 1730.7h0M940.8 1878.4h0M378.2 1726.5h0M900.2 1628.3h0M374 1485.3h0M352.9 1285.8h0M885.4 1291.2h0M885.4 1333.6h0M885.4 1371.3h0M898.8 1383.2h0M215.9 2014.8h0M976 2013h0M945.1 1993.3h0M976 1975.9h0M778.2 1849.3h0M479.6 1826h0M408.5 1807.4h0M546.5 1812.8h0M725.7 1806.8h0M749.4 1808.6h0M322 1376.7h0M304.4 1397.6h0M319.9 1406.5h0" fill="none" stroke="#6b7b8d" stroke-width="8.0" stroke-linecap="round" shape-rendering="crispEdges"/>
<polyline points="186,1591.8 188.1,1615.4 190.1,1638.3 192.2,1660.2 194.2,1681.3 196.3,1701.3 198.4,1720.2 200.4,1738.1 202.5,1754.7 204.5,1770.2 206.6,1784.5 208.7,1797.5 210.7,1809.2 212.8,1819.6 214.8,1828.7 216.9,1836.6 219,1843.2 221,1848.5 223.1,1852.5 225.1,1855.3 227.2,1856.9 229.3,1857.3 231.3,1856.6 233.4,1854.7 235.4,1851.8 237.5,1847.9 239.6,1843.1 241.6,1837.3 243.7,1830.7 245.7,1823.3 247.8,1815.1 249.9,1806.3 251.9,1796.8 254,1786.8 256,1776.4 258.1,1765.5 260.2,1754.2 262.2,1742.7 264.3,1730.9 266.3,1718.9 268.4,1706.8 270.5,1694.7 272.5,1682.6 274.6,1670.5 276.6,1658.6 278.7,1646.8 280.8,1635.2 282.8,1623.8 284.9,1612.8 286.9,1602.1 289,1591.8 291.1,1581.8 293.1,1572.3 295.2,1563.3 297.2,1554.8 299.3,1546.7 301.4,1539.2 303.4,1532.2 305.5,1525.8 307.5,1520 309.6,1514.7 311.7,1509.9 313.7,1505.8 315.8,1502.2 317.8,1499.1 319.9,1496.6 322,1494.6 324,1493.2 326.1,1492.3 328.1,1491.8 330.2,1491.9 332.3,1492.4 334.3,1493.3 336.4,1494.6 338.4,1496.3 340.5,1498.4 342.6,1500.8 344.6,1503.5 346.7,1506.5 348.7,1509.7 350.8,1513.2 352.9,1516.9 354.9,1520.7 357,1524.7 359,1528.8 361.1,1532.9 363.2,1537.2 365.2,1541.5 367.3,1545.8 369.3,1550.1 371.4,1554.4 373.5,1558.6 375.5,1562.7 377.6,1566.8 379.6,1570.8 381.7,1574.7 383.8,1578.4 385.8,1582 387.9,1585.4 389.9,1588.7 392,1591.8 394.1,1594.7 396.1,1597.4 398.2,1599.9 400.2,1602.3 402.3,1604.4 404.4,1606.4 406.4,1608.1 408.5,1609.7 410.5,1611.1 412.6,1612.2 414.7,1613.2 416.7,1614 418.8,1614.7 420.8,1615.2 422.9,1615.5 425,1615.7 427,1615.7 429.1,1615.6 431.1,1615.4 433.2,1615 435.3,1614.6 437.3,1614 439.4,1613.4 441.4,1612.7 443.5,1611.9 445.6,1611.1 447.6,1610.2 449.7,1609.3 451.7,1608.3 453.8,1607.3 455.9,1606.4 457.9,1605.3 460,1604.3 462,1603.4 464.1,1602.4 466.2,1601.4 468.2,1600.5 470.3,1599.5 472.3,1598.7 474.4,1597.8 476.5,1597 478.5,1596.2 480.6,1595.5 482.6,1594.8 484.7,1594.2 486.8,1593.6 488.8,1593.1 490.9,1592.6 492.9,1592.1 495,1591.8 497.1,1591.4 499.1,1591.1 501.2,1590.8 503.2,1590.6 505.3,1590.4 507.4,1590.3 509.4,1590.1 511.5,1590 513.5,1590 515.6,1590 517.7,1589.9 519.7,1590 521.8,1590 523.8,1590 525.9,1590.1 528,1590.2 530,1590.2 532.1,1590.3 534.1,1590.4 536.2,1590.5 538.3,1590.6 540.3,1590.7 542.4,1590.8 544.4,1590.9 546.5,1591 548.6,1591.1 550.6,1591.2 552.7,1591.3 554.7,1591.3 556.8,1591.4 558.9,1591.4 560.9,1591.5 563,1591.5 565,1591.6 567.1,1591.6 569.2,1591.6 571.2,1591.7 573.3,1591.7 575.3,1591.7 577.4,1591.7 579.5,1591.7 581.5,1591.7 583.6,1591.7 585.6,1591.7 587.7,1591.7 589.8,1591.7 591.8,1591.7 593.9,1591.7 595.9,1591.7 598,1591.8 600.1,1591.7 602.1,1591.7 604.2,1591.7 606.2,1591.7 608.3,1591.7 610.4,1591.7 612.4,1591.7 614.5,1591.7 616.5,1591.7 618.6,1591.7 620.7,1591.7 622.7,1591.7 624.8,1591.7 626.8,1591.6 628.9,1591.6 631,1591.6 633,1591.5 635.1,1591.5 637.1,1591.4 639.2,1591.4 641.3,1591.3 643.3,1591.3 645.4,1591.2 647.4,1591.1 649.5,1591 651.6,1590.9 653.6,1590.8 655.7,1590.7 657.7,1590.6 659.8,1590.5 661.9,1590.4 663.9,1590.3 666,1590.2 668,1590.2 670.1,1590.1 672.2,1590 674.2,1590 676.3,1590 678.3,1589.9 680.4,1590 682.5,1590 684.5,1590 686.6,1590.1 688.6,1590.3 690.7,1590.4 692.8,1590.6 694.8,1590.8 696.9,1591.1 698.9,1591.4 701,1591.8 703.1,1592.1 705.1,1592.6 707.2,1593.1 709.2,1593.6 711.3,1594.2 713.4,1594.8 715.4,1595.5 717.5,1596.2 719.5,1597 721.6,1597.8 723.7,1598.7 725.7,1599.5 727.8,1600.5 729.8,1601.4 731.9,1602.4 734,1603.4 736,1604.3 738.1,1605.3 740.1,1606.4 742.2,1607.3 744.3,1608.3 746.3,1609.3 748.4,1610.2 750.4,1611.1 752.5,1611.9 754.6,1612.7 756.6,1613.4 758.7,1614 760.7,1614.6 762.8,1615 764.9,1615.4 766.9,1615.6 769,1615.7 771,1615.7 773.1,1615.5 775.2,1615.2 777.2,1614.7 779.3,1614 781.3,1613.2 783.4,1612.2 785.5,1611.1 787.5,1609.7 789.6,1608.1 791.6,1606.4 793.7,1604.4 795.8,1602.3 797.8,1599.9 799.9,1597.4 801.9,1594.7 804,1591.8 806.1,1588.7 808.1,1585.4 810.2,1582 812.2,1578.4 814.3,1574.7 816.4,1570.8 818.4,1566.8 820.5,1562.7 822.5,1558.6 824.6,1554.4 826.7,1550.1 828.7,1545.8 830.8,1541.5 832.8,1537.2 834.9,1532.9 837,1528.8 839,1524.7 841.1,1520.7 843.1,1516.9 845.2,1513.2 847.3,1509.7 849.3,1506.5 851.4,1503.5 853.4,1500.8 855.5,1498.4 857.6,1496.3 859.6,1494.6 861.7,1493.3 863.7,1492.4 865.8,1491.9 867.9,1491.8 869.9,1492.3 872,1493.2 874,1494.6 876.1,1496.6 878.2,1499.1 880.2,1502.2 882.3,1505.8 884.3,1509.9 886.4,1514.7 888.5,1520 890.5,1525.8 892.6,1532.2 894.6,1539.2 896.7,1546.7 898.8,1554.8 900.8,1563.3 902.9,1572.3 904.9,1581.8 907,1591.8 909.1,1602.1 911.1,1612.8 913.2,1623.8 915.2,1635.2 917.3,1646.8 919.4,1658.6 921.4,1670.5 923.5,1682.6 925.5,1694.7 927.6,1706.8 929.7,1718.9 931.7,1730.9 933.8,1742.7 935.8,1754.2 937.9,1765.5 940,1776.4 942,1786.8 944.1,1796.8 946.1,1806.3 948.2,1815.1 950.3,1823.3 952.3,1830.7 954.4,1837.3 956.4,1843.1 958.5,1847.9 960.6,1851.8 962.6,1854.7 964.7,1856.6 966.7,1857.3 968.8,1856.9 970.9,1855.3 972.9,1852.5 975,1848.5 977,1843.2 979.1,1836.6 981.2,1828.7 983.2,1819.6 985.3,1809.2 987.3,1797.5 989.4,1784.5 991.5,1770.2 993.5,1754.7 995.6,1738.1 997.6,1720.2 999.7,1701.3 1001.8,1681.3 1003.8,1660.2 1005.9,1638.3 1007.9,1615.4 1010,1591.8" fill="none" stroke="#231f20" stroke-width="8.2" stroke-linejoin="round" shape-rendering="crispEdges"/>
<polyline points="187.3,1585.2 213.8,1848.7 231.3,1887.5 317.8,1460.3 377.1,1582.8 788.5,1609.7 879.2,1466.3 965.7,1860.6 1004.9,1702.3 1010,1523" fill="none" stroke="#ed1c24" stroke-width="8.3" stroke-linejoin="round" shape-rendering="crispEdges"/>
<g fill="none" stroke="#ed1c24" stroke-width="9.8" shape-rendering="crispEdges"><circle cx="187.3" cy="1585.2" r="6.7"/><circle cx="213.8" cy="1848.7" r="6.7"/><circle cx="231.3" cy="1887.5" r="6.7"/><circle cx="317.8" cy="1460.3" r="6.7"/><circle cx="377.1" cy="1582.8" r="6.7"/><circle cx="788.5" cy="1609.7" r="6.7"/><circle cx="879.2" cy="1466.3" r="6.7"/><circle cx="965.7" cy="1860.6" r="6.7"/><circle cx="1004.9" cy="1702.3" r="6.7"/><circle cx="1010" cy="1523" r="6.7"/></g>
<path d="M187 2129.0v-17.5M214 2129.0v-17.5M231 2129.0v-17.5M318 2129.0v-17.5M377 2129.0v-17.5M788 2129.0v-17.5M879 2129.0v-17.5M965 2129.0v-17.5M1005 2129.0v-17.5M1010 2129.0v-17.5" fill="none" stroke="#ff0000" stroke-width="2"/>
<text transform="translate(185.00,2203.20) scale(0.965,1)" font-size="59.8" text-anchor="middle" fill="#4a4b4d">-4</text>
<text transform="translate(391.00,2203.20) scale(0.965,1)" font-size="59.8" text-anchor="middle" fill="#4a4b4d">-2</text>
<text transform="translate(597.00,2203.20) scale(0.965,1)" font-size="59.8" text-anchor="middle" fill="#4a4b4d">0</text>
<text transform="translate(803.00,2203.20) scale(0.965,1)" font-size="59.8" text-anchor="middle" fill="#4a4b4d">2</text>
<text transform="translate(1009.00,2203.20) scale(0.965,1)" font-size="59.8" text-anchor="middle" fill="#4a4b4d">4</text>
<text transform="translate(165.50,1312.40) scale(0.985,1)" font-size="59.8" text-anchor="end" fill="#4a4b4d">60</text>
<text transform="translate(165.50,1431.90) scale(0.985,1)" font-size="59.8" text-anchor="end" fill="#4a4b4d">40</text>
<text transform="translate(165.50,1551.40) scale(0.985,1)" font-size="59.8" text-anchor="end" fill="#4a4b4d">20</text>
<text transform="translate(165.50,1670.90) scale(0.985,1)" font-size="59.8" text-anchor="end" fill="#4a4b4d">0</text>
<text transform="translate(165.50,1790.40) scale(0.985,1)" font-size="59.8" text-anchor="end" fill="#4a4b4d">-20</text>
<text transform="translate(165.50,1909.90) scale(0.985,1)" font-size="59.8" text-anchor="end" fill="#4a4b4d">-40</text>
<text transform="translate(165.50,2029.40) scale(0.985,1)" font-size="59.8" text-anchor="end" fill="#4a4b4d">-60</text>
<text transform="translate(597.00,2276.00) scale(1.1,1)" font-size="60.5" text-anchor="middle" fill="#4a4b4d">x</text>
<text transform="translate(52.7,1706.5) rotate(-90) scale(1.10,1)" font-size="60.5" text-anchor="middle" fill="#4a4b4d">y</text>
<text transform="translate(391.93,1248.30) scale(1.1991,1)" font-size="65" font-weight="bold" fill="#231f20">PR4</text>
<text transform="translate(535.46,1248.30) scale(1.1237,1)" font-size="65" fill="#231f20">:</text>
<text transform="translate(587.75,1248.30) scale(1.0897,1)" font-size="65" font-style="italic" fill="#231f20">N</text>
<text transform="translate(664.32,1254.30) scale(1.4094,1)" font-size="65" fill="#231f20">=</text>
<text transform="translate(738.43,1248.30) scale(1.0256,1)" font-size="65" fill="#231f20">1k</text>
<rect x="337.0" y="1321.0" width="521.0" height="82" fill="#fff" stroke="#3d3f41" stroke-width="2"/>
<path d="M359.3 1361.7h113" fill="none" stroke="#ed1c24" stroke-width="8"/>
<circle cx="415.8" cy="1361.7" r="11" fill="#ed1c24"/>
<text transform="translate(483.34,1374.20) scale(1.0659,1)" font-size="52" fill="#231f20">LHM</text>
<text transform="translate(626.53,1374.20) scale(1.0558,1)" font-size="52" fill="#231f20">(</text>
<text transform="translate(650.77,1374.20) scale(1.0897,1)" font-size="52" font-style="italic" fill="#231f20">K</text>
<text transform="translate(712.39,1379.20) scale(1.3896,1)" font-size="52" fill="#231f20">=</text>
<text transform="translate(771.84,1374.20) scale(1.0549,1)" font-size="52" fill="#231f20">10</text>
<text transform="translate(828.48,1374.20) scale(1.0355,1)" font-size="52" fill="#231f20">)</text>
<rect x="1267.0" y="1285.0" width="824.0" height="843.0" fill="none" stroke="#3d3f41" stroke-width="2"/>
<path d="M1473.0 2128.0v-9M1473.0 1285.0v9M1679.0 2128.0v-9M1679.0 1285.0v9M1885.0 2128.0v-9M1885.0 1285.0v9M1267 1293h9M2091 1293h-9M1267 1413h9M2091 1413h-9M1267 1532h9M2091 1532h-9M1267 1652h9M2091 1652h-9M1267 1771h9M2091 1771h-9M1267 1891h9M2091 1891h-9M1267 2010h9M2091 2010h-9" fill="none" stroke="#3d3f41" stroke-width="2"/>
<path d="M1398 1282.5h5M1397 1283.5h7m4 0h5m532 0h5M1396 1284.5h9m2 0h7m523 0h5m2 0h7M1388 1285.5h7m1 0h9m1 0h9m521 0h16M1387 1286.5h18m1 0h9m520 0h17M1383 1287.5h22m1 0h9m520 0h17M1382 1288.5h22m2 0h9m520 0h17m12 0h5M1378 1289.5h26m3 0h7m521 0h16m12 0h7M1377 1290.5h28m3 0h5m499 0h5m19 0h14m12 0h9M1376 1291.5h29m5 0h5m496 0h7m19 0h10m15 0h9M1376 1292.5h19m1 0h9m4 0h7m1 0h5m488 0h9m20 0h11m4 0h5m3 0h9m8 0h5M1376 1293.5h13m7 0h9m3 0h18m484 0h9m21 0h11m2 0h7m2 0h9m7 0h7M1376 1294.5h12m9 0h7m4 0h19m483 0h9m12 0h5m7 0h18m2 0h7m7 0h9M1377 1295.5h7m12 0h7m5 0h20m482 0h9m11 0h7m6 0h18m3 0h5m8 0h9M1378 1296.5h5m12 0h9m4 0h20m483 0h7m11 0h9m1 0h22m16 0h9M1395 1297.5h9m4 0h20m480 0h9m12 0h32m16 0h9M1395 1298.5h33m479 0h9m13 0h34m15 0h7M1395 1299.5h32m479 0h11m12 0h35m15 0h5M1396 1300.5h32m478 0h11m13 0h24m2 0h9M1397 1301.5h18m4 0h14m473 0h11m14 0h5m1 0h28M1389 1302.5h5m5 0h16m4 0h15m472 0h11m15 0h5m1 0h27M1388 1303.5h7m4 0h15m1 0h20m472 0h9m15 0h7m1 0h26M1387 1304.5h9m3 0h14m1 0h21m473 0h7m15 0h9m3 0h22M1387 1305.5h9m3 0h12m2 0h23m494 0h9m3 0h21M1387 1306.5h24m2 0h9m4 0h10m489 0h14m3 0h19M1387 1307.5h25m1 0h9m5 0h9m476 0h5m7 0h37M1388 1308.5h34m2 0h12m475 0h7m5 0h41M1389 1309.5h46m475 0h9m4 0h42M1390 1310.5h44m476 0h9m4 0h43M1389 1311.5h42m479 0h9m4 0h27m4 0h12M1389 1312.5h42m2 0h7m470 0h9m5 0h29m4 0h9M1389 1313.5h42m1 0h9m470 0h7m7 0h29m2 0h12M1389 1314.5h41m1 0h11m468 0h7m11 0h43M1390 1315.5h28m1 0h10m2 0h11m353 0h5m109 0h9m10 0h44M1391 1316.5h26m3 0h5m6 0h11m352 0h7m108 0h9m7 0h48M1394 1317.5h24m12 0h12m351 0h9m103 0h13m6 0h49M1394 1318.5h24m11 0h12m352 0h9m102 0h14m5 0h14m2 0h34M1380 1319.5h5m9 0h27m7 0h12m353 0h9m98 0h17m6 0h13m3 0h34M1379 1320.5h7m9 0h12m1 0h14m5 0h10m286 0h5m65 0h9m97 0h17m7 0h12m5 0h32M1378 1321.5h9m7 0h29m4 0h10m285 0h7m65 0h7m97 0h14m9 0h15m4 0h31M1378 1322.5h9m6 0h7m4 0h19m4 0h10m59 0h5m143 0h5m72 0h9m65 0h5m98 0h18m4 0h16m5 0h28m5 0h5M1378 1323.5h9m5 0h9m2 0h21m3 0h9m59 0h7m141 0h7m71 0h9m168 0h19m2 0h17m6 0h38M1378 1324.5h23m1 0h33m59 0h9m139 0h9m70 0h9m168 0h20m1 0h17m7 0h38M1379 1325.5h55m60 0h9m139 0h9m70 0h9m169 0h7m3 0h9m1 0h17m6 0h39M1380 1326.5h51m63 0h9m79 0h5m55 0h9m71 0h7m171 0h5m4 0h28m4 0h40M1385 1327.5h46m6 0h5m52 0h9m78 0h7m54 0h9m72 0h5m181 0h29m2 0h41M1385 1328.5h46m5 0h7m52 0h7m78 0h9m54 0h7m260 0h28m2 0h40M1385 1329.5h32m1 0h16m1 0h11m23 0h5m22 0h5m79 0h9m55 0h5m262 0h27m2 0h39M1386 1330.5h21m2 0h5m4 0h29m21 0h7m105 0h9m322 0h27m1 0h38M1387 1331.5h20m1 0h9m1 0h30m19 0h9m104 0h9m136 0h5m180 0h27m1 0h21m2 0h16M1390 1332.5h58m19 0h9m105 0h7m75 0h5m56 0h7m33 0h5m140 0h50m2 0h16M1381 1333.5h5m7 0h55m19 0h9m106 0h5m75 0h7m54 0h9m31 0h7m139 0h67m6 0h5M1380 1334.5h7m5 0h56m19 0h9m185 0h9m45 0h5m3 0h9m30 0h9m138 0h9m8 0h50m5 0h7M1379 1335.5h9m3 0h47m2 0h7m1 0h5m15 0h7m58 0h5m123 0h9m44 0h7m2 0h9m30 0h9m138 0h9m6 0h55m1 0h9M1379 1336.5h9m2 0h36m1 0h19m1 0h7m15 0h5m58 0h7m122 0h9m43 0h9m1 0h9m30 0h9m138 0h9m1 0h70M1379 1337.5h9m2 0h35m2 0h15m4 0h9m76 0h9m121 0h9m43 0h9m2 0h7m16 0h5m10 0h9m138 0h59m1 0h20M1379 1338.5h76m76 0h9m122 0h7m44 0h9m3 0h5m16 0h7m10 0h7m139 0h58m1 0h21M1380 1339.5h75m76 0h9m123 0h5m45 0h9m23 0h9m10 0h5m138 0h81M1381 1340.5h74m76 0h9m174 0h7m24 0h9m152 0h75m1 0h5M1384 1341.5h14m1 0h55m78 0h7m131 0h5m40 0h5m25 0h9m151 0h11m1 0h63M1384 1342.5h13m1 0h55m5 0h5m70 0h5m131 0h7m69 0h9m150 0h12m2 0h61M1373 1343.5h5m5 0h43m2 0h20m9 0h7m204 0h9m69 0h7m151 0h13m2 0h57M1372 1344.5h7m3 0h45m3 0h9m1 0h7m9 0h9m203 0h9m70 0h5m152 0h17m2 0h54M1371 1345.5h9m1 0h48m1 0h9m2 0h5m10 0h9m106 0h5m92 0h9m196 0h10m21 0h63m1 0h9M1371 1346.5h9m1 0h59m16 0h9m105 0h7m91 0h9m195 0h12m1 0h5m15 0h62m1 0h9M1371 1347.5h9m1 0h60m15 0h9m104 0h9m91 0h7m78 0h5m112 0h20m11 0h75M1371 1348.5h9m1 0h60m16 0h7m105 0h9m92 0h5m78 0h7m111 0h21m9 0h75M1372 1349.5h7m2 0h10m1 0h55m11 0h5m19 0h5m82 0h9m68 0h5m101 0h9m110 0h21m8 0h75M1373 1350.5h5m2 0h68m33 0h7m81 0h9m67 0h7m51 0h5m44 0h9m102 0h5m3 0h21m5 0h77M1379 1351.5h70m31 0h9m81 0h7m63 0h13m49 0h7m1 0h5m37 0h9m71 0h5m25 0h7m3 0h20m4 0h78M1379 1352.5h70m31 0h9m3 0h5m74 0h5m63 0h14m48 0h15m36 0h9m40 0h5m25 0h7m23 0h9m3 0h10m1 0h7m4 0h79M1379 1353.5h75m26 0h9m2 0h7m140 0h15m48 0h16m15 0h5m16 0h7m40 0h7m17 0h5m1 0h9m22 0h9m15 0h5m5 0h78M1376 1354.5h79m25 0h9m1 0h9m70 0h5m64 0h15m48 0h16m14 0h7m16 0h5m40 0h9m15 0h16m22 0h9m25 0h28m2 0h47M1371 1355.5h85m25 0h7m2 0h9m69 0h7m63 0h14m49 0h16m13 0h9m60 0h9m14 0h17m22 0h9m25 0h28m2 0h46M1370 1356.5h87m25 0h5m3 0h9m68 0h9m62 0h13m51 0h15m7 0h5m1 0h9m40 0h5m15 0h9m14 0h17m23 0h7m27 0h27m2 0h47m3 0h5M1369 1357.5h89m32 0h9m55 0h5m8 0h9m63 0h7m57 0h5m1 0h7m7 0h16m10 0h5m24 0h7m14 0h9m14 0h16m25 0h5m29 0h84M1369 1358.5h89m33 0h7m55 0h7m7 0h9m64 0h5m65 0h5m7 0h17m9 0h7m22 0h9m14 0h7m15 0h9m1 0h5m51 0h5m4 0h17m1 0h67M1369 1359.5h89m34 0h5m11 0h5m39 0h9m6 0h9m134 0h5m7 0h16m9 0h9m21 0h9m15 0h5m17 0h7m57 0h7m3 0h17m1 0h70M1369 1360.5h90m48 0h7m38 0h9m7 0h7m134 0h7m6 0h9m1 0h5m10 0h9m21 0h9m38 0h5m57 0h9m2 0h16m2 0h71M1370 1361.5h89m47 0h9m37 0h9m8 0h5m20 0h5m8 0h5m96 0h9m5 0h9m16 0h9m21 0h9m70 0h5m25 0h9m2 0h90M1371 1362.5h88m47 0h9m37 0h9m27 0h12m6 0h7m95 0h9m6 0h11m13 0h9m22 0h7m57 0h5m8 0h7m24 0h9m3 0h8m1 0h80M1371 1363.5h88m47 0h9m38 0h7m13 0h5m9 0h14m4 0h9m94 0h9m7 0h11m3 0h5m5 0h7m24 0h5m4 0h5m48 0h7m6 0h9m23 0h9m4 0h6m1 0h81M1370 1364.5h9m1 0h78m3 0h5m40 0h9m39 0h5m13 0h7m7 0h15m4 0h9m94 0h9m10 0h9m1 0h7m5 0h5m33 0h7m46 0h9m5 0h9m24 0h7m4 0h7m1 0h81M1370 1365.5h9m1 0h77m3 0h7m40 0h7m57 0h9m6 0h15m4 0h9m5 0h5m85 0h7m11 0h18m41 0h9m45 0h9m5 0h9m2 0h5m18 0h5m4 0h89M1370 1366.5h98m40 0h5m48 0h5m5 0h9m6 0h15m4 0h9m4 0h7m80 0h10m12 0h18m41 0h9m45 0h9m5 0h9m1 0h7m26 0h88M1370 1367.5h98m92 0h7m4 0h13m2 0h14m6 0h8m3 0h9m78 0h7m16 0h18m41 0h9m10 0h5m30 0h9m6 0h7m1 0h9m25 0h9m1 0h77M1371 1368.5h97m72 0h5m14 0h9m3 0h14m2 0h12m7 0h9m2 0h9m77 0h9m16 0h17m41 0h9m9 0h7m11 0h5m14 0h7m8 0h5m2 0h9m25 0h9m2 0h76M1372 1369.5h96m71 0h7m13 0h9m4 0h14m2 0h5m13 0h9m2 0h9m77 0h9m17 0h20m38 0h7m9 0h9m9 0h7m14 0h5m16 0h9m26 0h7m8 0h62m1 0h7M1375 1370.5h92m71 0h9m12 0h9m5 0h13m20 0h9m2 0h9m37 0h5m35 0h14m14 0h19m38 0h5m10 0h9m8 0h9m34 0h9m25 0h9m6 0h64m1 0h5M1368 1371.5h5m2 0h91m72 0h9m12 0h9m9 0h9m20 0h9m3 0h7m37 0h7m34 0h15m13 0h9m2 0h9m52 0h9m8 0h9m35 0h7m1 0h5m20 0h9m5 0h66M1367 1372.5h96m68 0h5m2 0h9m13 0h7m10 0h10m20 0h7m5 0h5m37 0h9m34 0h15m13 0h7m3 0h9m52 0h9m8 0h9m36 0h5m1 0h7m19 0h9m5 0h71M1366 1373.5h71m1 0h24m14 0h5m49 0h7m1 0h9m14 0h5m12 0h10m20 0h5m14 0h5m11 0h5m13 0h9m35 0h14m14 0h5m4 0h9m53 0h7m9 0h9m41 0h9m18 0h9m5 0h72M1366 1374.5h93m16 0h7m47 0h17m1 0h5m27 0h10m37 0h7m9 0h7m12 0h9m2 0h5m25 0h17m6 0h5m1 0h5m6 0h9m54 0h5m8 0h10m42 0h9m19 0h7m6 0h74M1366 1375.5h90m9 0h5m4 0h9m46 0h16m1 0h7m21 0h5m1 0h9m36 0h9m7 0h9m11 0h9m1 0h7m23 0h21m2 0h13m4 0h11m13 0h5m47 0h10m43 0h9m20 0h5m2 0h80M1366 1376.5h85m5 0h5m3 0h7m3 0h9m46 0h13m3 0h9m19 0h16m36 0h9m7 0h9m12 0h7m1 0h9m21 0h38m3 0h12m11 0h7m45 0h9m45 0h9m26 0h82M1367 1377.5h83m5 0h7m1 0h9m2 0h10m44 0h14m2 0h10m9 0h5m4 0h17m36 0h9m7 0h9m13 0h5m2 0h9m7 0h5m9 0h38m3 0h12m9 0h11m43 0h9m46 0h7m26 0h83M1368 1378.5h104m2 0h10m44 0h14m2 0h10m8 0h7m3 0h16m37 0h9m7 0h9m20 0h9m6 0h7m8 0h13m2 0h23m3 0h12m8 0h13m42 0h9m13 0h5m29 0h5m3 0h5m19 0h86M1373 1379.5h99m3 0h9m44 0h14m2 0h10m7 0h9m2 0h9m1 0h5m37 0h9m9 0h12m5 0h10m1 0h9m5 0h9m7 0h13m2 0h23m1 0h17m4 0h15m41 0h13m8 0h12m30 0h7m3 0h5m9 0h88M1372 1380.5h8m1 0h91m3 0h9m44 0h13m3 0h9m8 0h9m2 0h9m31 0h5m7 0h9m10 0h12m3 0h12m1 0h7m6 0h9m8 0h11m3 0h42m3 0h15m42 0h13m6 0h14m28 0h9m1 0h7m7 0h90M1371 1381.5h100m5 0h7m43 0h26m9 0h9m3 0h7m31 0h7m4 0h11m14 0h9m1 0h14m1 0h5m6 0h13m6 0h9m5 0h8m1 0h5m1 0h27m2 0h15m43 0h13m5 0h15m27 0h18m6 0h90m1 0h5m89 0h5M1371 1382.5h93m1 0h5m7 0h5m38 0h15m4 0h14m7 0h10m4 0h5m31 0h9m2 0h12m14 0h9m1 0h14m4 0h5m2 0h15m20 0h8m8 0h15m1 0h9m2 0h15m47 0h9m5 0h15m27 0h18m6 0h97m87 0h7M1371 1383.5h93m55 0h15m4 0h15m6 0h10m41 0h9m1 0h12m15 0h24m3 0h24m19 0h9m7 0h25m3 0h14m47 0h9m4 0h16m26 0h19m2 0h102m85 0h9M1370 1384.5h94m7 0h5m42 0h16m4 0h15m6 0h9m34 0h5m3 0h9m1 0h11m16 0h24m2 0h25m19 0h9m7 0h25m2 0h14m16 0h5m27 0h9m4 0h16m5 0h5m15 0h20m1 0h103m85 0h9M1370 1385.5h93m7 0h7m41 0h16m4 0h15m6 0h9m33 0h7m2 0h19m19 0h22m3 0h28m16 0h9m7 0h24m3 0h13m3 0h5m2 0h5m1 0h7m27 0h7m5 0h15m5 0h7m14 0h114m1 0h9m85 0h9M1370 1386.5h78m2 0h12m7 0h9m40 0h17m3 0h14m7 0h9m32 0h29m15 0h25m4 0h29m15 0h9m8 0h16m1 0h5m3 0h15m1 0h22m9 0h5m13 0h5m6 0h14m5 0h9m8 0h118m2 0h9m85 0h9M1368 1387.5h80m1 0h10m10 0h9m9 0h5m26 0h17m4 0h12m9 0h7m33 0h28m15 0h7m2 0h16m5 0h16m1 0h13m15 0h7m10 0h5m1 0h9m9 0h38m8 0h7m24 0h7m10 0h10m7 0h22m1 0h95m4 0h7m87 0h7M1367 1388.5h81m1 0h10m7 0h16m4 0h7m26 0h16m5 0h5m16 0h5m34 0h27m15 0h9m1 0h15m7 0h14m3 0h12m16 0h5m11 0h5m2 0h7m10 0h38m7 0h9m24 0h5m1 0h5m4 0h11m5 0h119m6 0h5m89 0h5M1366 1389.5h93m6 0h29m26 0h18m31 0h5m26 0h25m8 0h5m4 0h9m1 0h11m1 0h5m6 0h12m7 0h9m18 0h5m8 0h7m2 0h5m11 0h38m7 0h9m29 0h7m2 0h12m4 0h120M1366 1390.5h93m5 0h30m31 0h14m12 0h5m12 0h7m21 0h12m2 0h16m6 0h8m2 0h9m1 0h18m6 0h10m8 0h9m17 0h7m6 0h9m10 0h5m3 0h13m1 0h22m8 0h9m28 0h9m1 0h11m4 0h124M1366 1391.5h92m6 0h30m31 0h15m10 0h7m10 0h9m19 0h12m4 0h15m5 0h10m1 0h10m1 0h18m6 0h5m13 0h7m17 0h9m5 0h9m9 0h7m3 0h11m3 0h20m9 0h9m28 0h9m1 0h10m5 0h125M1366 1392.5h96m2 0h9m2 0h20m31 0h14m9 0h9m9 0h9m1 0h10m7 0h9m12 0h11m5 0h11m1 0h9m2 0h17m21 0h10m17 0h9m5 0h9m2 0h5m1 0h11m2 0h5m8 0h18m10 0h8m29 0h9m1 0h9m6 0h18m1 0h107M1367 1393.5h88m1 0h7m1 0h31m32 0h13m9 0h9m9 0h21m6 0h9m14 0h9m5 0h21m4 0h16m19 0h12m4 0h5m1 0h5m1 0h9m5 0h39m7 0h15m9 0h9m12 0h5m6 0h5m1 0h9m2 0h7m7 0h19m1 0h13m1 0h92M1368 1394.5h96m1 0h32m30 0h13m9 0h9m9 0h24m2 0h15m10 0h7m6 0h21m4 0h17m17 0h15m1 0h22m6 0h39m6 0h14m9 0h11m10 0h7m4 0h7m1 0h7m4 0h5m9 0h125M1373 1395.5h91m2 0h32m28 0h13m10 0h9m8 0h43m2 0h5m3 0h5m8 0h11m1 0h7m6 0h17m16 0h37m8 0h39m2 0h20m6 0h11m9 0h9m2 0h9m1 0h5m20 0h124M1373 1396.5h91m7 0h9m1 0h18m27 0h12m9 0h10m9 0h51m1 0h5m10 0h19m5 0h17m5 0h5m6 0h37m6 0h41m1 0h22m5 0h11m8 0h21m28 0h121M1373 1397.5h94m4 0h13m1 0h14m5 0h5m17 0h9m11 0h13m7 0h58m1 0h5m5 0h17m5 0h17m4 0h7m5 0h37m5 0h19m1 0h66m2 0h22m28 0h17m1 0h102M1372 1398.5h96m3 0h28m4 0h7m16 0h9m10 0h15m6 0h9m1 0h55m2 0h41m3 0h9m5 0h37m3 0h19m1 0h91m28 0h120M1371 1399.5h99m2 0h27m3 0h9m16 0h7m11 0h16m1 0h12m3 0h62m2 0h32m3 0h10m6 0h5m1 0h30m1 0h44m1 0h11m1 0h55m29 0h121m97 0h5M1370 1400.5h101m2 0h25m4 0h9m17 0h5m12 0h28m7 0h60m1 0h31m3 0h11m13 0h7m1 0h5m1 0h5m1 0h40m1 0h12m2 0h11m1 0h18m1 0h35m31 0h121m95 0h7M1370 1401.5h102m5 0h20m5 0h9m6 0h5m23 0h24m11 0h60m1 0h45m14 0h5m11 0h43m16 0h9m2 0h18m2 0h30m36 0h10m3 0h108m93 0h9M1367 1402.5h91m2 0h12m5 0h19m6 0h9m5 0h7m23 0h23m11 0h19m1 0h16m1 0h23m2 0h18m1 0h24m30 0h45m16 0h28m7 0h24m28 0h5m8 0h5m4 0h109m92 0h9M1364 1403.5h109m5 0h11m14 0h7m5 0h9m20 0h8m1 0h16m10 0h19m5 0h13m1 0h23m3 0h44m27 0h24m1 0h21m18 0h15m3 0h7m7 0h16m1 0h9m23 0h10m16 0h111m90 0h9M1363 1404.5h115m1 0h15m10 0h5m6 0h9m19 0h7m4 0h15m9 0h19m6 0h36m6 0h43m26 0h22m3 0h22m8 0h5m3 0h12m8 0h5m7 0h13m3 0h11m22 0h12m16 0h111m89 0h9M1362 1405.5h117m2 0h14m20 0h9m18 0h9m3 0h14m10 0h18m6 0h36m8 0h43m10 0h8m7 0h21m3 0h23m2 0h12m2 0h15m16 0h14m2 0h12m21 0h18m10 0h113m88 0h9M1362 1406.5h118m2 0h14m13 0h5m1 0h9m18 0h9m4 0h12m4 0h5m1 0h18m7 0h22m2 0h10m11 0h30m1 0h11m9 0h37m2 0h24m1 0h14m1 0h16m15 0h14m1 0h13m21 0h19m9 0h113m88 0h9M1362 1407.5h118m7 0h9m3 0h5m4 0h7m1 0h7m18 0h10m5 0h5m7 0h27m7 0h22m3 0h5m11 0h34m1 0h11m8 0h38m1 0h40m1 0h17m14 0h14m1 0h13m21 0h20m1 0h5m2 0h113m89 0h7M1362 1408.5h119m6 0h9m1 0h8m2 0h15m18 0h11m11 0h33m7 0h22m18 0h35m1 0h11m8 0h38m1 0h41m1 0h16m14 0h29m20 0h27m1 0h102m2 0h9m90 0h5M1362 1409.5h119m4 0h21m1 0h15m17 0h11m11 0h24m1 0h9m8 0h26m12 0h35m3 0h9m9 0h81m1 0h15m15 0h28m10 0h7m4 0h27m1 0h100m4 0h7M1361 1410.5h120m3 0h22m1 0h16m16 0h10m10 0h26m2 0h7m9 0h6m2 0h21m9 0h35m3 0h9m9 0h82m2 0h13m16 0h27m9 0h9m4 0h5m4 0h17m2 0h99m5 0h5M1361 1411.5h120m2 0h11m1 0h28m16 0h11m4 0h32m2 0h5m7 0h9m1 0h27m4 0h35m2 0h15m5 0h81m2 0h13m20 0h24m7 0h11m2 0h7m4 0h16m7 0h93M1361 1412.5h104m1 0h14m3 0h9m3 0h28m3 0h5m1 0h5m1 0h13m2 0h33m13 0h39m3 0h25m2 0h7m1 0h18m5 0h53m1 0h26m3 0h12m21 0h23m7 0h11m1 0h9m3 0h6m1 0h13m3 0h92m10 0h5M1361 1413.5h11m2 0h105m4 0h9m3 0h28m2 0h26m1 0h34m12 0h67m2 0h7m1 0h20m11 0h45m2 0h10m4 0h12m4 0h12m4 0h5m11 0h10m1 0h12m7 0h11m1 0h9m2 0h7m2 0h13m2 0h95m6 0h7M1362 1414.5h115m6 0h9m2 0h57m1 0h42m4 0h57m1 0h5m5 0h29m10 0h47m2 0h11m1 0h13m6 0h10m3 0h12m5 0h10m4 0h14m2 0h31m1 0h112m3 0h9M1363 1415.5h114m7 0h7m3 0h57m1 0h25m1 0h17m3 0h47m1 0h10m10 0h29m9 0h17m1 0h31m2 0h24m6 0h10m2 0h14m5 0h8m6 0h14m1 0h10m1 0h20m1 0h113m1 0h10M1267 1416.5h5m88 0h117m8 0h5m4 0h11m1 0h70m3 0h17m2 0h47m3 0h9m9 0h29m8 0h16m3 0h31m5 0h21m2 0h14m2 0h17m1 0h11m5 0h23m2 0h20m1 0h124M1266 1417.5h7m86 0h117m18 0h10m3 0h74m3 0h12m2 0h47m4 0h9m7 0h32m6 0h18m1 0h56m2 0h15m1 0h31m5 0h22m2 0h20m1 0h124M1265 1418.5h9m84 0h117m20 0h8m9 0h50m1 0h19m2 0h12m2 0h47m4 0h9m2 0h38m1 0h78m2 0h16m1 0h32m1 0h25m3 0h18m3 0h122M1265 1419.5h9m84 0h115m23 0h5m12 0h70m1 0h12m2 0h48m3 0h9m1 0h54m1 0h59m5 0h17m1 0h49m1 0h7m5 0h16m3 0h122M1265 1420.5h9m84 0h111m5 0h5m27 0h5m3 0h69m2 0h10m2 0h21m1 0h28m2 0h124m4 0h17m2 0h50m1 0h5m11 0h10m4 0h121M1264 1421.5h10m84 0h111m4 0h7m25 0h7m6 0h65m3 0h9m1 0h52m1 0h124m4 0h16m2 0h51m18 0h9m4 0h120M1263 1422.5h10m86 0h110m3 0h9m22 0h11m4 0h65m4 0h7m1 0h53m1 0h111m4 0h12m1 0h12m1 0h56m18 0h9m4 0h119M1263 1423.5h12m77 0h5m2 0h110m3 0h11m11 0h5m3 0h13m3 0h67m3 0h5m2 0h53m2 0h7m1 0h101m4 0h83m18 0h9m3 0h120M1263 1424.5h13m75 0h7m1 0h110m3 0h12m1 0h15m1 0h15m2 0h57m1 0h10m9 0h61m2 0h103m1 0h45m1 0h40m17 0h7m3 0h122M1263 1425.5h14m73 0h9m1 0h110m2 0h44m3 0h56m3 0h9m3 0h64m4 0h120m1 0h29m1 0h40m17 0h5m3 0h123M1264 1426.5h13m73 0h9m2 0h110m2 0h43m4 0h55m2 0h10m2 0h190m3 0h26m1 0h41m8 0h5m6 0h128M1264 1427.5h13m73 0h9m3 0h155m8 0h7m1 0h42m1 0h204m2 0h26m1 0h41m7 0h7m4 0h129m90 0h5M1263 1428.5h14m73 0h9m2 0h140m1 0h16m8 0h49m1 0h205m2 0h25m1 0h20m2 0h19m3 0h12m2 0h129m90 0h7M1263 1429.5h13m75 0h7m2 0h101m1 0h40m1 0h16m7 0h166m2 0h88m2 0h24m1 0h19m3 0h19m2 0h13m2 0h128m90 0h9M1263 1430.5h12m77 0h5m3 0h142m1 0h16m4 0h169m2 0h19m1 0h21m1 0h47m6 0h38m4 0h18m2 0h14m2 0h127m91 0h9M1263 1431.5h12m84 0h160m3 0h26m1 0h143m1 0h19m2 0h69m6 0h39m4 0h16m3 0h14m2 0h128m90 0h9M1264 1432.5h10m85 0h160m2 0h25m4 0h36m1 0h105m1 0h18m4 0h70m4 0h39m3 0h16m2 0h15m4 0h128m89 0h9M1264 1433.5h9m86 0h159m3 0h29m1 0h35m2 0h33m2 0h68m1 0h22m2 0h70m4 0h38m2 0h33m5 0h129m89 0h7M1263 1434.5h9m87 0h160m2 0h22m1 0h77m2 0h94m1 0h141m9 0h129m90 0h5M1263 1435.5h9m88 0h160m1 0h99m3 0h95m1 0h139m6 0h133m5 0h5M1263 1436.5h9m89 0h160m1 0h7m1 0h189m4 0h133m7 0h135m3 0h7M1263 1437.5h9m90 0h159m2 0h5m1 0h224m1 0h67m1 0h34m6 0h137m1 0h9M1264 1438.5h7m92 0h158m3 0h228m1 0h68m1 0h33m7 0h147m78 0h5M1265 1439.5h6m93 0h157m2 0h274m3 0h55m1 0h5m1 0h147m77 0h7M1265 1440.5h7m95 0h154m1 0h275m2 0h210m76 0h9M1264 1441.5h9m73 0h5m10 0h5m2 0h428m2 0h202m1 0h7m77 0h9M1264 1442.5h9m72 0h7m8 0h7m2 0h318m2 0h106m3 0h201m3 0h5m78 0h9M1264 1443.5h9m71 0h9m4 0h11m2 0h421m7 0h73m1 0h8m1 0h117m87 0h9M1264 1444.5h9m71 0h9m3 0h440m2 0h50m3 0h19m3 0h129m83 0h9M1265 1445.5h12m67 0h9m2 0h442m2 0h39m1 0h8m4 0h18m4 0h10m3 0h117m82 0h9M1264 1446.5h14m66 0h9m2 0h443m1 0h36m3 0h7m6 0h18m4 0h11m1 0h119m81 0h9M1263 1447.5h16m66 0h7m3 0h477m5 0h7m7 0h17m5 0h131m81 0h9M1263 1448.5h16m67 0h5m4 0h477m4 0h10m5 0h16m6 0h131m80 0h10M1263 1449.5h16m77 0h139m2 0h220m1 0h115m3 0h11m4 0h19m3 0h131m79 0h10M1263 1450.5h16m78 0h138m1 0h218m4 0h116m2 0h12m1 0h22m2 0h130m80 0h9M1264 1451.5h14m79 0h357m5 0h116m1 0h36m1 0h129m81 0h10M1265 1452.5h5m2 0h5m80 0h148m1 0h207m1 0h5m1 0h152m1 0h129m81 0h11M1264 1453.5h7m87 0h146m1 0h207m1 0h159m1 0h129m82 0h11M1263 1454.5h9m84 0h516m1 0h129m83 0h10M1263 1455.5h9m83 0h517m1 0h129m84 0h9M1263 1456.5h10m81 0h647m85 0h9M1263 1457.5h11m80 0h132m1 0h513m87 0h7M1264 1458.5h10m80 0h646m88 0h5M1264 1459.5h10m80 0h646m88 0h5M1263 1460.5h11m81 0h7m2 0h635m88 0h7M1263 1461.5h10m83 0h5m2 0h639m84 0h9M1263 1462.5h10m90 0h640m82 0h10M1263 1463.5h14m86 0h641m80 0h11M1264 1464.5h14m75 0h5m5 0h643m77 0h12M1265 1465.5h14m73 0h7m3 0h645m75 0h12M1267 1466.5h12m72 0h9m1 0h647m73 0h13M1266 1467.5h13m72 0h657m73 0h13M1265 1468.5h14m72 0h657m73 0h14M1264 1469.5h15m72 0h657m73 0h14M1263 1470.5h17m72 0h655m75 0h13M1263 1471.5h17m73 0h653m77 0h12M1263 1472.5h17m74 0h650m78 0h12M1263 1473.5h17m75 0h641m2 0h5m79 0h13M1264 1474.5h15m77 0h640m3 0h5m78 0h13M1264 1475.5h14m79 0h639m2 0h7m72 0h18M1264 1476.5h13m84 0h634m2 0h9m70 0h19M1265 1477.5h10m79 0h5m2 0h646m68 0h20M1264 1478.5h11m78 0h654m68 0h20M1264 1479.5h16m72 0h655m68 0h20M1263 1480.5h18m71 0h655m68 0h20M1263 1481.5h19m70 0h655m69 0h19M1263 1482.5h19m70 0h656m69 0h17M1263 1483.5h19m71 0h656m72 0h13M1264 1484.5h18m72 0h655m73 0h11M1263 1485.5h18m65 0h5m4 0h654m72 0h13M1263 1486.5h17m65 0h7m4 0h653m72 0h13M1263 1487.5h14m67 0h9m3 0h652m73 0h13M1263 1488.5h15m66 0h9m2 0h652m74 0h13M1264 1489.5h14m66 0h9m2 0h648m78 0h13M1264 1490.5h14m66 0h659m78 0h14M1264 1491.5h14m67 0h657m78 0h15M1264 1492.5h13m69 0h655m79 0h15M1263 1493.5h14m72 0h653m78 0h15M1263 1494.5h14m71 0h655m77 0h14M1263 1495.5h13m72 0h656m76 0h13M1263 1496.5h14m71 0h656m76 0h12M1263 1497.5h14m71 0h656m76 0h13M1263 1498.5h14m72 0h655m76 0h14M1263 1499.5h14m73 0h658m73 0h14M1263 1500.5h13m77 0h656m73 0h13M1263 1501.5h13m71 0h663m72 0h13M1263 1502.5h13m70 0h664m71 0h14M1264 1503.5h12m69 0h665m71 0h13M1265 1504.5h12m68 0h665m71 0h14M1264 1505.5h17m64 0h664m70 0h16M1263 1506.5h19m63 0h663m70 0h17M1263 1507.5h20m61 0h14m1 0h647m71 0h18M1263 1508.5h20m60 0h663m71 0h17M1263 1509.5h20m59 0h664m71 0h18M1263 1510.5h20m59 0h664m71 0h18M1263 1511.5h19m60 0h664m72 0h17M1263 1512.5h18m61 0h665m71 0h17M1263 1513.5h17m63 0h664m70 0h18M1263 1514.5h14m67 0h663m69 0h19M1263 1515.5h15m69 0h660m69 0h19M1263 1516.5h16m68 0h660m69 0h19M1263 1517.5h16m68 0h660m69 0h19M1263 1518.5h16m69 0h661m68 0h18M1263 1519.5h16m70 0h663m66 0h17M1263 1520.5h15m68 0h5m1 0h661m67 0h15M1263 1521.5h14m68 0h669m65 0h16M1263 1522.5h13m68 0h670m65 0h16M1264 1523.5h13m67 0h670m64 0h16M1264 1524.5h15m65 0h670m63 0h17M1264 1525.5h16m61 0h672m64 0h18M1264 1526.5h17m59 0h672m65 0h18M1263 1527.5h18m58 0h672m66 0h18M1263 1528.5h18m58 0h672m67 0h17M1263 1529.5h18m58 0h9m4 0h659m67 0h17M1263 1530.5h17m59 0h10m3 0h658m69 0h16M1263 1531.5h16m61 0h10m2 0h657m70 0h16M1264 1532.5h17m60 0h665m3 0h5m65 0h16M1263 1533.5h19m60 0h664m1 0h8m52 0h5m7 0h16M1263 1534.5h20m59 0h674m50 0h7m7 0h15M1263 1535.5h20m59 0h674m9 0h5m35 0h9m2 0h19M1263 1536.5h20m60 0h673m8 0h7m34 0h9m1 0h20M1263 1537.5h20m59 0h675m6 0h9m33 0h30M1263 1538.5h19m59 0h677m5 0h9m33 0h30M1263 1539.5h20m58 0h678m4 0h9m34 0h7m1 0h20M1263 1540.5h20m58 0h678m4 0h9m35 0h5m1 0h22M1263 1541.5h20m1 0h5m51 0h680m4 0h7m41 0h23M1263 1542.5h27m50 0h680m5 0h5m42 0h23M1263 1543.5h28m49 0h680m46 0h5m1 0h23M1263 1544.5h28m49 0h680m45 0h30M1263 1545.5h16m1 0h11m50 0h678m45 0h30M1263 1546.5h28m51 0h676m46 0h31M1263 1547.5h27m52 0h676m46 0h31M1263 1548.5h26m53 0h676m46 0h31M1263 1549.5h24m41 0h5m9 0h676m47 0h30M1264 1550.5h24m39 0h7m9 0h675m48 0h29M1264 1551.5h24m38 0h9m9 0h674m52 0h25M1264 1552.5h24m38 0h9m1 0h5m5 0h672m52 0h25M1264 1553.5h24m38 0h16m1 0h675m52 0h25M1264 1554.5h14m1 0h8m39 0h691m53 0h25M1263 1555.5h27m37 0h689m55 0h24M1263 1556.5h28m37 0h5m1 0h683m55 0h23M1263 1557.5h29m42 0h683m60 0h18M1263 1558.5h29m43 0h682m60 0h18M1263 1559.5h29m35 0h5m4 0h681m61 0h17M1263 1560.5h29m34 0h7m5 0h678m61 0h18M1263 1561.5h28m34 0h9m4 0h678m59 0h20M1263 1562.5h27m35 0h9m4 0h678m58 0h21M1263 1563.5h23m39 0h9m4 0h678m57 0h21M1263 1564.5h23m39 0h9m5 0h677m57 0h21M1263 1565.5h23m40 0h7m7 0h676m57 0h22M1263 1566.5h26m38 0h5m8 0h678m54 0h23M1263 1567.5h27m49 0h680m51 0h25M1263 1568.5h28m47 0h682m49 0h26M1263 1569.5h28m46 0h683m48 0h26M1263 1570.5h31m43 0h683m48 0h26M1263 1571.5h32m42 0h683m48 0h26M1263 1572.5h33m37 0h686m3 0h5m41 0h26M1263 1573.5h33m36 0h686m3 0h7m28 0h5m7 0h27M1263 1574.5h33m35 0h686m3 0h9m26 0h7m7 0h26M1263 1575.5h33m35 0h685m4 0h9m25 0h9m7 0h25M1264 1576.5h31m36 0h685m4 0h9m25 0h9m6 0h26M1263 1577.5h31m37 0h686m3 0h9m25 0h9m5 0h27M1263 1578.5h25m44 0h686m3 0h7m26 0h9m4 0h28M1263 1579.5h25m45 0h685m4 0h5m28 0h7m5 0h28M1263 1580.5h24m50 0h681m38 0h5m6 0h28M1263 1581.5h26m48 0h681m49 0h28M1263 1582.5h27m47 0h680m50 0h28M1263 1583.5h28m46 0h679m51 0h28M1263 1584.5h28m46 0h682m48 0h28M1263 1585.5h28m46 0h683m47 0h28M1263 1586.5h28m46 0h684m47 0h27M1263 1587.5h27m46 0h685m47 0h27M1264 1588.5h27m44 0h686m47 0h27M1264 1589.5h28m41 0h688m47 0h27M1264 1590.5h28m40 0h688m48 0h27M1263 1591.5h29m39 0h689m48 0h27M1263 1592.5h29m39 0h689m47 0h28M1263 1593.5h28m23 0h5m12 0h689m11 0h5m30 0h29M1263 1594.5h28m22 0h7m11 0h689m2 0h5m3 0h7m28 0h30M1263 1595.5h29m20 0h9m11 0h688m1 0h7m1 0h9m27 0h30M1263 1596.5h29m20 0h9m11 0h687m1 0h18m27 0h30M1263 1597.5h29m2 0h5m13 0h9m11 0h706m27 0h30M1263 1598.5h37m12 0h9m11 0h706m28 0h29M1263 1599.5h38m11 0h9m12 0h704m5 0h5m18 0h30M1263 1600.5h38m12 0h7m14 0h702m5 0h7m16 0h31M1263 1601.5h22m2 0h14m13 0h5m19 0h693m9 0h9m14 0h32M1263 1602.5h21m3 0h14m36 0h697m6 0h9m14 0h32M1263 1603.5h22m2 0h13m37 0h698m5 0h9m14 0h32M1263 1604.5h23m2 0h11m38 0h699m4 0h9m14 0h32M1263 1605.5h24m2 0h5m21 0h5m17 0h699m5 0h7m16 0h31M1264 1606.5h23m27 0h7m16 0h699m6 0h5m17 0h30M1264 1607.5h23m26 0h9m15 0h699m27 0h32M1264 1608.5h23m26 0h9m12 0h702m26 0h33M1263 1609.5h30m20 0h9m11 0h703m26 0h33M1263 1610.5h32m18 0h9m10 0h704m26 0h33M1263 1611.5h33m10 0h5m3 0h7m10 0h705m26 0h33M1263 1612.5h34m8 0h7m3 0h5m10 0h705m28 0h7m1 0h24M1263 1613.5h34m7 0h9m17 0h697m1 0h6m30 0h5m1 0h24M1264 1614.5h37m3 0h9m17 0h704m30 0h5m1 0h24M1263 1615.5h39m2 0h9m17 0h705m28 0h31M1263 1616.5h40m1 0h9m18 0h704m27 0h33M1263 1617.5h40m2 0h7m20 0h703m6 0h5m16 0h33M1263 1618.5h40m3 0h5m21 0h703m5 0h7m15 0h33M1263 1619.5h40m28 0h703m5 0h9m14 0h33M1263 1620.5h31m1 0h7m29 0h702m3 0h12m14 0h33M1263 1621.5h30m3 0h5m30 0h700m4 0h13m14 0h33M1263 1622.5h29m39 0h700m3 0h14m14 0h33M1263 1623.5h26m41 0h701m3 0h13m15 0h32M1263 1624.5h25m35 0h708m3 0h12m17 0h31M1263 1625.5h24m3 0h5m27 0h709m3 0h9m21 0h31M1263 1626.5h24m2 0h7m25 0h710m4 0h7m27 0h26M1263 1627.5h34m1 0h5m7 0h5m6 0h709m6 0h5m28 0h26M1263 1628.5h41m5 0h7m5 0h709m31 0h5m3 0h26M1263 1629.5h42m3 0h9m4 0h710m9 0h5m15 0h7m2 0h26M1263 1630.5h42m3 0h9m4 0h100m1 0h610m7 0h7m13 0h9m1 0h26M1263 1631.5h42m3 0h9m4 0h100m2 0h610m5 0h9m12 0h36M1263 1632.5h32m1 0h9m3 0h9m3 0h102m2 0h610m4 0h9m12 0h36M1263 1633.5h31m3 0h7m5 0h7m3 0h715m4 0h9m12 0h36M1263 1634.5h31m4 0h5m7 0h5m4 0h715m4 0h9m13 0h35M1263 1635.5h31m25 0h716m4 0h7m15 0h34M1263 1636.5h30m26 0h717m4 0h5m19 0h31M1263 1637.5h29m28 0h717m28 0h30M1263 1638.5h31m27 0h716m26 0h31M1263 1639.5h32m13 0h5m8 0h716m4 0h5m13 0h35M1263 1640.5h33m9 0h9m7 0h716m3 0h7m11 0h37M1263 1641.5h36m5 0h11m6 0h715m3 0h9m3 0h5m1 0h38M1263 1642.5h37m3 0h12m7 0h713m3 0h10m2 0h45M1263 1643.5h38m2 0h12m3 0h715m4 0h11m1 0h46M1263 1644.5h38m2 0h12m2 0h716m4 0h11m1 0h46M1263 1645.5h38m2 0h11m2 0h716m5 0h10m2 0h46M1263 1646.5h38m3 0h9m3 0h719m2 0h9m3 0h9m1 0h36M1263 1647.5h37m5 0h5m6 0h720m2 0h7m5 0h7m5 0h32M1263 1648.5h38m15 0h721m2 0h5m7 0h5m6 0h31M1263 1649.5h39m15 0h720m25 0h32M1263 1650.5h40m15 0h719m26 0h31M1264 1651.5h39m15 0h623m1 0h95m27 0h31M1264 1652.5h40m14 0h618m6 0h94m24 0h5m2 0h28M1264 1653.5h41m8 0h5m1 0h619m2 0h101m18 0h7m2 0h27M1263 1654.5h43m6 0h7m1 0h722m1 0h5m10 0h37M1263 1655.5h43m5 0h9m3 0h726m8 0h38M1263 1656.5h43m5 0h9m2 0h638m1 0h94m1 0h39M1263 1657.5h43m5 0h9m2 0h638m2 0h133M1263 1658.5h42m6 0h650m2 0h132M1263 1659.5h41m8 0h649m3 0h131M1263 1660.5h41m9 0h648m2 0h132M1263 1661.5h41m9 0h79m1 0h20m1 0h547m2 0h132M1263 1662.5h40m8 0h80m2 0h20m1 0h548m1 0h81m5 0h7m1 0h38M1264 1663.5h38m8 0h79m3 0h21m2 0h628m5 0h7m2 0h38M1263 1664.5h39m7 0h81m2 0h21m2 0h627m5 0h7m3 0h38M1263 1665.5h40m1 0h625m1 0h107m9 0h9m2 0h38M1263 1666.5h689m1 0h84m9 0h9m3 0h37M1263 1667.5h155m2 0h617m2 0h5m2 0h49M1263 1668.5h155m3 0h615m2 0h7m1 0h15m1 0h32M1263 1669.5h157m2 0h614m1 0h9m1 0h47M1263 1670.5h137m1 0h20m1 0h624m2 0h46M1263 1671.5h136m2 0h516m1 0h133m2 0h42M1263 1672.5h135m4 0h20m1 0h494m1 0h134m1 0h42M1263 1673.5h137m3 0h8m2 0h10m1 0h629m1 0h41M1264 1674.5h137m2 0h9m1 0h11m1 0h628m1 0h41M1264 1675.5h138m1 0h9m2 0h681M1264 1676.5h138m1 0h9m1 0h547m2 0h133M1264 1677.5h138m1 0h22m1 0h514m2 0h17m3 0h76m1 0h13m1 0h42M1264 1678.5h138m2 0h7m1 0h13m2 0h512m5 0h14m5 0h74m2 0h13m1 0h42M1263 1679.5h138m1 0h8m2 0h12m7 0h508m1 0h18m5 0h75m1 0h56M1263 1680.5h137m1 0h7m2 0h13m9 0h506m1 0h19m4 0h77m1 0h54M1263 1681.5h159m1 0h514m1 0h20m3 0h79m1 0h53M1263 1682.5h158m1 0h515m1 0h21m2 0h80m3 0h14m1 0h35M1263 1683.5h696m1 0h81m3 0h14m2 0h34M1263 1684.5h707m3 0h85m5 0h31M1263 1685.5h706m3 0h85m6 0h31M1263 1686.5h130m1 0h545m1 0h28m3 0h85m7 0h32M1263 1687.5h134m1 0h541m6 0h23m2 0h77m1 0h11m3 0h33M1263 1688.5h135m1 0h539m1 0h5m1 0h6m1 0h95m2 0h11m1 0h34M1263 1689.5h674m1 0h110m4 0h43M1263 1690.5h786m3 0h43M1263 1691.5h665m1 0h166M1263 1692.5h144m3 0h5m1 0h544m1 0h133M1263 1693.5h145m9 0h7m4 0h531m2 0h133M1263 1694.5h134m1 0h10m10 0h5m6 0h491m1 0h37m3 0h134M1263 1695.5h132m2 0h11m13 0h5m2 0h492m1 0h9m1 0h5m1 0h7m1 0h150M1263 1696.5h145m2 0h5m5 0h499m2 0h9m8 0h5m2 0h150M1263 1697.5h144m2 0h7m3 0h499m4 0h7m16 0h24m1 0h125M1263 1698.5h51m2 0h90m2 0h9m2 0h496m8 0h5m17 0h9m1 0h13m2 0h125M1263 1699.5h49m3 0h90m3 0h9m2 0h17m1 0h478m30 0h9m1 0h9m5 0h126M1263 1700.5h49m3 0h89m4 0h27m2 0h477m30 0h9m2 0h9m4 0h127M1264 1701.5h48m3 0h90m3 0h26m3 0h477m28 0h10m4 0h7m4 0h128M1265 1702.5h47m3 0h80m1 0h9m4 0h24m4 0h478m26 0h10m4 0h7m5 0h128M1265 1703.5h128m3 0h9m5 0h20m7 0h478m25 0h11m3 0h9m4 0h127M1265 1704.5h126m5 0h9m8 0h17m8 0h477m4 0h5m16 0h11m3 0h9m4 0h127M1265 1705.5h127m5 0h7m9 0h17m2 0h483m3 0h7m2 0h5m8 0h11m3 0h9m4 0h128M1265 1706.5h127m6 0h5m11 0h16m1 0h483m3 0h16m7 0h12m2 0h9m3 0h129M1265 1707.5h127m17 0h5m1 0h6m1 0h512m7 0h12m2 0h7m3 0h130M1264 1708.5h128m16 0h7m8 0h511m8 0h12m2 0h5m3 0h131M1264 1709.5h129m14 0h10m7 0h510m11 0h9m10 0h130M1264 1710.5h116m2 0h11m14 0h11m4 0h512m9 0h11m10 0h131M1264 1711.5h129m14 0h12m2 0h503m2 0h7m9 0h12m10 0h131M1265 1712.5h128m14 0h12m1 0h501m6 0h5m9 0h12m12 0h130M1264 1713.5h128m16 0h11m1 0h12m7 0h481m21 0h11m13 0h9m1 0h120M1264 1714.5h127m10 0h5m3 0h10m1 0h11m8 0h480m22 0h9m9 0h14m2 0h120M1264 1715.5h125m11 0h7m4 0h7m2 0h9m10 0h475m27 0h9m8 0h17m1 0h119M1264 1716.5h125m10 0h9m4 0h5m4 0h7m11 0h473m30 0h7m8 0h19m1 0h118M1265 1717.5h124m10 0h9m14 0h5m13 0h473m30 0h5m9 0h138M1266 1718.5h124m9 0h9m32 0h473m44 0h138M1266 1719.5h125m8 0h9m32 0h473m44 0h138M1265 1720.5h127m8 0h7m26 0h5m3 0h477m40 0h137M1264 1721.5h128m9 0h5m26 0h487m40 0h136M1263 1722.5h129m39 0h489m46 0h128M1263 1723.5h118m2 0h10m38 0h489m46 0h127M1263 1724.5h119m2 0h10m7 0h5m25 0h489m46 0h126M1263 1725.5h119m3 0h9m6 0h7m24 0h489m47 0h125M1264 1726.5h118m3 0h9m5 0h9m24 0h487m49 0h124M1264 1727.5h118m3 0h9m5 0h9m25 0h485m20 0h5m23 0h5m1 0h120M1264 1728.5h117m5 0h7m6 0h9m31 0h5m1 0h468m13 0h5m6 0h7m21 0h127M1264 1729.5h116m5 0h7m7 0h9m37 0h468m12 0h7m4 0h9m19 0h128M1265 1730.5h111m4 0h11m9 0h9m36 0h468m11 0h9m3 0h9m19 0h129M1265 1731.5h111m3 0h13m9 0h9m35 0h469m10 0h9m3 0h9m19 0h129M1265 1732.5h110m2 0h15m9 0h9m25 0h479m10 0h9m3 0h9m9 0h5m5 0h129M1265 1733.5h127m9 0h9m24 0h308m1 0h172m9 0h9m4 0h7m9 0h7m5 0h128M1265 1734.5h127m9 0h9m23 0h483m9 0h7m6 0h5m9 0h9m5 0h128M1264 1735.5h127m11 0h7m24 0h14m1 0h468m10 0h5m21 0h9m7 0h126M1264 1736.5h126m13 0h5m25 0h14m1 0h468m36 0h9m7 0h126M1264 1737.5h121m48 0h14m1 0h471m33 0h9m7 0h126M1264 1738.5h119m51 0h12m1 0h244m2 0h214m1 0h12m33 0h7m9 0h125M1263 1739.5h119m53 0h255m2 0h106m1 0h107m3 0h12m33 0h5m11 0h5m1 0h118M1263 1740.5h118m56 0h468m5 0h11m56 0h116M1263 1741.5h118m57 0h24m1 0h441m6 0h11m57 0h114M1263 1742.5h119m56 0h20m5 0h175m1 0h87m2 0h175m7 0h11m39 0h5m14 0h113M1264 1743.5h118m55 0h21m5 0h263m1 0h14m1 0h162m5 0h11m39 0h7m13 0h114M1265 1744.5h117m54 0h469m4 0h10m39 0h9m13 0h114M1265 1745.5h117m54 0h289m1 0h179m4 0h14m35 0h9m14 0h113M1264 1746.5h117m55 0h289m1 0h179m3 0h16m7 0h5m22 0h9m15 0h113M1263 1747.5h117m56 0h469m2 0h18m5 0h7m21 0h9m15 0h113M1263 1748.5h116m58 0h12m2 0h453m3 0h18m4 0h9m21 0h7m17 0h112M1263 1749.5h114m61 0h10m3 0h452m2 0h20m4 0h9m22 0h5m19 0h111M1263 1750.5h114m65 0h5m4 0h448m5 0h21m4 0h9m38 0h7m1 0h110M1264 1751.5h113m74 0h183m3 0h257m9 0h12m2 0h7m5 0h9m37 0h9m1 0h109M1265 1752.5h111m75 0h132m1 0h49m1 0h244m6 0h10m9 0h11m4 0h5m7 0h7m37 0h11m1 0h108M1264 1753.5h111m76 0h181m1 0h64m5 0h176m6 0h9m10 0h10m18 0h5m38 0h120M1263 1754.5h109m80 0h18m2 0h156m4 0h65m5 0h115m1 0h61m5 0h9m10 0h10m61 0h120M1263 1755.5h109m81 0h17m2 0h157m3 0h65m4 0h57m3 0h24m1 0h94m4 0h9m11 0h9m61 0h120M1263 1756.5h115m1 0h5m69 0h18m1 0h97m1 0h59m3 0h64m5 0h37m3 0h17m3 0h21m7 0h91m5 0h7m12 0h10m61 0h120M1263 1757.5h122m68 0h176m3 0h82m1 0h25m2 0h16m3 0h119m6 0h5m14 0h9m62 0h119M1263 1758.5h123m9 0h5m53 0h9m1 0h166m3 0h36m3 0h44m3 0h23m1 0h57m1 0h80m7 0h5m13 0h9m65 0h5m1 0h110M1263 1759.5h123m8 0h7m52 0h9m2 0h166m1 0h37m2 0h46m1 0h162m5 0h9m2 0h5m5 0h9m8 0h5m59 0h109M1263 1760.5h123m7 0h9m52 0h7m3 0h135m1 0h11m1 0h56m1 0h81m4 0h13m2 0h53m3 0h53m5 0h18m5 0h7m8 0h7m57 0h109M1264 1761.5h122m7 0h9m53 0h5m4 0h204m1 0h99m1 0h52m3 0h78m5 0h8m5 0h9m56 0h109M1265 1762.5h120m8 0h9m5 0h5m33 0h8m6 0h200m1 0h108m1 0h52m2 0h80m6 0h7m4 0h9m56 0h109M1265 1763.5h121m7 0h9m4 0h7m31 0h10m4 0h31m1 0h62m1 0h101m7 0h107m1 0h51m3 0h81m4 0h9m3 0h9m56 0h109M1265 1764.5h121m8 0h7m4 0h9m29 0h12m2 0h95m1 0h102m10 0h38m4 0h61m2 0h52m1 0h82m3 0h9m3 0h9m55 0h110M1265 1765.5h121m9 0h5m5 0h9m29 0h12m2 0h165m1 0h32m10 0h54m3 0h46m3 0h32m4 0h98m3 0h9m4 0h7m56 0h109M1266 1766.5h120m19 0h9m29 0h12m2 0h198m10 0h55m2 0h11m1 0h34m4 0h31m5 0h97m3 0h9m5 0h5m57 0h108M1267 1767.5h103m2 0h13m20 0h9m29 0h12m1 0h199m10 0h27m1 0h28m1 0h46m4 0h35m2 0h15m1 0h80m4 0h7m42 0h5m21 0h106M1267 1768.5h104m8 0h5m22 0h7m31 0h10m1 0h140m2 0h57m12 0h55m1 0h45m5 0h36m1 0h15m2 0h49m1 0h28m6 0h5m42 0h7m20 0h107M1266 1769.5h106m35 0h5m33 0h145m7 0h58m12 0h100m5 0h11m1 0h40m1 0h78m53 0h9m18 0h109M1265 1770.5h110m71 0h145m7 0h15m1 0h5m1 0h35m16 0h61m1 0h34m6 0h9m1 0h40m1 0h57m2 0h21m52 0h9m18 0h109M1265 1771.5h111m69 0h27m1 0h82m1 0h35m8 0h15m6 0h35m3 0h6m9 0h47m1 0h10m3 0h7m2 0h23m8 0h5m4 0h40m1 0h58m2 0h10m1 0h9m52 0h9m18 0h109M1265 1772.5h112m67 0h19m1 0h7m3 0h43m1 0h36m1 0h37m9 0h14m5 0h35m2 0h8m8 0h46m2 0h13m1 0h10m3 0h24m11 0h100m1 0h9m2 0h9m52 0h9m18 0h109M1265 1773.5h112m67 0h18m1 0h7m2 0h45m1 0h31m6 0h17m1 0h19m9 0h15m4 0h24m1 0h10m1 0h10m7 0h47m2 0h13m1 0h10m2 0h26m9 0h100m1 0h9m2 0h9m53 0h7m20 0h107M1265 1774.5h112m67 0h17m1 0h55m1 0h32m5 0h26m2 0h9m9 0h65m7 0h48m1 0h25m1 0h27m8 0h109m4 0h7m55 0h5m22 0h5m1 0h99M1266 1775.5h111m67 0h14m4 0h54m3 0h32m4 0h26m2 0h9m10 0h43m1 0h20m6 0h34m1 0h14m1 0h25m1 0h28m6 0h109m6 0h5m90 0h98M1267 1776.5h109m69 0h12m5 0h54m3 0h63m2 0h7m12 0h30m1 0h11m2 0h19m2 0h42m2 0h9m1 0h25m1 0h28m6 0h106m105 0h97M1266 1777.5h109m71 0h5m11 0h55m2 0h71m6 0h5m2 0h27m6 0h9m3 0h17m2 0h54m2 0h24m1 0h28m6 0h107m105 0h96M1265 1778.5h107m89 0h56m1 0h40m5 0h23m9 0h35m7 0h7m4 0h73m3 0h11m1 0h10m3 0h27m6 0h96m1 0h10m101 0h101M1265 1779.5h107m75 0h5m8 0h9m2 0h46m1 0h40m4 0h25m7 0h36m8 0h5m6 0h72m8 0h5m3 0h8m5 0h25m8 0h106m100 0h103M1265 1780.5h106m75 0h7m7 0h9m3 0h86m2 0h27m7 0h37m3 0h5m11 0h5m2 0h64m30 0h17m1 0h5m3 0h5m2 0h37m1 0h67m99 0h105M1265 1781.5h107m73 0h9m6 0h9m5 0h84m1 0h28m3 0h42m1 0h7m22 0h26m4 0h29m31 0h13m3 0h7m1 0h7m1 0h37m1 0h69m97 0h105M1266 1782.5h107m72 0h9m6 0h9m10 0h78m1 0h83m5 0h5m11 0h26m5 0h27m31 0h13m3 0h35m2 0h18m1 0h69m8 0h5m83 0h105M1267 1783.5h106m72 0h9m7 0h9m10 0h76m2 0h83m4 0h7m1 0h5m4 0h26m5 0h26m7 0h8m14 0h15m3 0h57m1 0h71m4 0h7m82 0h105M1268 1784.5h105m72 0h9m8 0h9m1 0h5m4 0h7m1 0h59m10 0h62m1 0h20m3 0h15m4 0h26m5 0h19m12 0h10m12 0h12m6 0h33m1 0h7m2 0h15m3 0h70m2 0h9m81 0h105M1267 1785.5h106m73 0h7m9 0h16m2 0h9m5 0h56m7 0h40m5 0h5m2 0h10m3 0h19m3 0h16m4 0h26m4 0h9m21 0h12m10 0h13m5 0h28m6 0h9m2 0h14m4 0h44m2 0h24m1 0h9m81 0h104M1266 1786.5h106m75 0h5m10 0h17m1 0h9m5 0h57m5 0h41m12 0h9m5 0h17m4 0h16m4 0h26m4 0h9m21 0h12m10 0h13m5 0h27m7 0h9m3 0h13m3 0h71m1 0h9m82 0h103M1265 1787.5h106m91 0h17m1 0h9m5 0h9m3 0h28m2 0h16m3 0h10m2 0h11m1 0h17m12 0h9m10 0h12m5 0h16m4 0h26m5 0h7m1 0h5m1 0h5m3 0h5m2 0h12m10 0h12m6 0h27m7 0h24m1 0h74m1 0h9m83 0h102M1264 1788.5h106m93 0h26m5 0h10m3 0h26m4 0h5m1 0h9m3 0h9m4 0h9m2 0h16m13 0h10m9 0h11m7 0h15m5 0h9m2 0h14m6 0h5m1 0h13m1 0h7m1 0h13m9 0h11m7 0h28m2 0h27m1 0h75m2 0h7m84 0h102M1263 1789.5h107m7 0h5m82 0h5m1 0h22m2 0h11m2 0h29m7 0h9m3 0h9m7 0h5m3 0h13m16 0h11m8 0h11m8 0h14m6 0h9m1 0h13m12 0h23m1 0h12m10 0h7m11 0h55m1 0h75m4 0h5m86 0h100M1263 1790.5h108m5 0h7m88 0h22m1 0h48m1 0h9m3 0h9m16 0h13m15 0h11m9 0h10m10 0h12m7 0h22m12 0h23m2 0h11m11 0h5m8 0h10m1 0h48m1 0h74m96 0h99M1263 1791.5h108m4 0h9m74 0h5m8 0h72m1 0h7m5 0h7m7 0h5m6 0h13m15 0h10m10 0h8m10 0h13m7 0h22m12 0h23m4 0h9m1 0h5m17 0h7m5 0h107m1 0h14m97 0h97M1263 1792.5h108m4 0h9m73 0h7m7 0h73m1 0h7m5 0h5m7 0h7m6 0h17m11 0h9m12 0h5m11 0h14m6 0h22m12 0h23m3 0h17m15 0h9m5 0h57m1 0h45m5 0h12m99 0h96M1264 1793.5h107m4 0h9m72 0h11m4 0h23m1 0h58m15 0h9m7 0h16m11 0h7m29 0h15m5 0h22m13 0h22m3 0h19m13 0h9m6 0h55m1 0h46m5 0h9m102 0h97M1265 1794.5h105m5 0h9m72 0h12m3 0h23m2 0h9m2 0h46m15 0h9m6 0h18m11 0h5m30 0h15m6 0h7m2 0h11m15 0h21m3 0h23m9 0h9m12 0h42m1 0h53m6 0h7m104 0h96M1266 1795.5h103m7 0h7m73 0h13m3 0h21m6 0h5m4 0h45m15 0h9m5 0h19m47 0h14m7 0h5m4 0h9m20 0h17m3 0h24m8 0h9m14 0h26m5 0h9m3 0h51m7 0h5m104 0h97M1265 1796.5h101m11 0h5m74 0h13m4 0h19m22 0h14m2 0h13m1 0h9m15 0h9m3 0h21m48 0h13m45 0h17m4 0h24m6 0h9m15 0h14m4 0h7m7 0h7m3 0h53m115 0h97M1264 1797.5h101m92 0h12m5 0h13m28 0h21m1 0h5m3 0h7m17 0h32m51 0h9m5 0h5m36 0h16m6 0h6m2 0h15m5 0h9m16 0h17m2 0h5m9 0h5m4 0h54m107 0h5m2 0h97M1264 1798.5h101m93 0h11m5 0h15m28 0h20m8 0h7m17 0h31m53 0h7m5 0h7m35 0h9m1 0h5m9 0h5m2 0h14m4 0h9m6 0h5m6 0h18m24 0h42m1 0h12m105 0h7m1 0h97M1264 1799.5h102m63 0h5m27 0h7m6 0h16m28 0h19m7 0h9m15 0h31m65 0h9m9 0h5m21 0h7m15 0h7m3 0h12m4 0h9m5 0h7m6 0h18m18 0h41m7 0h12m104 0h107M1264 1800.5h102m62 0h7m20 0h5m2 0h5m7 0h17m1 0h5m7 0h10m4 0h19m7 0h9m15 0h23m18 0h5m50 0h9m8 0h7m3 0h5m13 0h5m15 0h9m3 0h10m5 0h9m4 0h9m6 0h17m17 0h20m4 0h17m8 0h12m103 0h108M1265 1801.5h101m61 0h9m18 0h7m14 0h23m5 0h12m2 0h21m6 0h9m15 0h24m16 0h7m49 0h9m3 0h13m1 0h7m32 0h9m2 0h10m6 0h9m4 0h9m9 0h14m16 0h20m5 0h18m7 0h12m103 0h108M1265 1802.5h101m61 0h9m17 0h9m14 0h5m1 0h17m3 0h37m5 0h9m15 0h24m15 0h9m48 0h9m2 0h23m31 0h9m2 0h9m8 0h7m5 0h9m10 0h13m16 0h15m10 0h19m7 0h10m104 0h108M1265 1803.5h101m61 0h9m17 0h9m20 0h17m2 0h39m5 0h7m17 0h23m12 0h12m47 0h35m31 0h9m2 0h9m4 0h10m6 0h9m11 0h11m17 0h14m6 0h5m1 0h18m3 0h13m105 0h109M1265 1804.5h103m59 0h9m17 0h9m20 0h17m2 0h39m6 0h5m19 0h22m11 0h13m47 0h35m32 0h7m2 0h10m3 0h8m10 0h7m12 0h10m18 0h9m5 0h12m1 0h5m2 0h26m106 0h108M1266 1805.5h103m59 0h7m18 0h9m19 0h18m2 0h24m2 0h13m5 0h5m7 0h5m11 0h9m2 0h7m11 0h14m23 0h5m19 0h35m21 0h5m7 0h6m1 0h10m1 0h12m10 0h5m14 0h7m11 0h5m5 0h7m5 0h14m7 0h26m107 0h107M1266 1806.5h104m59 0h5m20 0h7m19 0h18m3 0h23m4 0h12m4 0h7m5 0h7m10 0h9m3 0h13m4 0h14m22 0h7m18 0h24m1 0h11m19 0h7m6 0h16m1 0h14m11 0h5m13 0h5m11 0h7m5 0h5m5 0h15m7 0h26m108 0h106M1266 1807.5h104m85 0h5m20 0h17m5 0h21m7 0h9m4 0h9m3 0h9m9 0h13m1 0h12m3 0h14m17 0h13m18 0h19m6 0h11m12 0h14m4 0h16m1 0h15m10 0h7m27 0h9m14 0h15m7 0h25m109 0h105M1266 1808.5h104m110 0h13m10 0h19m7 0h10m4 0h9m3 0h9m10 0h26m2 0h14m16 0h14m19 0h19m6 0h10m11 0h15m4 0h16m1 0h15m9 0h9m26 0h9m14 0h15m6 0h25m110 0h104M1267 1809.5h103m110 0h12m15 0h7m2 0h5m7 0h12m3 0h9m3 0h9m11 0h25m3 0h12m16 0h15m21 0h18m6 0h9m10 0h16m4 0h16m1 0h15m9 0h9m26 0h9m14 0h19m1 0h21m116 0h101M1268 1810.5h102m110 0h11m6 0h5m6 0h10m10 0h13m2 0h9m3 0h9m15 0h21m4 0h10m17 0h15m21 0h18m6 0h9m10 0h16m4 0h15m2 0h14m10 0h9m26 0h9m15 0h43m114 0h101M1268 1811.5h103m108 0h9m2 0h5m1 0h7m9 0h7m9 0h13m3 0h7m5 0h7m16 0h21m6 0h7m18 0h14m22 0h18m7 0h7m6 0h20m6 0h14m3 0h12m11 0h9m27 0h7m17 0h33m3 0h7m63 0h5m49 0h97M1267 1812.5h104m108 0h9m1 0h15m7 0h10m7 0h13m4 0h5m7 0h5m17 0h20m6 0h9m17 0h13m24 0h17m8 0h5m6 0h20m8 0h13m4 0h5m18 0h7m24 0h10m14 0h5m3 0h24m7 0h9m61 0h7m48 0h98M1267 1813.5h104m108 0h25m7 0h11m7 0h12m37 0h22m5 0h9m18 0h7m30 0h15m19 0h15m3 0h8m7 0h9m28 0h5m24 0h7m15 0h9m1 0h24m8 0h9m60 0h9m45 0h100M1267 1814.5h104m108 0h25m7 0h16m3 0h10m38 0h12m4 0h7m4 0h9m19 0h5m33 0h12m17 0h17m3 0h10m7 0h7m15 0h5m31 0h5m1 0h9m13 0h35m8 0h9m60 0h9m44 0h101M1267 1815.5h103m84 0h5m21 0h7m1 0h16m7 0h17m6 0h5m39 0h12m3 0h21m57 0h9m19 0h13m7 0h12m7 0h5m15 0h7m29 0h16m12 0h19m1 0h15m9 0h11m58 0h9m43 0h104M1268 1816.5h101m84 0h7m18 0h8m2 0h15m9 0h17m4 0h5m40 0h12m3 0h20m58 0h9m18 0h14m7 0h12m26 0h9m27 0h17m2 0h5m5 0h19m1 0h14m2 0h5m4 0h11m57 0h9m43 0h105M1268 1817.5h100m84 0h9m16 0h7m5 0h14m10 0h16m3 0h7m40 0h11m3 0h19m59 0h9m18 0h13m8 0h12m26 0h9m27 0h17m1 0h7m4 0h19m1 0h9m6 0h7m3 0h12m57 0h7m44 0h106M1269 1818.5h98m85 0h9m13 0h11m5 0h12m13 0h14m2 0h9m5 0h5m30 0h11m2 0h16m38 0h5m17 0h10m17 0h14m9 0h12m26 0h9m27 0h16m1 0h9m3 0h19m1 0h9m5 0h9m2 0h12m58 0h5m45 0h106M1270 1819.5h89m2 0h5m86 0h9m12 0h13m10 0h8m12 0h13m2 0h10m3 0h7m31 0h9m3 0h15m37 0h7m15 0h10m17 0h12m13 0h10m27 0h9m27 0h9m1 0h5m2 0h9m4 0h17m2 0h10m4 0h9m2 0h13m108 0h105M1269 1820.5h87m96 0h9m11 0h15m11 0h7m14 0h9m3 0h10m2 0h9m30 0h9m4 0h14m36 0h9m13 0h9m16 0h14m7 0h5m3 0h8m29 0h7m29 0h8m7 0h10m5 0h5m1 0h9m4 0h9m4 0h9m2 0h14m108 0h104M1268 1821.5h88m97 0h7m12 0h20m5 0h9m14 0h7m4 0h10m2 0h9m30 0h9m6 0h11m37 0h9m13 0h9m15 0h14m2 0h12m40 0h5m31 0h8m5 0h11m11 0h9m3 0h10m4 0h9m3 0h13m109 0h102M1268 1822.5h89m97 0h5m13 0h21m4 0h9m15 0h5m6 0h10m1 0h9m31 0h7m6 0h11m38 0h9m13 0h9m14 0h13m3 0h14m75 0h9m3 0h11m11 0h23m5 0h7m5 0h12m108 0h102M1268 1823.5h91m113 0h22m3 0h9m26 0h20m30 0h9m4 0h9m41 0h9m13 0h9m14 0h13m2 0h15m40 0h5m30 0h9m3 0h10m11 0h23m3 0h9m9 0h9m107 0h103M1268 1824.5h92m113 0h21m3 0h9m25 0h20m31 0h9m4 0h9m42 0h7m15 0h7m15 0h12m3 0h15m39 0h7m29 0h9m3 0h9m11 0h25m1 0h7m3 0h5m5 0h7m108 0h104M1267 1825.5h94m7 0h5m101 0h20m4 0h7m25 0h14m1 0h5m32 0h9m4 0h9m31 0h5m7 0h5m17 0h5m16 0h11m4 0h16m37 0h9m28 0h9m3 0h9m11 0h34m1 0h7m5 0h5m109 0h105M1266 1826.5h96m5 0h7m101 0h19m5 0h5m19 0h5m2 0h14m38 0h9m4 0h9m30 0h7m21 0h5m24 0h7m7 0h16m37 0h9m29 0h7m5 0h7m12 0h43m118 0h105M1265 1827.5h98m3 0h9m100 0h21m26 0h7m1 0h14m39 0h7m6 0h7m30 0h9m19 0h7m24 0h5m9 0h15m37 0h9m30 0h5m7 0h5m13 0h43m119 0h104M1265 1828.5h98m3 0h9m89 0h5m7 0h21m24 0h22m41 0h5m8 0h5m31 0h9m18 0h9m38 0h14m37 0h9m61 0h42m120 0h103M1265 1829.5h98m3 0h9m88 0h7m7 0h21m23 0h9m1 0h11m91 0h9m10 0h5m3 0h9m44 0h7m37 0h9m63 0h31m1 0h9m120 0h102M1265 1830.5h98m3 0h9m87 0h9m9 0h18m23 0h9m2 0h5m96 0h9m9 0h7m2 0h9m45 0h5m37 0h9m51 0h5m13 0h25m3 0h7m121 0h101M1266 1831.5h96m5 0h7m88 0h9m9 0h18m23 0h9m104 0h7m9 0h9m1 0h9m86 0h9m51 0h7m13 0h19m9 0h5m122 0h100M1267 1832.5h94m7 0h5m89 0h9m10 0h17m20 0h12m105 0h5m10 0h9m2 0h7m87 0h9m50 0h9m13 0h5m2 0h11m2 0h5m129 0h100M1267 1833.5h91m104 0h9m11 0h15m20 0h14m14 0h5m5 0h5m90 0h9m3 0h5m88 0h9m28 0h5m17 0h9m21 0h10m1 0h7m129 0h9m2 0h87M1268 1834.5h88m5 0h5m97 0h7m13 0h7m1 0h5m20 0h16m12 0h7m3 0h7m20 0h5m64 0h9m96 0h9m27 0h7m16 0h9m23 0h7m1 0h9m129 0h5m4 0h88M1269 1835.5h87m4 0h7m97 0h5m15 0h5m27 0h16m11 0h9m1 0h9m18 0h7m64 0h7m98 0h7m27 0h9m15 0h9m3 0h5m16 0h5m2 0h9m137 0h89M1272 1836.5h84m1 0h11m148 0h16m11 0h9m1 0h9m17 0h9m19 0h5m40 0h5m100 0h5m28 0h9m16 0h7m3 0h7m22 0h9m136 0h90M1271 1837.5h97m148 0h16m11 0h9m1 0h9m17 0h9m18 0h7m76 0h5m96 0h9m17 0h5m3 0h9m21 0h9m132 0h94M1270 1838.5h98m149 0h14m12 0h9m1 0h9m17 0h9m17 0h9m33 0h5m36 0h7m95 0h9m25 0h9m20 0h9m132 0h97M1270 1839.5h98m150 0h12m14 0h7m3 0h7m18 0h9m17 0h9m32 0h7m34 0h9m95 0h7m26 0h9m19 0h9m132 0h99M1267 1840.5h100m152 0h9m17 0h5m5 0h5m20 0h7m18 0h9m31 0h9m33 0h9m96 0h5m27 0h9m18 0h9m133 0h100M1266 1841.5h100m154 0h5m56 0h5m19 0h9m31 0h9m33 0h9m129 0h12m14 0h9m8 0h5m5 0h5m110 0h100M1265 1842.5h98m243 0h7m32 0h9m33 0h9m116 0h5m9 0h12m13 0h9m7 0h7m3 0h7m109 0h100M1265 1843.5h97m245 0h5m33 0h9m34 0h7m116 0h7m12 0h9m12 0h9m6 0h9m1 0h9m109 0h7m3 0h89M1265 1844.5h96m285 0h7m36 0h5m116 0h9m11 0h9m7 0h5m1 0h7m7 0h9m1 0h9m110 0h5m5 0h87M1265 1845.5h97m162 0h5m17 0h5m96 0h5m158 0h9m11 0h9m6 0h7m1 0h5m8 0h9m1 0h9m120 0h86M1266 1846.5h97m160 0h7m15 0h7m258 0h9m11 0h9m5 0h9m13 0h9m1 0h9m120 0h81M1267 1847.5h96m159 0h9m13 0h9m123 0h5m129 0h9m12 0h7m6 0h9m14 0h7m3 0h7m121 0h82M1269 1848.5h94m159 0h9m13 0h9m122 0h7m129 0h7m14 0h5m7 0h9m15 0h5m5 0h5m122 0h83M1269 1849.5h94m159 0h9m8 0h14m121 0h9m97 0h5m27 0h5m27 0h9m5 0h5m141 0h84M1269 1850.5h93m160 0h9m7 0h15m121 0h9m96 0h7m59 0h7m5 0h7m139 0h85M1270 1851.5h92m156 0h12m7 0h15m122 0h9m95 0h9m35 0h5m19 0h5m5 0h9m138 0h85M1271 1852.5h91m155 0h13m7 0h14m123 0h9m95 0h9m34 0h7m28 0h9m136 0h86M1272 1853.5h90m154 0h14m7 0h9m129 0h7m96 0h9m33 0h9m27 0h9m135 0h86M1271 1854.5h91m154 0h14m7 0h9m130 0h5m97 0h9m33 0h9m27 0h9m134 0h86M1271 1855.5h90m155 0h14m8 0h7m234 0h7m34 0h9m28 0h7m28 0h5m102 0h86M1271 1856.5h91m154 0h13m10 0h5m236 0h5m35 0h9m29 0h5m28 0h7m101 0h86M1271 1857.5h84m1 0h7m154 0h11m293 0h7m50 0h5m7 0h9m100 0h86M1272 1858.5h92m154 0h5m299 0h5m50 0h7m6 0h9m101 0h84M1273 1859.5h91m307 0h5m112 0h5m83 0h9m5 0h9m102 0h83M1272 1860.5h92m306 0h7m110 0h7m82 0h9m5 0h9m104 0h82M1272 1861.5h92m305 0h9m108 0h9m81 0h9m6 0h7m104 0h84M1272 1862.5h92m305 0h9m108 0h9m48 0h5m28 0h9m7 0h5m105 0h84M1272 1863.5h92m148 0h5m152 0h9m108 0h9m47 0h7m28 0h7m82 0h5m31 0h84M1273 1864.5h92m146 0h7m151 0h9m108 0h9m46 0h9m28 0h5m82 0h7m30 0h85M1274 1865.5h92m106 0h5m33 0h9m151 0h7m110 0h7m47 0h9m114 0h9m30 0h84M1276 1866.5h91m104 0h7m32 0h9m152 0h5m112 0h5m48 0h9m114 0h9m30 0h84M1274 1867.5h93m103 0h9m31 0h9m322 0h9m114 0h9m25 0h90M1273 1868.5h94m103 0h11m29 0h9m323 0h7m115 0h9m24 0h91M1272 1869.5h95m103 0h12m29 0h7m325 0h5m117 0h7m24 0h92M1272 1870.5h84m3 0h7m104 0h13m29 0h5m449 0h5m25 0h92M1271 1871.5h85m4 0h5m106 0h12m513 0h91M1270 1872.5h86m116 0h11m513 0h90M1270 1873.5h86m118 0h9m320 0h5m189 0h90M1270 1874.5h86m7 0h5m107 0h7m320 0h7m189 0h90M1270 1875.5h86m6 0h7m107 0h5m320 0h9m189 0h90M1271 1876.5h89m1 0h9m431 0h9m54 0h5m130 0h8m1 0h81M1272 1877.5h98m431 0h9m53 0h7m128 0h9m1 0h81M1273 1878.5h97m431 0h9m52 0h9m127 0h9m1 0h81M1273 1879.5h97m432 0h7m53 0h9m127 0h90M1273 1880.5h96m434 0h5m54 0h9m127 0h89M1274 1881.5h88m1 0h5m494 0h9m128 0h89M1275 1882.5h72m2 0h12m121 0h5m269 0h5m102 0h7m130 0h88M1275 1883.5h85m121 0h7m267 0h7m102 0h5m132 0h87M1275 1884.5h81m124 0h9m265 0h9m238 0h87M1275 1885.5h81m124 0h9m265 0h9m239 0h85M1276 1886.5h80m124 0h9m265 0h9m240 0h83M1277 1887.5h79m124 0h9m265 0h9m240 0h81M1279 1888.5h76m126 0h7m267 0h7m242 0h80M1278 1889.5h76m128 0h5m269 0h5m243 0h82M1277 1890.5h76m5 0h5m640 0h84M1275 1891.5h79m3 0h7m638 0h86M1274 1892.5h80m2 0h9m136 0h5m495 0h87M1273 1893.5h81m2 0h9m135 0h7m494 0h87M1273 1894.5h81m2 0h9m134 0h9m493 0h87M1273 1895.5h81m2 0h9m134 0h9m493 0h86M1273 1896.5h81m3 0h7m135 0h9m34 0h5m455 0h7m2 0h75M1273 1897.5h81m4 0h5m136 0h9m33 0h7m304 0h5m146 0h5m4 0h73M1272 1898.5h81m147 0h7m33 0h9m302 0h7m157 0h70M1271 1899.5h85m145 0h5m34 0h9m301 0h9m159 0h66M1271 1900.5h86m183 0h9m301 0h9m158 0h66M1271 1901.5h87m182 0h9m301 0h9m158 0h61M1270 1902.5h88m183 0h7m302 0h9m154 0h65M1270 1903.5h88m184 0h5m304 0h7m154 0h66M1270 1904.5h88m494 0h5m154 0h72M1270 1905.5h87m654 0h73M1271 1906.5h85m655 0h74M1272 1907.5h81m658 0h74M1275 1908.5h78m659 0h73M1275 1909.5h78m657 0h75M1275 1910.5h78m174 0h5m477 0h67m1 0h7M1275 1911.5h78m173 0h7m475 0h68m2 0h5M1276 1912.5h77m172 0h9m474 0h71M1277 1913.5h75m173 0h9m473 0h73M1278 1914.5h73m174 0h9m472 0h75M1278 1915.5h71m176 0h9m471 0h76M1279 1916.5h70m177 0h7m234 0h5m233 0h76M1280 1917.5h69m178 0h5m234 0h7m232 0h76M1282 1918.5h66m417 0h9m231 0h75M1282 1919.5h66m417 0h9m232 0h73M1273 1920.5h5m4 0h66m417 0h9m232 0h72M1272 1921.5h7m3 0h66m417 0h9m232 0h70M1271 1922.5h9m2 0h65m419 0h7m234 0h70M1271 1923.5h9m2 0h64m421 0h5m236 0h69M1271 1924.5h9m1 0h65m474 0h5m191 0h61M1271 1925.5h75m473 0h7m190 0h61M1272 1926.5h74m472 0h9m188 0h61M1273 1927.5h72m473 0h9m188 0h61M1274 1928.5h72m472 0h9m188 0h65M1274 1929.5h73m471 0h9m188 0h66M1274 1930.5h74m471 0h7m190 0h66M1275 1931.5h73m472 0h5m190 0h67M1276 1932.5h72m667 0h67M1281 1933.5h67m667 0h67M1276 1934.5h5m1 0h65m668 0h58m1 0h7M1275 1935.5h72m669 0h56m3 0h5M1274 1936.5h72m671 0h54M1274 1937.5h71m672 0h54M1274 1938.5h71m672 0h54M1274 1939.5h71m671 0h55M1275 1940.5h70m670 0h59M1276 1941.5h5m1 0h63m670 0h60M1281 1942.5h63m671 0h61M1281 1943.5h62m672 0h61M1281 1944.5h65m668 0h62M1281 1945.5h66m666 0h63M1282 1946.5h66m654 0h5m6 0h63M1283 1947.5h65m653 0h7m5 0h63M1285 1948.5h49m1 0h13m1 0h5m646 0h9m4 0h63M1285 1949.5h70m645 0h9m5 0h62M1286 1950.5h70m644 0h9m6 0h61M1286 1951.5h60m1 0h9m644 0h9m10 0h56M1286 1952.5h57m4 0h9m645 0h7m11 0h55M1286 1953.5h58m3 0h9m646 0h5m12 0h53M1286 1954.5h58m4 0h7m664 0h53m1 0h5M1287 1955.5h57m5 0h5m666 0h59M1281 1956.5h5m2 0h56m677 0h59M1280 1957.5h63m673 0h5m2 0h57M1279 1958.5h63m673 0h65M1279 1959.5h59m676 0h66M1279 1960.5h58m677 0h65M1279 1961.5h57m678 0h64M1280 1962.5h55m679 0h64M1281 1963.5h55m678 0h63M1284 1964.5h53m678 0h61M1285 1965.5h53m678 0h57M1284 1966.5h54m677 0h58M1283 1967.5h43m1 0h11m677 0h58M1282 1968.5h56m677 0h57M1282 1969.5h55m2 0h5m671 0h56M1282 1970.5h55m1 0h7m671 0h54M1282 1971.5h64m671 0h5m1 0h47M1282 1972.5h64m676 0h47M1282 1973.5h64m672 0h50m1 0h5M1282 1974.5h64m671 0h58M1283 1975.5h46m1 0h15m671 0h60M1284 1976.5h46m1 0h7m1 0h5m672 0h60M1285 1977.5h52m679 0h60M1284 1978.5h50m682 0h60M1283 1979.5h52m682 0h58M1282 1980.5h10m1 0h43m682 0h56M1282 1981.5h9m1 0h45m682 0h51M1282 1982.5h55m682 0h51M1282 1983.5h55m682 0h50M1283 1984.5h54m683 0h48M1284 1985.5h54m683 0h46M1287 1986.5h52m687 0h42M1286 1987.5h54m679 0h5m1 0h44M1285 1988.5h55m678 0h51M1285 1989.5h55m677 0h52M1285 1990.5h55m677 0h53M1279 1991.5h5m1 0h54m678 0h54M1278 1992.5h60m679 0h9m1 0h44M1277 1993.5h60m681 0h7m3 0h43M1277 1994.5h57m685 0h5m3 0h45M1277 1995.5h56m694 0h45M1277 1996.5h57m693 0h47M1278 1997.5h56m693 0h48M1279 1998.5h5m1 0h49m693 0h49M1285 1999.5h53m685 0h54M1285 2000.5h54m683 0h44m1 0h10M1286 2001.5h54m681 0h56M1287 2002.5h43m1 0h9m680 0h57M1292 2003.5h38m1 0h9m680 0h56M1291 2004.5h39m1 0h9m680 0h55M1291 2005.5h39m2 0h7m681 0h50M1290 2006.5h39m4 0h5m683 0h7m1 0h41M1290 2007.5h38m692 0h7m2 0h40M1290 2008.5h36m693 0h7m3 0h42M1290 2009.5h36m692 0h9m1 0h36m1 0h7M1291 2010.5h36m691 0h55M1292 2011.5h5m1 0h29m691 0h55M1299 2012.5h28m691 0h55M1296 2013.5h31m692 0h54M1295 2014.5h35m689 0h53M1294 2015.5h37m689 0h7m2 0h5m3 0h34M1290 2016.5h42m689 0h5m11 0h35M1289 2017.5h43m692 0h5m8 0h36M1288 2018.5h44m691 0h7m6 0h37M1288 2019.5h44m690 0h9m4 0h38M1288 2020.5h43m691 0h9m3 0h39M1288 2021.5h42m686 0h5m1 0h9m2 0h25m7 0h7M1289 2022.5h36m690 0h16m2 0h26m7 0h5M1290 2023.5h35m689 0h16m3 0h27M1295 2024.5h30m689 0h15m4 0h28M1295 2025.5h30m689 0h12m8 0h27M1296 2026.5h28m690 0h13m6 0h28M1297 2027.5h5m2 0h20m691 0h12m5 0h29M1305 2028.5h18m10 0h5m678 0h11m4 0h29m2 0h5M1296 2029.5h5m4 0h19m8 0h7m679 0h9m4 0h28m2 0h7M1295 2030.5h7m3 0h19m7 0h9m679 0h7m5 0h38M1294 2031.5h9m3 0h7m2 0h9m7 0h9m680 0h5m6 0h38M1294 2032.5h9m1 0h8m3 0h9m7 0h9m692 0h37M1294 2033.5h19m3 0h7m8 0h9m693 0h36M1294 2034.5h19m3 0h9m7 0h7m696 0h16m2 0h15M1295 2035.5h18m2 0h11m7 0h5m697 0h16m1 0h15M1295 2036.5h18m2 0h12m708 0h26M1296 2037.5h18m1 0h13m708 0h25M1297 2038.5h5m1 0h26m708 0h24M1301 2039.5h28m710 0h22M1300 2040.5h29m709 0h24M1299 2041.5h14m1 0h15m696 0h5m8 0h13m2 0h10M1298 2042.5h30m696 0h12m2 0h12m4 0h9M1298 2043.5h23m1 0h5m696 0h25m6 0h9M1298 2044.5h23m702 0h26m5 0h9M1298 2045.5h24m698 0h30m5 0h7M1299 2046.5h24m696 0h31m6 0h5M1300 2047.5h23m695 0h32m2 0h5M1305 2048.5h18m695 0h32m1 0h7M1306 2049.5h17m695 0h41M1315 2050.5h7m696 0h41M1308 2051.5h5m3 0h5m698 0h40M1307 2052.5h7m706 0h11m5 0h27M1306 2053.5h9m710 0h5m7 0h27M1305 2054.5h10m722 0h28M1304 2055.5h11m723 0h14m4 0h9M1303 2056.5h13m721 0h15m4 0h9M1295 2057.5h5m3 0h14m719 0h16m3 0h10M1294 2058.5h7m1 0h15m719 0h16m2 0h14M1293 2059.5h27m716 0h17m1 0h15M1293 2060.5h28m715 0h34M1293 2061.5h29m715 0h33M1293 2062.5h29m716 0h32M1294 2063.5h7m1 0h7m3 0h10m719 0h29M1295 2064.5h5m3 0h5m4 0h10m718 0h13m1 0h15M1312 2065.5h9m718 0h13m2 0h14M1312 2066.5h9m718 0h11m5 0h7M1313 2067.5h7m719 0h9m8 0h5M1314 2068.5h5m720 0h9M2040 2069.5h7M2041 2070.5h5M1297 2071.5h5M1296 2072.5h7M1295 2073.5h9M1295 2074.5h9M1295 2075.5h9M1295 2076.5h9m753 0h5M1296 2077.5h7m753 0h7M1297 2078.5h5m753 0h9M2055 2079.5h9M1307 2080.5h5m743 0h9M1291 2081.5h5m10 0h7m742 0h9M1290 2082.5h7m8 0h9m742 0h7M1289 2083.5h9m7 0h9m743 0h5M1289 2084.5h9m7 0h10M1289 2085.5h9m7 0h10M1289 2086.5h9m8 0h9M1290 2087.5h7m9 0h9M1291 2088.5h5m11 0h7M1308 2089.5h5M2035 2102.5h5M2034 2103.5h7M1310 2104.5h5m718 0h9m20 0h5M1309 2105.5h7m717 0h9m19 0h7M1308 2106.5h9m716 0h9m18 0h9M1308 2107.5h9m716 0h9m18 0h9M1308 2108.5h9m717 0h7m19 0h9M1308 2109.5h9m718 0h5m20 0h9M1309 2110.5h7m745 0h7M1310 2111.5h5m747 0h5" fill="none" stroke="#6b7b8d" stroke-width="1" shape-rendering="crispEdges"/>
<polyline points="1267,1591.8 1269.1,1615.4 1271.1,1638.3 1273.2,1660.2 1275.2,1681.3 1277.3,1701.3 1279.4,1720.2 1281.4,1738.1 1283.5,1754.7 1285.5,1770.2 1287.6,1784.5 1289.7,1797.5 1291.7,1809.2 1293.8,1819.6 1295.8,1828.7 1297.9,1836.6 1300,1843.2 1302,1848.5 1304.1,1852.5 1306.1,1855.3 1308.2,1856.9 1310.3,1857.3 1312.3,1856.6 1314.4,1854.7 1316.4,1851.8 1318.5,1847.9 1320.6,1843.1 1322.6,1837.3 1324.7,1830.7 1326.7,1823.3 1328.8,1815.1 1330.9,1806.3 1332.9,1796.8 1335,1786.8 1337,1776.4 1339.1,1765.5 1341.2,1754.2 1343.2,1742.7 1345.3,1730.9 1347.3,1718.9 1349.4,1706.8 1351.5,1694.7 1353.5,1682.6 1355.6,1670.5 1357.6,1658.6 1359.7,1646.8 1361.8,1635.2 1363.8,1623.8 1365.9,1612.8 1367.9,1602.1 1370,1591.8 1372.1,1581.8 1374.1,1572.3 1376.2,1563.3 1378.2,1554.8 1380.3,1546.7 1382.4,1539.2 1384.4,1532.2 1386.5,1525.8 1388.5,1520 1390.6,1514.7 1392.7,1509.9 1394.7,1505.8 1396.8,1502.2 1398.8,1499.1 1400.9,1496.6 1403,1494.6 1405,1493.2 1407.1,1492.3 1409.1,1491.8 1411.2,1491.9 1413.3,1492.4 1415.3,1493.3 1417.4,1494.6 1419.4,1496.3 1421.5,1498.4 1423.6,1500.8 1425.6,1503.5 1427.7,1506.5 1429.7,1509.7 1431.8,1513.2 1433.9,1516.9 1435.9,1520.7 1438,1524.7 1440,1528.8 1442.1,1532.9 1444.2,1537.2 1446.2,1541.5 1448.3,1545.8 1450.3,1550.1 1452.4,1554.4 1454.5,1558.6 1456.5,1562.7 1458.6,1566.8 1460.6,1570.8 1462.7,1574.7 1464.8,1578.4 1466.8,1582 1468.9,1585.4 1470.9,1588.7 1473,1591.8 1475.1,1594.7 1477.1,1597.4 1479.2,1599.9 1481.2,1602.3 1483.3,1604.4 1485.4,1606.4 1487.4,1608.1 1489.5,1609.7 1491.5,1611.1 1493.6,1612.2 1495.7,1613.2 1497.7,1614 1499.8,1614.7 1501.8,1615.2 1503.9,1615.5 1506,1615.7 1508,1615.7 1510.1,1615.6 1512.1,1615.4 1514.2,1615 1516.3,1614.6 1518.3,1614 1520.4,1613.4 1522.4,1612.7 1524.5,1611.9 1526.6,1611.1 1528.6,1610.2 1530.7,1609.3 1532.7,1608.3 1534.8,1607.3 1536.9,1606.4 1538.9,1605.3 1541,1604.3 1543,1603.4 1545.1,1602.4 1547.2,1601.4 1549.2,1600.5 1551.3,1599.5 1553.3,1598.7 1555.4,1597.8 1557.5,1597 1559.5,1596.2 1561.6,1595.5 1563.6,1594.8 1565.7,1594.2 1567.8,1593.6 1569.8,1593.1 1571.9,1592.6 1573.9,1592.1 1576,1591.8 1578.1,1591.4 1580.1,1591.1 1582.2,1590.8 1584.2,1590.6 1586.3,1590.4 1588.4,1590.3 1590.4,1590.1 1592.5,1590 1594.5,1590 1596.6,1590 1598.7,1589.9 1600.7,1590 1602.8,1590 1604.8,1590 1606.9,1590.1 1609,1590.2 1611,1590.2 1613.1,1590.3 1615.1,1590.4 1617.2,1590.5 1619.3,1590.6 1621.3,1590.7 1623.4,1590.8 1625.4,1590.9 1627.5,1591 1629.6,1591.1 1631.6,1591.2 1633.7,1591.3 1635.7,1591.3 1637.8,1591.4 1639.9,1591.4 1641.9,1591.5 1644,1591.5 1646,1591.6 1648.1,1591.6 1650.2,1591.6 1652.2,1591.7 1654.3,1591.7 1656.3,1591.7 1658.4,1591.7 1660.5,1591.7 1662.5,1591.7 1664.6,1591.7 1666.6,1591.7 1668.7,1591.7 1670.8,1591.7 1672.8,1591.7 1674.9,1591.7 1676.9,1591.7 1679,1591.8 1681.1,1591.7 1683.1,1591.7 1685.2,1591.7 1687.2,1591.7 1689.3,1591.7 1691.4,1591.7 1693.4,1591.7 1695.5,1591.7 1697.5,1591.7 1699.6,1591.7 1701.7,1591.7 1703.7,1591.7 1705.8,1591.7 1707.8,1591.6 1709.9,1591.6 1712,1591.6 1714,1591.5 1716.1,1591.5 1718.1,1591.4 1720.2,1591.4 1722.3,1591.3 1724.3,1591.3 1726.4,1591.2 1728.4,1591.1 1730.5,1591 1732.6,1590.9 1734.6,1590.8 1736.7,1590.7 1738.7,1590.6 1740.8,1590.5 1742.9,1590.4 1744.9,1590.3 1747,1590.2 1749,1590.2 1751.1,1590.1 1753.2,1590 1755.2,1590 1757.3,1590 1759.3,1589.9 1761.4,1590 1763.5,1590 1765.5,1590 1767.6,1590.1 1769.6,1590.3 1771.7,1590.4 1773.8,1590.6 1775.8,1590.8 1777.9,1591.1 1779.9,1591.4 1782,1591.8 1784.1,1592.1 1786.1,1592.6 1788.2,1593.1 1790.2,1593.6 1792.3,1594.2 1794.4,1594.8 1796.4,1595.5 1798.5,1596.2 1800.5,1597 1802.6,1597.8 1804.7,1598.7 1806.7,1599.5 1808.8,1600.5 1810.8,1601.4 1812.9,1602.4 1815,1603.4 1817,1604.3 1819.1,1605.3 1821.1,1606.4 1823.2,1607.3 1825.3,1608.3 1827.3,1609.3 1829.4,1610.2 1831.4,1611.1 1833.5,1611.9 1835.6,1612.7 1837.6,1613.4 1839.7,1614 1841.7,1614.6 1843.8,1615 1845.9,1615.4 1847.9,1615.6 1850,1615.7 1852,1615.7 1854.1,1615.5 1856.2,1615.2 1858.2,1614.7 1860.3,1614 1862.3,1613.2 1864.4,1612.2 1866.5,1611.1 1868.5,1609.7 1870.6,1608.1 1872.6,1606.4 1874.7,1604.4 1876.8,1602.3 1878.8,1599.9 1880.9,1597.4 1882.9,1594.7 1885,1591.8 1887.1,1588.7 1889.1,1585.4 1891.2,1582 1893.2,1578.4 1895.3,1574.7 1897.4,1570.8 1899.4,1566.8 1901.5,1562.7 1903.5,1558.6 1905.6,1554.4 1907.7,1550.1 1909.7,1545.8 1911.8,1541.5 1913.8,1537.2 1915.9,1532.9 1918,1528.8 1920,1524.7 1922.1,1520.7 1924.1,1516.9 1926.2,1513.2 1928.3,1509.7 1930.3,1506.5 1932.4,1503.5 1934.4,1500.8 1936.5,1498.4 1938.6,1496.3 1940.6,1494.6 1942.7,1493.3 1944.7,1492.4 1946.8,1491.9 1948.9,1491.8 1950.9,1492.3 1953,1493.2 1955,1494.6 1957.1,1496.6 1959.2,1499.1 1961.2,1502.2 1963.3,1505.8 1965.3,1509.9 1967.4,1514.7 1969.5,1520 1971.5,1525.8 1973.6,1532.2 1975.6,1539.2 1977.7,1546.7 1979.8,1554.8 1981.8,1563.3 1983.9,1572.3 1985.9,1581.8 1988,1591.8 1990.1,1602.1 1992.1,1612.8 1994.2,1623.8 1996.2,1635.2 1998.3,1646.8 2000.4,1658.6 2002.4,1670.5 2004.5,1682.6 2006.5,1694.7 2008.6,1706.8 2010.7,1718.9 2012.7,1730.9 2014.8,1742.7 2016.8,1754.2 2018.9,1765.5 2021,1776.4 2023,1786.8 2025.1,1796.8 2027.1,1806.3 2029.2,1815.1 2031.3,1823.3 2033.3,1830.7 2035.4,1837.3 2037.4,1843.1 2039.5,1847.9 2041.6,1851.8 2043.6,1854.7 2045.7,1856.6 2047.7,1857.3 2049.8,1856.9 2051.9,1855.3 2053.9,1852.5 2056,1848.5 2058,1843.2 2060.1,1836.6 2062.2,1828.7 2064.2,1819.6 2066.3,1809.2 2068.3,1797.5 2070.4,1784.5 2072.5,1770.2 2074.5,1754.7 2076.6,1738.1 2078.6,1720.2 2080.7,1701.3 2082.8,1681.3 2084.8,1660.2 2086.9,1638.3 2088.9,1615.4 2091,1591.8" fill="none" stroke="#231f20" stroke-width="8.2" stroke-linejoin="round" shape-rendering="crispEdges"/>
<polyline points="1268.5,1594.4 1280.6,1731.6 1296.7,1832.8 1310.6,1863.3 1322.6,1843.9 1336.5,1778.8 1377.7,1555.3 1397.1,1497.3 1421.5,1492.6 1490.4,1618.8 1588.1,1588.2 1779,1590.6 1849.2,1615.9 1879.6,1604.3 1936.2,1492.6 1959,1492.6 1974.9,1532.6 1989.3,1592.8 2029,1811 2036.7,1840.3 2047.3,1863.3 2067.7,1817.6 2081.2,1708.3 2091,1597.1" fill="none" stroke="#ed1c24" stroke-width="8.3" stroke-linejoin="round" shape-rendering="crispEdges"/>
<g fill="none" stroke="#ed1c24" stroke-width="9.8" shape-rendering="crispEdges"><circle cx="1268.5" cy="1594.4" r="6.7"/><circle cx="1280.6" cy="1731.6" r="6.7"/><circle cx="1296.7" cy="1832.8" r="6.7"/><circle cx="1310.6" cy="1863.3" r="6.7"/><circle cx="1322.6" cy="1843.9" r="6.7"/><circle cx="1336.5" cy="1778.8" r="6.7"/><circle cx="1377.7" cy="1555.3" r="6.7"/><circle cx="1397.1" cy="1497.3" r="6.7"/><circle cx="1421.5" cy="1492.6" r="6.7"/><circle cx="1490.4" cy="1618.8" r="6.7"/><circle cx="1588.1" cy="1588.2" r="6.7"/><circle cx="1779" cy="1590.6" r="6.7"/><circle cx="1849.2" cy="1615.9" r="6.7"/><circle cx="1879.6" cy="1604.3" r="6.7"/><circle cx="1936.2" cy="1492.6" r="6.7"/><circle cx="1959" cy="1492.6" r="6.7"/><circle cx="1974.9" cy="1532.6" r="6.7"/><circle cx="1989.3" cy="1592.8" r="6.7"/><circle cx="2029" cy="1811" r="6.7"/><circle cx="2036.7" cy="1840.3" r="6.7"/><circle cx="2047.3" cy="1863.3" r="6.7"/><circle cx="2067.7" cy="1817.6" r="6.7"/><circle cx="2081.2" cy="1708.3" r="6.7"/><circle cx="2091" cy="1597.1" r="6.7"/></g>
<path d="M1268 2129.0v-19.8M1280 2129.0v-19.8M1296 2129.0v-19.8M1310 2129.0v-19.8M1322 2129.0v-19.8M1336 2129.0v-19.8M1377 2129.0v-19.8M1397 2129.0v-19.8M1421 2129.0v-19.8M1490 2129.0v-19.8M1588 2129.0v-19.8M1779 2129.0v-19.8M1849 2129.0v-19.8M1879 2129.0v-19.8M1936 2129.0v-19.8M1959 2129.0v-19.8M1975 2129.0v-19.8M1989 2129.0v-19.8M2029 2129.0v-19.8M2036 2129.0v-19.8M2047 2129.0v-19.8M2067 2129.0v-19.8M2081 2129.0v-19.8M2091 2129.0v-19.8" fill="none" stroke="#ff0000" stroke-width="2"/>
<text transform="translate(1266.00,2203.20) scale(0.965,1)" font-size="59.8" text-anchor="middle" fill="#4a4b4d">-4</text>
<text transform="translate(1472.00,2203.20) scale(0.965,1)" font-size="59.8" text-anchor="middle" fill="#4a4b4d">-2</text>
<text transform="translate(1678.00,2203.20) scale(0.965,1)" font-size="59.8" text-anchor="middle" fill="#4a4b4d">0</text>
<text transform="translate(1884.00,2203.20) scale(0.965,1)" font-size="59.8" text-anchor="middle" fill="#4a4b4d">2</text>
<text transform="translate(2090.00,2203.20) scale(0.965,1)" font-size="59.8" text-anchor="middle" fill="#4a4b4d">4</text>
<text transform="translate(1246.50,1312.40) scale(0.985,1)" font-size="59.8" text-anchor="end" fill="#4a4b4d">60</text>
<text transform="translate(1246.50,1431.90) scale(0.985,1)" font-size="59.8" text-anchor="end" fill="#4a4b4d">40</text>
<text transform="translate(1246.50,1551.40) scale(0.985,1)" font-size="59.8" text-anchor="end" fill="#4a4b4d">20</text>
<text transform="translate(1246.50,1670.90) scale(0.985,1)" font-size="59.8" text-anchor="end" fill="#4a4b4d">0</text>
<text transform="translate(1246.50,1790.40) scale(0.985,1)" font-size="59.8" text-anchor="end" fill="#4a4b4d">-20</text>
<text transform="translate(1246.50,1909.90) scale(0.985,1)" font-size="59.8" text-anchor="end" fill="#4a4b4d">-40</text>
<text transform="translate(1246.50,2029.40) scale(0.985,1)" font-size="59.8" text-anchor="end" fill="#4a4b4d">-60</text>
<text transform="translate(1678.00,2276.00) scale(1.1,1)" font-size="60.5" text-anchor="middle" fill="#4a4b4d">x</text>
<text transform="translate(1133.7,1706.5) rotate(-90) scale(1.10,1)" font-size="60.5" text-anchor="middle" fill="#4a4b4d">y</text>
<text transform="translate(1439.73,1248.30) scale(1.1991,1)" font-size="65" font-weight="bold" fill="#231f20">PR4</text>
<text transform="translate(1583.26,1248.30) scale(1.1237,1)" font-size="65" fill="#231f20">:</text>
<text transform="translate(1635.55,1248.30) scale(1.0897,1)" font-size="65" font-style="italic" fill="#231f20">N</text>
<text transform="translate(1712.12,1254.30) scale(1.4094,1)" font-size="65" fill="#231f20">=</text>
<text transform="translate(1786.25,1248.30) scale(1.0235,1)" font-size="65" fill="#231f20">100k</text>
<rect x="1419.0" y="1321.0" width="521.0" height="82" fill="#fff" stroke="#3d3f41" stroke-width="2"/>
<path d="M1441.3 1361.7h113" fill="none" stroke="#ed1c24" stroke-width="8"/>
<circle cx="1497.8" cy="1361.7" r="11" fill="#ed1c24"/>
<text transform="translate(1565.34,1374.20) scale(1.0659,1)" font-size="52" fill="#231f20">LHM</text>
<text transform="translate(1708.53,1374.20) scale(1.0558,1)" font-size="52" fill="#231f20">(</text>
<text transform="translate(1732.77,1374.20) scale(1.0897,1)" font-size="52" font-style="italic" fill="#231f20">K</text>
<text transform="translate(1794.39,1379.20) scale(1.3896,1)" font-size="52" fill="#231f20">=</text>
<text transform="translate(1856.20,1374.20) scale(0.9820,1)" font-size="52" fill="#231f20">24</text>
<text transform="translate(1910.48,1374.20) scale(1.0355,1)" font-size="52" fill="#231f20">)</text>
</svg>
</body>
</html>
